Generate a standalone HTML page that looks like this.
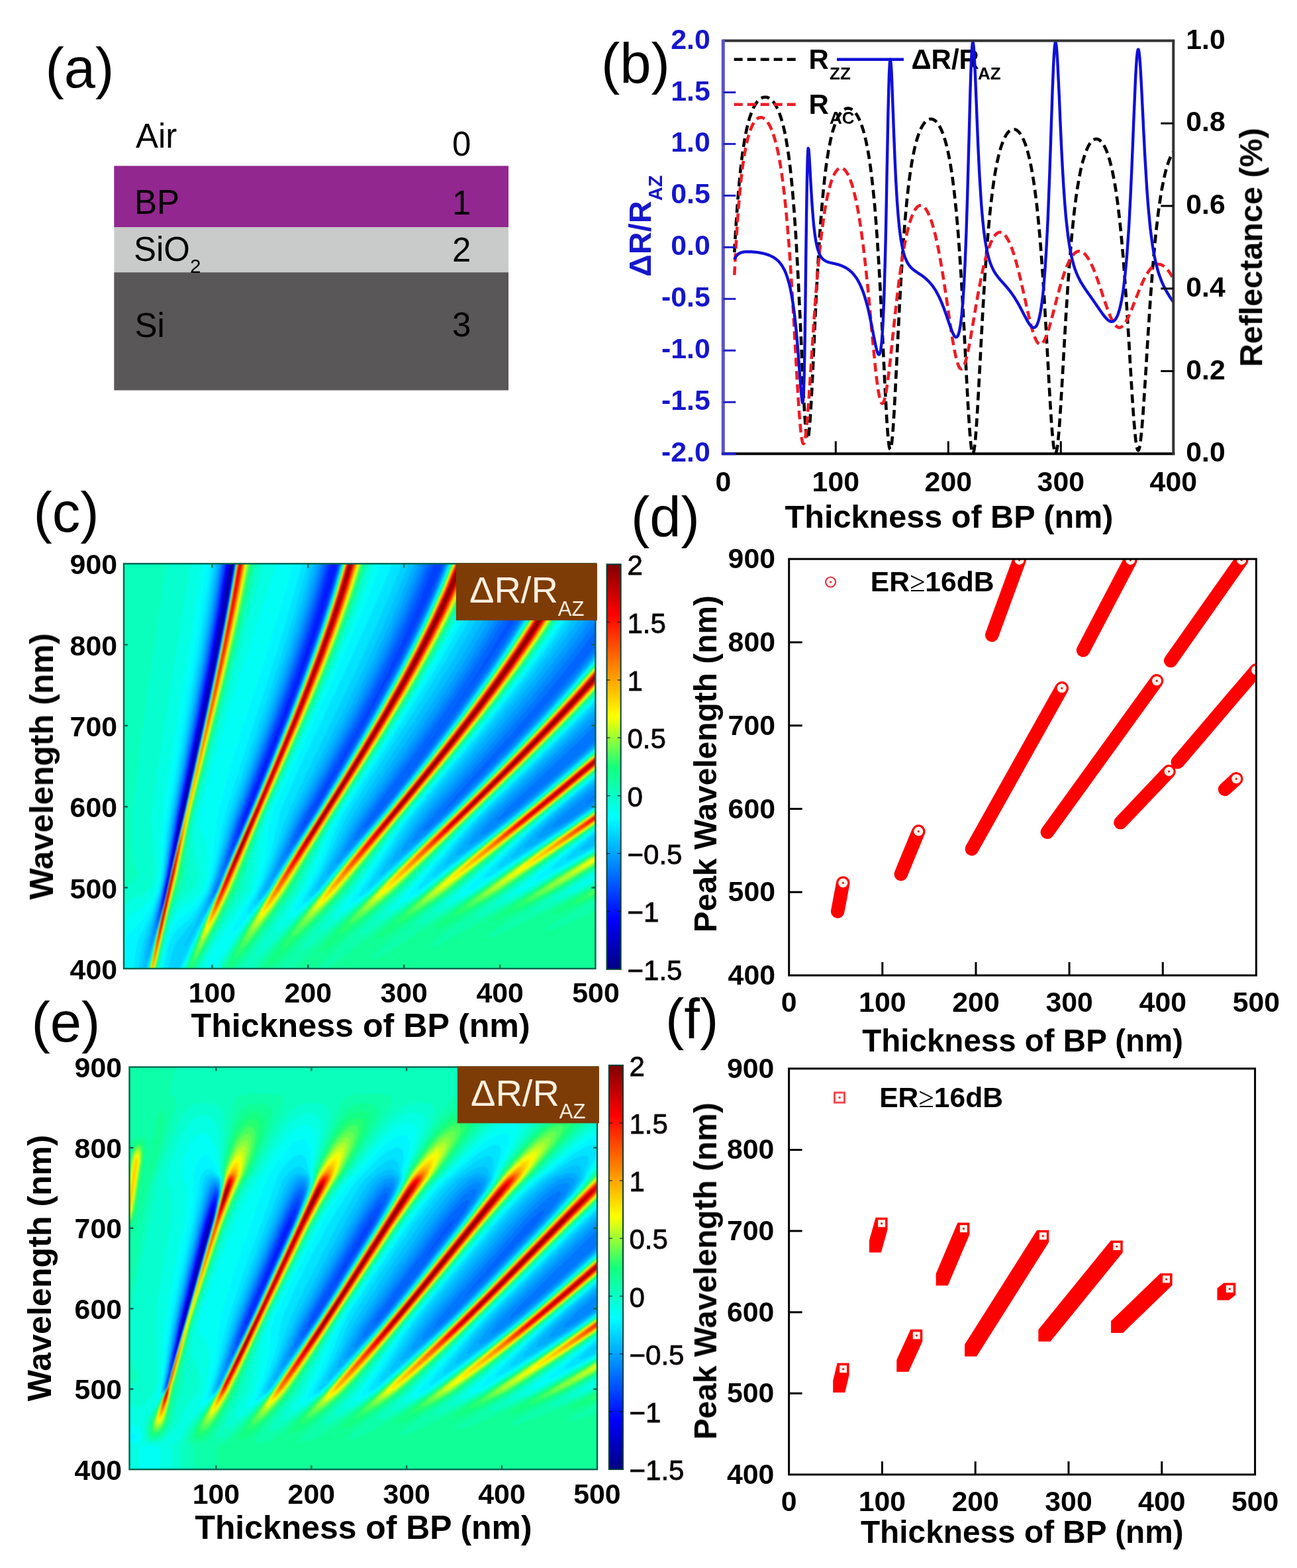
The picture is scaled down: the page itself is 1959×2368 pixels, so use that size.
<!DOCTYPE html>
<html lang="en"><head><meta charset="utf-8"><title>Figure</title>
<style>html,body{margin:0;padding:0;background:#fff;overflow:hidden}svg{display:block}text{font-family:"Liberation Sans", sans-serif}</style></head>
<body><svg width="1959" height="2368" viewBox="0 0 1959 2368">
<defs><clipPath id="hc"><rect x="0" y="0" width="1425" height="1223"/></clipPath><filter id="hcb" x="-2%" y="-2%" width="104%" height="104%" color-interpolation-filters="sRGB"><feGaussianBlur stdDeviation="2.4"/></filter>
<linearGradient id="hcg" x1="0" y1="0" x2="0" y2="1"><stop offset="0" stop-color="#800000"/><stop offset="0.125" stop-color="#ff0000"/><stop offset="0.375" stop-color="#ffff00"/><stop offset="0.5" stop-color="#14ff7a"/><stop offset="0.625" stop-color="#00ffff"/><stop offset="0.875" stop-color="#0000ff"/><stop offset="1" stop-color="#000080"/></linearGradient>
<clipPath id="he"><rect x="0" y="0" width="1413" height="1215"/></clipPath><filter id="heb" x="-2%" y="-2%" width="104%" height="104%" color-interpolation-filters="sRGB"><feGaussianBlur stdDeviation="2.4"/></filter>
<linearGradient id="heg" x1="0" y1="0" x2="0" y2="1"><stop offset="0" stop-color="#800000"/><stop offset="0.125" stop-color="#ff0000"/><stop offset="0.375" stop-color="#ffff00"/><stop offset="0.5" stop-color="#14ff7a"/><stop offset="0.625" stop-color="#00ffff"/><stop offset="0.875" stop-color="#0000ff"/><stop offset="1" stop-color="#000080"/></linearGradient>
<clipPath id="cb"><rect x="1092.3" y="61.5" width="680.0" height="623.8"/></clipPath>
<clipPath id="cd"><rect x="1191.7" y="844.2" width="705.7" height="628.8"/></clipPath>
<clipPath id="cf"><rect x="1191.6" y="1613.8" width="704.0" height="613.1"/></clipPath>
<filter id="soft" filterUnits="userSpaceOnUse" x="0" y="0" width="1959" height="2368" color-interpolation-filters="sRGB"><feGaussianBlur stdDeviation="0.6"/></filter></defs>
<rect width="1959" height="2368" fill="#fff"/>
<g filter="url(#soft)">
<rect x="172.3" y="250.5" width="595.7" height="92.5" fill="#92278f"/>
<rect x="172.3" y="343.0" width="595.7" height="68.3" fill="#c9caca"/>
<rect x="172.3" y="411.3" width="595.7" height="178.1" fill="#595757"/>
<text x="205.0" y="223.0" font-size="51" fill="#000">Air</text>
<text x="683.0" y="235.3" font-size="51" fill="#000">0</text>
<text x="203.0" y="323.0" font-size="51" fill="#000">BP</text>
<text x="683.0" y="323.5" font-size="51" fill="#000">1</text>
<text x="202.0" y="394.3" font-size="51" fill="#000">SiO<tspan dy="18" font-size="29.5">2</tspan></text>
<text x="683.0" y="394.8" font-size="51" fill="#000">2</text>
<text x="203.5" y="508.9" font-size="51" fill="#000">Si</text>
<text x="683.0" y="508.3" font-size="51" fill="#000">3</text>
<g transform="translate(187.0 851.3) scale(0.5)" clip-path="url(#hc)">
<g filter="url(#hcb)">
<rect x="-8" y="-8" width="1440" height="1239" fill="#000089"/>
<path fill="#00009b" d="M-6-6l1436 0 0 1234-1436 0z"/>
<path fill="#0000ad" d="M-6-6l330 0-14 100-1 12 1 2 21-114 1099 0 0 1234-1436 0zM204 628l-32 143-8 42 0 8 1-5 1-2 8-34 20-94 9-46 1-3 1-9zM206 619l-1 7 1 1z"/>
<path fill="#0000bf" d="M-6-6l328 0-23 146-28 156-32 158-69 320-12 63-2 13 0 7 1-5 1-2 10-41 16-71 74-352 44-221 30-171 1098 0 0 1234-1436 0z"/>
<path fill="#0000d1" d="M-6-6l326 0-23 144-26 144-34 170-71 335-16 88-1 9 1 2 32-136 80-376 42-212 29-168 1097 0 0 1234-1436 0zM130 975l-4 15 0 8 4-16z"/>
<path fill="#0000e4" d="M-6-6l323 0-22 142-26 146-34 172-70 330-23 129-1 9 1 1 1-5 1-3 6-25 32-138 78-364 44-222 30-172 1096 0 0 1234-1436 0zM134 954l-9 36-2 14 1 3 6-22 3-21 1-1z"/>
<path fill="#0000f6" d="M-6-6l321 0-22 142-26 146-34 172-68 326-28 156-15 68-1 10 0 2 1 0 8-29 11-57 45-194 74-345 44-221 18-99 13-77 1095 0 0 1234-1436 0z"/>
<path fill="#0009ff" d="M-6-6l319 0-21 136-28 156-32 163-67 325-29 158-16 78-2 14 0 6 4-11 8-31 11-56 43-186 72-333 46-229 18-98 15-92 1095 0 0 1234-1436 0z"/>
<path fill="#001bff" d="M-6-6l317 0-21 135-26 147-34 174-67 326-28 160-17 80-3 16 1 7 6-19 8-31 11-55 43-186 72-332 46-229 18-98 16-95 301 0 0 4 1 3 2-7 790 0 0 1234-1436 0z"/>
<path fill="#002eff" d="M-6-6l315 0-21 135-26 146-32 166-67 331-29 162-19 92-2 18 0 2 1 1 6-18 10-39 11-54 45-196 68-313 26-125 22-112 18-98 16-98 292 0-19 74-22 78-24 80-28 86-26 74-32 86-107 273-10 29-2 8 0 4 8-15 12-27 48-120 50-130 58-156 38-106 28-83 26-82 21-73 783 0 0 1234-1436 0z"/>
<path fill="#0040ff" d="M-6-6l313 0-21 133-26 148-32 166-65 323-31 176-20 97-2 13 0 8 2-3 4-11 14-53 11-55 43-186 66-302 28-134 24-122 20-109 15-89 285 0-19 74-22 76-24 78-26 80-30 86-32 88-109 284-16 48-4 16 0 4 4-4 12-24 28-64 72-180 64-168 40-110 34-99 30-95 26-90 780 0 0 1234-1436 0z"/>
<path fill="#0052ff" d="M-6-6l311 0-21 131-24 137-32 169-67 335-29 169-23 109-2 18 0 4 1 1 4-9 4-12 14-55 13-63 43-186 64-292 28-134 24-122 20-109 15-91 280 0-18 70-20 70-22 72-26 80-30 88-34 94-117 310-10 30-10 34-3 14 1 4 8-13 14-29 34-78 74-184 60-156 42-115 36-105 30-95 26-91 287 0-28 76-34 84-36 82-40 84-32 64-36 68-50 90-103 182-10 18-4 10 0 1 2-1 6-8 10-16 80-136 66-118 74-138 50-97 42-87 38-84 30-74 466 0 0 1234-1436 0z"/>
<path fill="#0064ff" d="M-6-6l308 0-20 128-26 149-32 169-63 318-31 182-24 116-2 14 0 8 2-2 2-4 6-18 16-62 13-62 41-178 56-254 32-151 26-130 22-118 18-105 274 0-18 68-20 71-22 72-25 79-29 84-34 95-118 317-12 36-14 47-6 24 0 6 6-9 12-24 24-52 24-56 70-172 60-154 46-125 38-110 32-100 28-97 275 0-28 74-30 74-34 78-38 80-42 84-48 92-157 283-20 42-3 11 0 2 1 1 10-11 16-22 22-34 30-50 92-158 82-148 58-111 50-102 42-93 38-92 283 0-24 52-24 48-28 52-30 54-62 104-50 78-41 60 2 1 100-141 70-106 32-52 32-54 28-51 24-45 148 0 0 1234-1436 0zM888 588l-1 2 1 0 2-2zM890 585l0 3 1-2zM892 582l-1 2 1 1zM974 470l-82 112 2 0 2-2 36-48 42-58 1-2zM982 459l-8 11 2 1 2-3 5-8zM984 457l-1 1 1 1 1-1zM992 445l-7 11 1 1 6-9 1-2zM994 442l-1 2 1 1 1-1z"/>
<path fill="#0076ff" d="M-6-6l305 0-21 136-24 138-30 159-65 331-29 176-26 126-4 22 0 8 2-1 2-4 8-23 18-70 13-62 43-186 50-226 34-160 26-129 22-117 20-118 268 0-16 63-20 71-22 73-24 75-30 89-32 91-121 328-31 101-8 30-2 12 2-2 2-3 12-24 60-134 68-166 62-158 46-124 40-114 34-106 29-102 265 0-27 72-30 74-33 76-37 78-43 86-49 94-159 292-14 28-12 27-6 17-2 6 0 4 2 0 6-6 20-26 22-32 30-48 104-176 84-150 62-117 52-106 44-97 39-96 264 0-34 72-42 78-46 80-48 78-54 82-62 90-64 90-137 188-24 38-3 10 0 2 1 0 4-2 10-9 26-28 26-31 54-68 110-144 98-136 74-108 62-98 56-96 46-88 140 0 0 202-37 50-38 50-40 50-46 56-94 108-173 192-26 30-7 10 1 1 2-1 12-10 58-57 68-70 80-85 58-64 72-82 56-66 54-66 0 986-1436 0z"/>
<path fill="#0089ff" d="M-6-6l302 0-20 130-24 139-30 161-63 324-10 56-23 145-28 131-3 18 1 7 2-2 4-9 8-24 18-69 15-71 41-176 48-216 36-169 28-138 24-128 18-109 263 0-19 72-20 70-22 73-24 75-30 89-32 92-113 309-16 50-36 122-16 44-1 6 2 0 2-2 4-7 17-43 79-178 68-166 60-152 48-128 40-114 34-106 31-106 254 0-27 72-28 69-32 73-36 78-44 90-48 93-163 303-17 35-16 37-10 27-2 7 0 4 2 0 6-6 22-30 34-50 32-50 100-168 86-152 62-116 56-112 48-106 40-98 248 0-34 71-39 73-44 76-47 78-56 86-64 94-62 88-144 201-18 29-14 24-8 18-1 4 1 2 4-1 6-4 22-22 30-33 32-38 62-78 68-88 62-82 58-80 80-116 66-102 30-50 30-52 26-48 25-50 135 0 0 173-36 51-39 52-43 54-43 54-56 66-62 72-205 230-32 40-7 12-3 8 2 2 2-1 12-7 18-14 27-24 63-62 96-99 80-85 78-86 80-92 68-83 0 229-271 254-22 24-7 8-3 6 1 1 2 1 12-6 20-14 26-20 124-104 118-104 0 162-30 26-6 6 0 2 12-6 24-16 0 524-1436 0z"/>
<path fill="#009bff" d="M-6-6l299 0-21 134-24 139-28 152-65 339-31 195-32 145-3 22 0 4 1 3 6-13 10-30 18-66 21-96 39-167 42-189 38-176 30-147 24-127 21-122 256 0-17 64-20 71-44 143-28 85-32 92-119 331-48 160-21 60-2 10 0 1 2 1 6-8 8-14 23-56 77-176 66-160 56-142 48-128 42-119 36-112 30-103 243 0-25 68-28 69-30 70-34 74-44 91-48 95-56 106-93 173-18 36-18 38-27 64-10 27-2 7 0 4 2 0 6-7 20-27 50-74 36-56 98-164 90-158 64-119 56-113 48-105 40-99 233 0-33 67-38 72-40 71-46 76-56 88-62 93-72 103-123 174-20 30-22 34-19 36-12 26-1 6 1 2 4-2 10-8 28-29 34-37 44-52 62-78 70-90 62-82 54-74 82-118 36-54 34-54 30-50 30-52 26-48 25-50 131 0 0 148-42 59-45 61-50 64-51 64-103 122-197 224-24 28-20 26-14 20-10 18-4 8 0 4 2 2 2 0 16-10 20-16 28-24 55-52 95-96 90-94 94-102 86-98 72-87 0 202-97 93-198 188-22 22-19 22-12 16-5 10 1 3 4 0 8-3 10-6 30-20 42-32 118-98 140-122 0 136-98 80-29 28-7 8-3 6 1 2 2 0 8-2 27-14 47-30 52-36 0 512-1436 0z"/>
<path fill="#00adff" d="M-6-6l295 0-21 135-26 152-91 485-27 179-9 43-29 124-6 30 0 14 2 0 2-4 8-21 16-52 12-44 82-359 46-210 38-182 30-156 23-134 249 0-36 132-44 144-60 179-115 323-12 40-37 127-28 81-2 8 2 2 4-4 6-8 16-29 23-57 85-196 58-141 48-121 52-138 44-124 36-111 31-107 232 0-25 66-26 65-30 70-32 71-42 88-48 96-151 288-18 36-18 40-37 88-18 47-2 9 4-3 8-11 28-40 62-94 36-56 96-160 86-150 66-122 60-119 48-105 22-53 20-51 216 0-32 66-34 64-38 68-42 71-56 89-62 94-68 100-133 192-20 30-24 40-35 67-11 23-1 6 2 2 6-4 8-7 28-29 54-60 52-62 128-162 58-76 56-76 84-120 36-54 38-60 30-49 30-53 28-51 25-49 127 0 0 121-9 13-41 60-46 62-49 64-52 66-100 120-203 235-24 29-22 30-20 30-21 34-6 14 1 2 4 0 16-10 30-24 32-28 64-60 88-88 104-108 86-92 92-104 76-91 0 180-97 95-220 210-29 32-20 24-17 24-5 8-2 6 2 2 4 0 12-6 14-8 38-26 50-38 40-32 86-72 144-125 0 120-96 77-34 30-22 20-15 16-11 14-4 8 1 2 3 0 9-2 17-8 21-12 61-38 70-49 0 507-1436 0z"/>
<path fill="#00bfff" d="M-6-6l291 0-21 133-26 153-89 482-8 48-19 137-8 41-37 144-7 40-1 14 1 9 2-1 2-4 10-29 22-73 12-44 12-50 17-80 43-184 54-244 40-190 32-166 23-136 241 0-36 132-46 151-56 169-109 312-16 50-37 133-16 47-18 48-4 12 0 6 4-2 10-14 12-21 14-26 27-67 79-182 52-126 44-110 56-146 48-134 40-122 32-110 218 0-26 70-32 78-34 79-38 82-72 148-147 285-20 42-14 32-51 126-24 54-1 6 1 2 4-2 8-8 29-46 117-180 98-162 84-146 72-133 58-115 50-109 22-52 20-51 197 0-35 71-40 75-46 80-48 80-44 70-50 76-195 288-22 36-22 38-53 104-10 22-1 6 1 2 6-4 10-10 34-36 76-86 44-52 66-82 64-82 60-78 56-76 86-122 36-54 36-56 34-56 30-52 28-52 25-50 125 0 0 93-41 61-39 56-43 58-45 60-51 64-91 110-198 233-25 31-29 40-40 63-18 31-4 8 0 4 0 1 2 1 2-1 14-9 20-16 46-40 83-76 88-88 111-114 88-94 86-96 84-100 0 161-104 103-204 196-24 24-30 33-27 33-30 40-6 10-1 6 0 1 2 1 6-2 12-6 15-10 57-40 58-44 50-40 72-60 82-70 72-63 0 107-109 88-48 42-24 24-21 22-14 18-4 6-1 4 1 1 4 0 14-5 50-28 70-44 82-57 0 100-6 7-3 6 3 2 6-1 0 389-1436 0z"/>
<path fill="#00d1ff" d="M-6-6l285 0-19 126-26 155-87 479-8 50-19 143-9 43-42 150-8 42-5 46-62 0zM340-6l230 0-18 68-22 79-48 157-46 140-113 330-12 42-31 118-10 33-10 29-37 84-14 30-21 38-4 10-1 6 1 1 2-1 6-9 23-41 33-52 16-29 18-35 25-62 73-168 50-120 76-190 32-84 32-88 26-75 24-73 22-72 19-66 202 0-27 70-30 74-32 74-36 79-66 138-141 281-26 54-14 34-51 134-31 70-3 10 1 2 1 1 4-2 6-5 16-18 37-60 103-160 96-158 88-152 70-128 60-118 28-60 24-53 24-57 20-50 175 0-35 69-40 75-42 74-48 81-84 133-167 252-48 76-20 36-39 81-54 105-5 10 0 2 1 1 3-1 5-5 30-33 112-128 56-66 126-158 58-76 54-72 88-124 42-62 36-56 34-56 30-52 30-55 26-51 122 0 0 64-37 58-42 62-38 54-40 54-90 116-82 100-179 212-36 44-30 43-62 99-16 28-4 8-1 4 1 2 4-1 16-11 62-54 102-94 96-94 110-113 100-106 90-101 76-90 0 146-109 108-211 204-28 28-37 42-49 62-22 30-6 10-1 4 3 1 8-3 32-20 72-52 68-52 60-48 74-62 146-126 0 97-120 97-50 44-33 32-36 38-17 20-4 6-1 4 1 1 4 0 13-5 25-14 34-20 94-60 90-62 0 86-38 34-11 12-3 6 2 1 2 0 12-3 36-17 0 381-1364 0 42-146 14-54 23-104 39-166 34-152 42-194 32-155 26-136z"/>
<path fill="#00e4ff" d="M-6-6l279 0-19 124-24 145-87 489-8 52-15 127-4 25-7 32-7 25-16 50-21 59-6 22-6 30-8 54-51 0zM340-6l217 0-37 138-46 153-44 136-111 333-14 50-31 130-8 27-10 29-24 49-18 32-16 23-31 38-10 16-5 10-6 19-13 51-64 0 43-160 14-56 19-88 41-174 44-198 38-176 28-138 24-127zM661-6l181 0-24 62-26 64-30 70-34 76-54 115-119 245-55 118-18 44-22 70-20 57-20 49-26 56-2 8 0 5 2 1 4-2 10-9 12-13 16-21 35-57 125-196 74-122 70-120 80-144 34-65 30-60 30-63 26-58 24-57 21-53 151 0-35 70-38 72-44 78-46 78-78 126-159 244-54 86-21 40-27 64-22 48-21 42-30 54-2 8 1 3 4-1 6-3 18-15 45-54 139-162 54-66 70-88 62-80 54-72 48-66 48-68 42-62 36-56 36-58 30-52 30-55 28-55 120 0 0 39-53 85-64 94-74 102-80 102-78 96-183 218-24 30-18 25-16 24-96 153-8 14-2 6 2 1 2 0 12-9 94-84 121-112 97-96 100-102 98-104 90-100 80-94 0 132-115 116-215 208-31 32-38 42-63 78-28 36-7 12-3 6 2 2 10-4 36-24 68-50 102-78 60-48 74-62 148-127 0 89-126 102-60 52-38 36-51 52-21 24-4 6-1 4 1 1 4 0 12-5 22-12 36-22 128-82 98-67 0 76-37 31-35 30-18 18-5 8 1 2 2 0 17-6 29-14 46-24 0 376-1266 0 57-118 41-77 22-44 29-71 77-178 74-180 64-164 54-148 44-132 18-60z"/>
<path fill="#00f6ff" d="M-6-6l271 0-19 124-22 134-87 500-8 58-13 124-4 27-6 29-18 50-14 34-23 48-9 22-5 22-9 62-34 0zM340-4l0-2 200 0-34 126-40 135-42 133-83 256-32 102-12 48-17 87-12 55-6 21-10 31-20 37-20 30-18 21-32 29-8 9-6 10-6 13-6 18-16 73-49 0 55-215 21-97 41-176 48-214 34-159 28-137 22-117zM662-4l0-2 151 0-45 110-55 124-62 134-113 238-30 66-24 56-9 22-6 20-6 24-13 64-10 35-12 38-10 28-15 35-16 30-11 22-4 12 0 6 2 0 6-3 16-14 18-21 24-31 37-61 121-190 76-126 60-102 42-74 40-73 36-68 32-64 30-62 26-57 26-61 22-57 129 0-36 74-38 74-44 80-46 80-40 66-46 74-163 252-38 61-20 40-28 72-26 59-32 62-16 26-2 8-1 2 2 2 3 0 4-2 10-6 16-14 17-16 46-56 123-144 40-48 110-138 92-120 50-68 48-68 44-64 40-62 36-58 34-58 30-55 28-55 118 0 0 18-27 46-58 92-66 96-68 92-80 102-90 110-157 187-26 33-28 40-77 122-39 60-5 8-1 4 2 2 2 0 6-2 10-6 14-10 210-196 76-74 124-126 102-107 100-111 76-89 0 122-119 121-217 210-39 40-36 40-71 84-46 58-10 14-4 8 0 2 2 0 6-2 32-22 80-60 140-108 62-50 72-60 148-127 0 82-134 109-65 56-68 64-42 42-27 30-6 8-1 4 1 1 4-1 14-6 28-16 42-26 150-98 104-71 0 69-60 48-48 40-24 22-6 8-2 4 2 1 6-1 27-12 42-22 63-35 0 373-1259 0 52-116 61-122 27-66 87-202 82-201 58-149 50-139 40-121z"/>
<path fill="#01fff6" d="M-6-6l260 0-36 228-87 520-8 62-11 130-4 26-8 32-14 33-12 23-10 16-12 16-20 22-16 15-6 10-5 15-4 16-7 70zM340-6l173 0-23 83-28 94-38 123-81 254-22 72-20 72-12 46-6 30-4 26-7 70-10 66-6 23-11 35-15 24-16 21-16 16-24 18-10 8-8 10-8 12-10 24-8 26-18 81-40 0 56-223 21-97 41-176 52-232 32-150 26-129 22-118zM663-6l117 0-55 140-62 146-58 130-113 244-38 86-8 22-7 24-3 18-3 44-4 26-9 41-10 35-15 40-45 76-16 30-6 16 2 1 2-1 8-7 38-39 30-36 30-40 43-70 113-178 104-172 50-86 46-82 42-78 36-70 34-70 30-65 28-65 24-60 112 0-35 76-40 78-42 78-48 84-42 70-44 72-179 278-24 40-20 41-37 93-20 44-20 40-19 28-10 18-3 10 1 3 1 1 5-1 6-3 16-11 22-20 25-25 48-58 117-138 48-58 96-120 88-114 52-70 50-70 48-70 42-64 40-64 34-58 30-55 28-55 116 0-35 62-44 72-48 72-52 74-70 94-76 96-82 100-145 173-28 35-34 48-85 132-24 36-17 22-6 12 0 2 2 2 2 0 12-5 18-11 27-20 263-250 124-125 108-113 102-112 88-103 0 114-59 61-68 68-218 212-41 42-37 40-71 82-71 86-5 6-2 6 0 2 2 0 10-2 12-6 16-10 224-174 68-54 56-46 100-84 84-73 0 77-146 118-65 56-73 68-53 50-41 42-10 12-3 6 1 1 4 0 14-7 68-42 200-132 104-71 0 64-82 63-52 42-39 34-10 10-4 6 0 2 1 0 8-2 31-14 59-32 88-50 0 370-1255 0 52-120 57-117 31-75 81-188 94-230 56-146 46-128 38-117z"/>
<path fill="#04ffe3" d="M-6-6l242 0-30 195-65 399-23 152-7 62-5 130-4 26-8 30-14 23-12 15-12 12-18 13-16 9-6 6-6 8-6 11-6 14-4 12zM341-6l122 0-101 310-58 182-42 141-30 113-4 26 0 22 4 14 10 21 5 13 3 16 1 18 0 28-2 32-2 16-5 18-9 24-7 10-18 18-28 20-10 8-10 12-10 17-10 23-10 32-8 33-14 67-35 0 57-232 19-88 42-176 55-250 30-141 26-129 22-119zM664-6l96 0-25 70-28 74-30 76-34 82-54 124-123 270-22 49-10 25-8 24-7 26-4 24-8 64-5 30-6 23-10 33-100 149-16 28-32 63-60 0 49-116 59-124 31-76 91-212 88-216 52-136 46-128 38-117zM989-6l101 0-35 76-40 80-42 80-48 84-40 68-48 78-177 276-26 44-14 26-12 26-47 110-21 46-21 30-16 24-9 18-2 6-1 6 1 3 2 0 4-1 8-4 14-10 34-30 40-40 55-68 155-184 88-110 78-100 60-80 52-72 50-72 44-66 40-64 38-64 32-58 30-58 107 0-40 70-44 72-50 76-54 76-66 88-74 94-82 100-141 168-32 40-26 36-36 52-80 122-19 22-12 16-6 10-3 8 0 2 2 2 4 0 6-2 12-7 28-19 38-30 61-60 190-180 129-129 110-115 106-116 86-100 0 106-63 66-70 70-218 212-44 44-85 94-92 106-15 16-9 12-4 8 0 2 4 1 6-1 9-4 25-14 30-20 298-236 120-100 108-93 0 72-152 123-68 58-86 78-64 60-45 44-7 8-1 4 0 2 3 1 10-3 18-8 18-10 276-184 98-68 0 60-106 80-66 52-52 44-13 12-3 4 0 2 4 1 9-3 28-14 89-50 110-64 0 72-26 20-6 6-3 4 3 1 4-1 28-11 0 277-1159 0 32-52 32-48 22-30 53-68 30-41 43-71 117-184 62-102 58-98 46-80 42-76 38-71 34-67 32-66 28-61 26-61z"/>
<path fill="#07ffd0" d="M-6-6l209 0-86 528-16 110-14 102-2 28 0 30 7 110 1 30-1 14-2 10-5 12-5 10-7 10-7 5-12 7-14 7-14 4-6 4-7 7-7 8-6 10-6 12zM341-6l82 0-66 250-113 408-22 83-6 27-6 38-1 20 0 18 3 31 10 41 3 20 1 10-2 10-5 18-11 20-24 19-12 12-12 16-10 20-12 32-10 35-8 34-15 72-31 0 19-82 37-150 19-88 44-184 55-250 30-141 24-120 22-118zM664-4l0-2 84 0-25 74-26 72-30 78-34 84-56 130-131 290-22 53-12 34-12 45-8 35-10 57-10 42-50 73-34 53-22 40-37 74-48 0 44-108 61-131 33-81 71-164 64-154 52-130 50-132 42-118 36-111zM990-6l92 0-29 66-32 66-36 70-40 74-52 90-56 92-68 108-115 179-22 36-22 40-26 53-54 120-30 42-24 36-16 30-3 10-1 6 2 2 2 0 8-4 14-10 18-16 46-42 49-52 62-76 151-180 82-102 72-92 62-82 54-74 50-72 44-65 42-67 38-64 34-61 31-61 100 0-42 74-48 78-52 78-58 82-66 88-70 88-82 100-137 164-32 40-28 38-44 62-69 102-29 34-18 24-9 14-4 10 1 3 2 1 4 0 12-6 14-8 38-28 44-36 92-90 156-148 130-130 112-116 110-120 86-100 0 100-65 68-74 74-91 90-127 122-45 46-97 104-81 92-32 32-13 16-5 10 0 2 2 2 4 0 10-4 12-6 34-20 46-32 70-57 228-181 120-100 104-89 0 67-148 120-80 68-106 94-103 94-15 16-3 4-1 4 2 2 4 0 17-6 28-14 35-20 286-194 84-58 0 55-122 91-88 68-55 44-8 8-4 6 1 2 2 0 11-2 20-8 25-12 218-127 0 62-73 51-15 12-5 6 3 2 4-1 17-5 69-33 0 271-1150 0 31-52 34-54 95-132 45-74 129-204 68-112 62-106 78-140 34-64 32-64 28-58 28-62 24-56z"/>
<path fill="#0affbd" d="M-6-6l137 0-35 226-30 208-21 164-17 148-3 52 1 46 2 28 4 28 4 22 5 16 0 6-4 10-14 16-12 12-17 15zM341-6l66 0-30 130-34 136-105 394-26 102-8 41-6 46-4 49 0 46-3 16-4 14-9 20-12 19-10 19-14 37-8 26-10 39-22 100-28 0 19-80 37-152 17-78 44-184 59-270 30-140 24-120 20-108zM665-6l76 0-36 106-44 118-38 94-42 100-46 104-99 220-16 38-14 38-18 57-10 35-11 46-12 40-33 52-38 66-24 44-38 76-38 0 19-50 26-64 57-124 31-76 81-188 62-150 52-130 48-127 40-113 36-112zM991-6l86 0-34 76-36 74-42 80-44 80-50 86-54 88-62 98-103 160-22 36-24 42-34 65-52 109-44 62-42 66-26 46-6 14-1 6 1 1 4-2 8-5 32-30 92-93 59-63 60-74 149-178 82-102 72-92 62-82 54-74 52-74 46-68 44-70 36-61 34-61 31-60 93 0-45 80-48 78-56 84-60 84-62 82-76 96-84 102-119 142-34 42-80 108-67 96-38 44-29 36-16 24-4 8-1 6 0 2 3 1 6-1 10-6 16-10 46-35 54-45 26-23 70-69 167-160 129-128 116-121 106-115 88-102 0 95-66 69-78 78-86 85-132 127-45 46-95 100-86 94-31 30-23 24-17 20-5 8-1 4 0 2 3 2 6-1 12-5 18-10 46-30 59-42 79-65 232-185 110-92 100-86 0 64-158 128-78 66-110 96-80 72-38 32-21 20-6 8-1 4 0 2 2 1 6-1 12-4 14-6 40-22 52-32 366-251 0 52-156 115-130 98-23 20-6 6-2 4 1 2 6 0 19-6 27-12 39-20 18-10 207-123 0 56-113 75-18 14-4 4-2 4 1 2 2 0 8-1 30-11 40-18 56-29 0 267-1143 0 26-46 30-50 28-42 71-101 49-81 103-162 90-148 78-134 74-134 60-118 28-59 24-54 22-52z"/>
<path fill="#0dffaa" d="M341-6l57 0-29 132-36 150-123 475-8 37-6 34-8 55-7 59-4 20-10 32-11 25-8 21-12 39-16 64-20 91-25 0 20-88 31-126 23-104 39-166 64-288 28-132 24-119 20-107zM666-6l69 0-38 114-46 124-36 90-44 104-48 110-89 198-16 37-26 71-49 148-25 44-44 82-57 112-31 0 19-50 24-60 18-42 39-86 33-80 77-178 68-164 54-136 46-122 40-114 34-106zM992-6l80 0-33 74-36 76-40 78-44 80-48 82-56 92-64 102-105 163-26 43-58 105-52 101-34 48-97 144-33 46-52 0 25-48 30-52 26-40 67-98 51-84 99-156 96-158 84-144 70-128 58-114 26-56 24-53 22-52zM1319-4l1-2 88 0-47 84-52 84-58 86-66 92-58 76-70 88-82 100-119 142-34 42-80 106-68 94-58 66-48 60-24 34-5 10-2 6 1 2 2 0 8-3 12-7 16-12 52-43 84-72 43-39 77-76 162-156 135-134 115-120 96-104 90-104 0 89-71 75-77 78-84 82-132 128-48 48-102 106-80 86-51 48-36 36-26 30-7 10-3 6 1 2 2 1 10-3 16-8 22-14 66-45 82-61 86-71 228-183 108-90 96-82 0 60-192 156-138 118-103 90-62 50-34 32-9 10-4 8 1 2 1 1 6-1 12-4 16-8 44-24 60-37 41-27 89-63 272-187 0 49-158 115-114 84-56 40-29 24-8 8-3 6 0 2 6 0 20-6 32-14 44-23 62-35 204-124 0 51-157 101-27 20-6 6-3 4 0 2 3 1 8-1 18-6 25-10 71-34 68-36 0 56-11 8-3 4-1 2 5 1 10-2 0 195-1041 0 32-40 40-46 139-154 61-76 121-144 54-66 86-108 80-104 54-72 50-70 44-64 38-58 36-58 36-61 32-58z"/>
<path fill="#10ff97" d="M342-6l51 0-30 138-34 144-30 120-93 362-12 59-19 117-6 26-8 28-15 43-12 42-16 65-19 90-23 0 17-78 31-126 25-114 40-166 64-288 27-132 24-118 20-108zM666-4l0-2 65 0-38 114-46 126-40 100-42 100-149 336-20 52-45 126-16 42-123 238-23 0 19-52 27-70 51-115 35-85 77-178 68-164 54-136 46-122 38-109 34-105zM993-6l75 0-31 72-36 74-38 76-44 80-52 90-58 96-189 298-64 112-53 98-108 156-35 47-26 33-2 2-31 0 9-21 14-27 35-62 26-42 58-86 52-86 115-182 92-152 82-142 64-118 56-111 48-105 22-52zM1321-6l83 0-45 82-52 84-60 90-68 94-64 84-70 88-74 90-119 142-34 42-86 112-66 88-92 104-106 123-10 11-54 0 32-44 42-54 39-46 83-94 59-74 127-152 54-66 102-128 90-118 48-66 44-62 42-62 36-56 34-55 32-56 28-51zM1430 298l0 85-54 57-65 66-95 94-187 182-115 118-86 90-105 96-75 72-41 42-23 28-76 0 118-116 131-122 78-78 175-168 100-100 92-94 86-91 80-89zM1429 566l1-1 0 57-204 166-236 201-102 79-71 58-31 26-21 20-13 14-4 8 2 2 8-2 24-12 36-21 52-34 202-136 98-70 260-180 0 46-278 201-104 70-62 44-29 22-20 16-12 12-2 4 0 2 3 1 6-1 24-10 38-20 50-27 186-110 80-50 120-73 0 46-120 75-88 53-58 36-47 32-14 12-4 6 1 2 4 0 18-6 30-12 36-17 106-54 136-73 0 43-65 35-45 26-31 20-10 8-3 4 0 2 2 1 6-1 32-10 52-21 62-28 0 181-822 0 28-19 36-28 243-191 85-71 230-185 110-92z"/>
<path fill="#13ff84" d="M342-4l0-2 46 0-29 138-34 148-32 128-89 350-10 47-23 129-6 26-8 30-15 47-10 37-16 68-19 86-21 0 19-84 29-120 25-114 40-166 66-296 27-132 22-110 20-108zM667-6l60 0-38 116-46 126-38 96-46 110-145 329-18 45-65 172-56 110-45 88-18 34-5 8-14 0 15-48 29-76 51-116 31-76 97-226 64-156 52-132 42-113 36-104 30-94zM994-6l71 0-30 68-32 68-36 72-42 78-52 92-60 100-60 96-113 176-26 42-60 104-57 100-70 102-57 77-20 25-16 17-12 10-4 2-2-1-1-4 1-6 10-26 18-36 21-38 26-42 53-81 49-81 99-156 48-78 92-154 74-130 58-109 50-101 44-97zM1322-4l1-2 78 0-42 76-46 76-52 80-58 82-58 78-64 82-94 116-163 196-163 210-87 96-78 82-22 21-18 16-12 8-4 2-4 1-2-2 0-2 2-6 10-20 20-30 31-42 37-46 67-78 64-80 127-152 70-86 110-140 96-128 76-108 36-54 32-50 30-50 28-48 26-48zM1430 300l0 80-51 54-64 66-70 70-222 216-201 204-86 76-78 65-26 20-20 14-14 8-4 1-2 0-1-2 1-4 12-18 21-26 32-34 40-40 62-60 80-80 178-172 139-139 76-79 78-84 68-76zM1428 568l2-2 0 54-194 158-253 212-85 63-70 48-28 17-18 10-12 4-3 0-1-1 0-3 4-6 16-18 24-24 35-30 157-131 234-189 96-80zM1428 744l2-2 0 44-252 179-46 32-76 48-56 32-24 13-18 8-10 3-4 0-2-1 0-2 4-6 14-14 24-20 34-26 152-109zM1429 870l1 0 0 41-126 78-76 42-42 21-34 16-22 9-8 1-5 0 0-2 2-4 11-10 18-14 26-18 119-76zM1428 972l2-1 0 34-54 26-40 17-28 10-10 2-5 0-1-2 5-6 25-18 36-22z"/>
<path fill="#25ff72" d="M342-4l0-2 43 0-24 116-30 132-40 166-85 335-14 64-27 141-10 40-11 35-12 45-16 68-20 92-19 0 20-92 27-112 27-122 40-166 66-296 28-134 22-110 19-108zM667-6l57 0-37 114-44 122-40 102-46 110-147 334-83 212-46 94-49 94-20 34-6 8-4 3-1-3 1-8 6-23 14-41 18-46 48-112 33-80 65-150 42-100 62-152 50-128 38-103 34-98 30-95zM994-4l1-2 67 0-31 72-32 68-36 72-40 74-44 78-50 84-74 120-133 208-129 220-58 84-47 63-34 41-12 11-4 2-2 0-1-3 0-6 7-19 16-33 20-36 25-40 41-64 51-84 95-150 64-104 88-148 68-120 56-105 48-97 44-97zM1324-6l75 0-42 76-46 76-54 82-56 80-64 86-72 92-88 108-155 186-166 210-62 68-56 57-38 35-12 9-8 3-2-2 1-4 9-18 18-28 24-32 72-88 61-76 133-160 94-116 100-128 88-118 74-106 66-102 30-50 28-49 24-44zM1429 302l1-1 0 77-51 54-122 124-222 216-217 218-64 55-48 39-38 26-12 6-4 1-1-1-1-2 3-6 9-14 17-20 22-24 135-136 198-192 136-137 74-77 62-66 68-76zM1429 568l1-1 0 52-186 151-266 220-60 43-42 28-34 19-10 4-6 0-1-2 1-4 11-14 21-20 31-28 116-98 261-212zM1429 744l1-1 0 41-293 206-55 33-42 24-30 13-8 1-3-1 2-4 5-6 19-18 28-22 57-42 102-73zM1429 872l1-1 0 38-130 78-32 17-36 19-30 13-18 6-4 1-4-1 1-4 11-10 38-28 80-52zM1427 976l3-2 0 26-48 20-18 6-7 0-1-2 2-2 12-10 24-16z"/>
<path fill="#47ff60" d="M343-6l39 0-27 132-26 116-28 118-99 394-12 56-27 136-33 126-35 156-18 0 22-100 29-122 28-122 35-146 66-298 28-132 21-110 20-108zM668-6l53 0-36 114-44 122-40 102-44 106-46 106-101 229-87 217-42 86-32 62-25 45-8 12-4 3-1-2 0-6 5-20 14-42 15-40 191-448 58-142 48-124 38-103 34-99 28-88zM996-6l63 0-30 70-32 70-38 74-38 72-50 88-56 94-72 116-125 196-129 216-52 76-41 54-16 19-14 15-10 8-2 1-2-1-1-2 1-6 8-20 12-24 18-32 56-90 51-84 101-160 64-104 76-128 70-123 58-109 50-101 44-97zM1324-4l1-2 71 0-39 72-46 76-52 80-60 86-66 88-78 100-88 108-145 174-168 210-52 56-40 40-36 32-10 7-6 2-1-3 1-4 8-16 14-22 21-28 112-140 145-174 92-114 98-126 80-108 74-106 66-102 28-46 28-49 26-48zM1429 304l1-1 0 73-49 52-66 68-76 76-199 194-225 222-47 41-38 30-30 20-10 5-6 2-2-2 1-4 7-12 15-18 20-22 100-102 202-196 157-158 70-73 64-69 54-60zM1428 570l2-2 0 49-456 372-46 33-36 22-26 14-6 1-3-1 0-4 4-6 17-18 22-20 60-52 81-68 219-178zM1427 746l3-2 0 39-180 126-116 79-38 23-32 17-20 9-6 1-4 0-1-2 1-2 3-4 15-14 67-52 102-74zM1428 874l2-1 0 33-88 53-54 31-46 22-16 6-11 2-1-2 7-8 15-12 23-16 67-44zM1428 980l2-1 0 16-21 7-7 1-2 0 1-3 4-4z"/>
<path fill="#68ff4f" d="M343-6l36 0-28 140-24 108-28 118-97 389-12 54-29 145-31 119-36 161-16 0 23-108 28-114 27-122 35-146 68-306 26-124 22-110 20-108zM668-4l0-2 51 0-18 58-20 60-46 128-32 82-36 88-54 126-99 224-93 228-36 76-28 54-25 45-8 11-4 3-1-3 0-4 5-19 12-35 13-36 39-90 35-86 67-154 52-124 54-132 48-124 38-103 32-93 28-88zM996-4l0-2 61 0-30 70-32 68-36 72-40 76-52 92-56 94-72 116-121 190-131 216-42 62-33 44-28 33-10 9-6 4-2-2 0-4 6-16 10-22 18-32 95-156 101-160 76-124 76-128 66-117 56-105 48-97 42-93zM1325-4l1-2 68 0-43 78-46 76-52 80-56 80-76 102-82 104-80 98-127 152-182 224-44 48-36 35-16 14-12 9-8 4-3 0-1-2 2-6 6-12 12-18 21-28 94-118 139-168 102-126 98-126 80-108 74-106 62-96 30-50 28-48 24-45zM1428 306l2-2 0 70-57 60-71 74-85 84-405 396-42 35-32 25-24 15-6 2-4-1 1-4 3-6 15-20 72-76 70-70 201-196 82-82 76-78 106-114 50-56zM1429 570l1-1 0 47-320 261-138 110-34 24-28 17-20 11-6 1-4 0 0-2 3-6 15-16 73-66 84-70 211-172zM1429 746l1-1 0 37-178 123-116 78-22 13-26 14-18 8-9 2-1-2 1-2 11-12 24-20 36-28 103-74zM1427 876l3-2 0 30-92 54-55 30-28 12-7 1-2 0-1-1 3-4 9-8 33-24 58-38z"/>
<path fill="#8aff3d" d="M343-6l34 0-32 158-24 108-26 110-95 383-10 45-29 144-31 121-37 165-15 0 23-106 28-116 25-112 39-164 66-298 26-122 22-112 19-106zM669-6l48 0-18 58-20 62-22 62-26 70-34 88-38 92-50 116-97 220-93 226-34 72-24 46-21 38-8 11-4 4-1-3 0-4 5-20 10-30 11-30 68-162 71-164 52-124 54-132 48-124 38-103 32-94 28-88zM997-6l58 0-30 70-32 70-36 72-42 78-52 92-62 104-66 106-117 184-133 218-38 54-29 39-24 28-8 7-6 4-2-2 1-4 5-16 12-24 16-28 85-140 107-170 76-124 72-122 64-113 56-106 48-97 42-93zM1327-6l65 0-41 74-44 74-52 80-54 78-80 108-90 114-80 98-117 140-187 228-35 38-30 29-22 19-8 4-4 2-2-2 0-2 7-14 11-18 18-24 85-108 149-180 108-134 90-116 78-106 72-104 62-96 54-92 24-45zM1429 306l1-1 0 67-56 60-80 82-90 90-284 277-96 92-26 23-42 34-24 16-6 2-5 0 1-4 2-4 13-18 66-70 70-70 208-204 83-83 72-75 106-114zM1428 572l2-2 0 45-290 236-146 116-30 23-32 21-22 11-6 3-4-1 0-2 3-6 13-14 30-28 41-36 84-70 203-166zM1430 746l0 35-154 106-116 77-46 28-20 10-6 2-4 0 0-2 2-4 12-12 25-20 37-28 99-72zM1430 876l0 26-66 38-47 26-30 14-7 3-4-1 3-4 7-6 30-22 48-32z"/>
<path fill="#abff2c" d="M343-6l32 0-32 160-24 108-26 112-93 375-41 195-29 116-38 168-13 0 22-106 30-124 23-104 37-154 68-306 28-134 22-110 18-98zM669-6l46 0-18 60-20 60-24 68-24 66-36 92-38 92-54 126-89 202-95 228-30 64-22 44-21 36-6 8-4 3-1-3 0-4 5-18 20-56 65-156 71-164 52-124 54-132 46-119 38-103 32-93 28-89zM998-6l55 0-30 70-32 70-38 76-42 78-54 96-66 110-66 106-107 168-136 220-33 48-25 33-22 25-8 7-4 2-1-3 0-4 5-13 10-20 14-25 77-128 107-170 82-134 70-118 62-110 56-105 48-97 42-93zM1327-4l1-2 62 0-39 72-48 80-52 80-56 80-80 108-90 114-350 424-32 38-41 42-28 25-8 5-6 2-1-2 1-4 10-18 14-20 41-54 56-70 131-158 108-134 90-116 80-108 74-106 62-96 54-92 24-45zM1429 308l1-1 0 63-65 70-78 80-89 88-254 247-94 90-46 43-26 21-30 21-8 4-4 0 0-2 3-6 12-16 61-66 68-68 206-202 78-79 72-74 98-105 50-56zM1429 572l1-1 0 43-270 219-136 108-66 49-30 18-6 2-4 0 0-2 3-6 18-18 26-24 39-34 81-68 207-170zM1428 748l2-1 0 33-136 93-110 73-56 34-16 8-4 1-2-1 4-6 15-14 59-46 105-76zM1429 878l1-1 0 23-87 48-21 10-6 2-4 0 8-8 24-18z"/>
<path fill="#cdff1a" d="M344-6l29 0-16 84-18 88-24 108-26 110-91 369-39 187-27 108-41 180-12 0 24-114 28-116 23-104 39-162 68-306 26-124 22-112 18-96zM670-6l43 0-18 60-22 68-22 62-26 70-36 92-40 98-50 116-89 202-93 224-28 58-20 40-19 34-6 8-4 4-2-2 0-2 4-16 8-25 12-31 61-148 71-163 54-129 52-127 46-119 38-103 32-93 28-88zM998-4l1-2 52 0-30 72-34 72-38 76-40 76-58 102-66 110-66 106-97 152-142 228-31 44-25 33-18 19-6 4-2-1 0-5 6-15 22-41 73-122 107-170 80-130 72-122 60-106 54-102 48-97 42-93zM1329-6l59 0-41 76-46 76-52 80-58 84-76 102-88 112-80 98-246 296-59 70-24 25-20 19-14 12-10 6-4 0 0-2 2-6 10-16 52-70 61-76 147-178 82-102 90-116 80-108 72-104 62-96 54-92 24-45zM1430 308l0 61-65 69-78 80-91 91-310 300-88 81-32 24-10 6-6 1-1-1 2-4 8-12 45-50 79-80 200-196 115-117 68-71 58-62 54-60zM1428 574l2-2 0 41-254 206-126 100-52 39-36 26-18 10-6 3-3-1 1-4 3-4 18-18 65-58 83-70 195-160zM1429 748l1-1 0 32-106 72-104 69-58 36-18 10-10 4-1-2 1-2 10-10 56-44 99-72zM1429 880l1-1 0 19-60 32-18 8-4 0 8-8 16-12z"/>
<path fill="#eeff09" d="M344-6l28 0-17 88-18 86-22 100-28 120-89 361-41 195-25 101-42 183-10 0 24-114 27-116 23-104 39-160 70-316 24-116 22-110 18-98zM670-4l0-2 42 0-19 62-22 66-22 64-26 70-36 92-42 102-48 112-87 198-95 226-26 56-19 37-18 31-4 5-4 3 0-8 4-16 18-48 59-144 69-158 56-134 52-127 44-113 38-103 32-93 28-88zM999-6l51 0-31 72-34 74-38 76-42 78-60 106-66 110-60 96-97 152-127 204-28 42-31 42-20 23-6 5-4 1 0-5 6-16 22-40 67-112 107-170 82-134 72-122 58-103 54-101 48-98 42-93zM1329-4l1-2 56 0-41 76-44 74-52 80-60 86-74 100-86 110-80 98-216 260-55 65-42 48-22 23-16 14-12 9-4 2-1-1-1-2 3-6 9-16 48-64 51-64 137-166 98-122 90-116 80-108 72-104 62-96 54-92 24-45zM1429 310l1-1 0 58-76 81-80 82-88 88-278 269-66 61-44 39-26 19-6 3-2 0-2-1 4-8 16-20 56-60 68-68 192-188 140-143 98-105zM1429 574l1-1 0 39-228 185-124 98-54 41-36 26-24 16-8 4-3 0 0-2 3-4 15-16 25-24 39-34 84-70 187-154zM1427 750l3-2 0 30-102 69-96 63-56 34-12 6-4 0 4-6 14-12 46-36 93-68zM1429 882l1-1 0 15-36 18-10 4-3 0 3-4 10-8z"/>
<path fill="#fff600" d="M344-4l0-2 26 0-17 90-18 88-22 100-28 120-88 356-40 192-25 102-40 176-3 10-8 0 11-58 14-64 48-212 39-158 68-308 26-124 22-110 18-98zM671-6l39 0-19 64-22 66-24 70-26 70-38 96-42 102-48 112-81 184-97 230-24 52-19 36-16 26-4 5-2 0 0-6 4-15 20-54 51-124 71-164 58-138 50-122 44-113 38-103 32-93 30-94zM999-4l1-2 48 0-31 74-33 72-37 74-44 82-58 102-66 110-268 426-36 56-27 38-22 27-8 7-5 2 0-2 1-6 8-18 44-77 43-71 97-154 82-134 70-118 62-110 54-101 48-97 42-93zM1331-6l54 0-40 74-48 80-52 80-60 86-74 100-88 112-80 98-188 226-67 79-52 60-32 30-10 7-4 1 0-3 2-4 8-14 44-60 53-66 133-162 100-124 90-116 78-106 70-100 64-100 54-92 24-45zM1429 312l1-2 0 56-75 80-76 78-84 84-255 247-70 65-54 49-27 21-9 6-4 1-1-1 1-4 4-6 12-14 56-60 69-70 185-182 136-138 106-114zM1430 574l0 37-202 164-116 92-94 71-26 18-10 6-8 4-1-2 1-2 13-14 23-22 34-30 83-70 187-154zM1428 750l2-1 0 28-86 58-84 55-52 32-15 8-6 2 0-2 1-2 9-8 43-34 84-62zM1430 884l0 9-12 5-4 1-2-1z"/>
<path fill="#ffe400" d="M344-4l0-2 25 0-16 84-20 98-22 100-26 112-87 356-41 192-25 104-38 166-5 22-8 0 9-48 16-74 48-211 39-159 70-316 26-124 22-112 18-98zM671-6l38 0-20 66-22 66-24 70-26 70-36 92-44 106-46 108-81 184-91 216-24 52-21 42-14 24-6 7-2 0 0-5 4-16 18-48 51-124 71-164 58-138 48-118 44-112 38-103 34-99 28-88zM1001-6l46 0-30 70-34 74-38 76-42 80-58 102-68 114-248 394-48 74-23 33-24 31-8 8-6 4-1-2 1-5 8-18 38-67 47-78 97-154 82-134 70-118 62-110 54-102 46-93 42-93zM1332-6l51 0-40 74-46 78-52 80-58 84-56 76-66 86-72 90-84 102-160 192-81 94-42 46-18 16-6 4-2 0 0-4 6-12 18-26 26-34 54-68 138-168 98-122 88-114 74-100 72-104 60-94 28-46 26-46zM1429 312l1-1 0 53-69 74-71 74-84 84-234 227-72 68-54 49-38 32-10 7-8 5-2-2 8-12 41-46 79-80 189-186 105-106 64-67 56-61 54-60zM1428 576l2-1 0 35-198 161-114 90-90 67-27 18-5 2-2 1-1-1 6-8 16-16 59-52 69-58 179-148zM1429 750l1 0 0 26-78 53-82 53-43 26-13 6-3 0 5-6 12-10 38-30 68-50z"/>
<path fill="#ffd100" d="M345-6l23 0-17 88-20 98-24 110-26 110-84 342-42 200-21 87-36 157-10 42-6 0 10-56 13-64 49-213 39-157 72-326 24-116 22-110 18-98zM672-6l36 0-19 62-22 68-26 74-26 70-38 98-44 106-123 283-87 205-22 48-22 46-15 26-6 8-2 1 0-7 4-15 16-43 49-120 71-164 59-138 49-122 44-112 38-104 32-92 29-90zM1002-6l43 0-30 72-34 74-38 76-42 80-58 102-66 110-62 100-168 266-46 72-33 49-28 37-10 10-4 2-1-2 1-4 8-18 40-70 43-72 91-144 86-140 72-122 58-103 54-102 48-97 40-88zM1332-4l1-2 49 0-41 76-48 80-52 80-58 84-58 78-66 86-72 90-84 102-142 170-83 97-48 52-16 14-4 2-2-1 2-6 12-19 40-53 49-62 135-164 90-112 90-116 74-100 72-104 60-93 54-92 24-44zM1429 314l1-2 0 51-77 83-72 74-80 80-217 210-68 64-56 51-36 31-14 10-6 4-1-2 1-2 10-14 21-24 31-32 67-68 187-184 132-135 92-99zM1429 576l1-1 0 34-142 116-138 110-100 75-30 20-4 2-3 0 6-8 14-14 61-54 224-186zM1428 752l2-2 0 25-74 50-70 45-40 24-9 4-3 0 3-4 9-8 46-36 57-42z"/>
<path fill="#ffbf00" d="M345-6l22 0-16 84-20 98-24 110-26 112-86 348-40 192-21 89-31 137-15 59-2 5-3 0 7-43 17-85 49-213 37-145 74-338 24-116 22-112 18-98zM672-4l0-2 34 0-19 64-22 68-24 70-28 74-38 98-42 102-125 288-79 186-20 46-24 50-15 28-6 9-4 3-1-4 3-12 16-44 49-120 71-164 59-138 48-118 43-112 37-98 33-98 28-88zM1002-4l0-2 42 0-31 74-34 74-38 76-44 82-56 100-66 110-62 100-154 244-52 80-37 56-26 34-8 8-4 2-1-2 1-4 8-17 38-67 40-66 98-156 82-134 66-112 60-106 54-101 46-93 42-93zM1334-6l47 0-40 74-48 80-52 80-58 84-54 74-60 78-70 88-82 100-150 180-71 83-56 61-14 13-4 3-4 1 0-2 2-5 8-13 38-51 64-80 136-166 80-100 84-108 76-104 68-98 62-96 52-89 24-44zM1430 314l0 48-78 84-72 74-82 82-212 205-68 64-52 47-34 28-8 6-6 3 0-1 1-4 13-16 51-54 59-60 179-176 125-128 98-105zM1428 578l2-2 0 32-136 111-130 104-92 69-26 18-10 6-4 1 0-1 3-4 13-14 66-58 212-176zM1429 752l1-1 0 23-66 45-62 39-34 20-8 4-2 1-2-1 6-6 12-10 36-28z"/>
<path fill="#ffad00" d="M345-6l20 0-20 108-26 124-30 134-37 153-50 199 0-8 1-2 1-7 53-243 40-192 26-136zM673-6l32 0-20 68-22 66-24 70-28 76-40 102-42 102-121 278-77 182-22 50-23 48-14 25-6 9-3 2-1-2 0-2 4-14 16-43 46-111 71-164 60-142 48-118 42-108 37-102 33-94 30-94zM1003-6l40 0-32 76-34 74-38 76-44 82-54 96-68 114-62 100-144 228-54 84-41 61-22 29-8 8-4 2 0-4 6-14 38-68 40-66 98-156 82-134 66-112 60-106 54-102 46-93 40-89zM1334-4l1-2 44 0-42 78-46 78-52 80-60 86-54 74-60 78-70 88-74 90-142 170-69 81-58 64-16 15-8 6 0-4 8-14 40-54 59-74 135-164 80-100 88-114 72-98 68-99 60-93 52-89zM1429 316l1-1 0 46-83 89-70 72-78 78-199 193-62 58-56 51-34 29-10 7-4 2-1-2 1-2 11-14 47-50 55-56 182-180 125-128 90-96zM1429 578l1-1 0 30-134 110-126 100-92 69-22 14-4 2-2 0 4-6 14-14 64-56 190-158zM200 714l0-1 1 1-1 6zM198 724l0-1 0 5zM194 742l0-1 0 4zM192 750l0-1 0 6zM1429 752l1 0 0 21-58 39-50 32-33 20-9 4-2 1-1-1 15-14 30-24zM190 756l1 2-1 7-6 31-29 140-55 237-8 31-6 19 0-11 4-25 18-87 48-212 16-65 16-60 1-1z"/>
<path fill="#ff9b00" d="M345-6l19 0-17 94-24 116-30 136-37 153-38 151-1-2 1-7 53-247 32-156 24-128zM673-6l31 0-21 70-22 68-26 74-28 76-38 96-42 102-117 270-79 186-24 54-19 39-14 26-6 9-2 1 0-7 6-19 32-81 30-72 63-144 58-138 50-122 46-118 36-98 34-98 28-88zM1004-6l38 0-31 74-34 74-40 80-44 82-40 72-46 78-52 86-64 102-128 202-54 84-43 63-14 17-6 6-2 1 0-5 6-13 16-30 24-41 48-78 100-160 62-102 70-118 58-103 54-102 46-93 40-88zM1335-6l43 0-41 76-46 78-52 80-58 84-54 74-60 78-68 86-72 88-142 170-63 74-60 66-16 16-6 4-2 1 0-3 2-4 8-12 34-46 56-70 142-174 72-90 88-114 72-98 68-98 60-94 52-89zM1430 316l0 43-84 91-68 70-76 76-192 187-58 54-56 51-36 30-8 6-5 2 1-4 10-12 50-54 224-222 121-124 95-102zM1430 578l0 28-130 107-120 95-82 62-24 16-5 2-2 0 4-6 15-14 54-48 190-158zM216 646l0-1 0 6zM214 656l0-1 0 3zM1428 754l2-2 0 21-50 33-44 28-31 18-10 4 1-2 6-6 30-24zM184 782l0-1 1 1-1 6-4 25-27 129-51 220-10 38-4 10 2-19 4-23 16-78 46-202 16-64z"/>
<path fill="#ff8900" d="M346-6l17 0-16 88-24 118-29 128-34 145-30 118 0-8 49-231 28-140 22-118zM674-6l29 0-20 68-22 68-26 74-28 76-38 96-42 102-119 275-65 153-48 108-15 28-6 10-4 5-1-1 0-4 5-17 30-76 32-77 63-144 58-138 52-128 44-112 36-98 32-94 28-88zM1004-4l0-2 37 0-32 76-34 74-40 80-44 82-40 72-46 78-52 86-64 102-124 196-52 80-45 65-12 15-4 4-2 0 0-2 2-6 8-16 34-60 44-72 103-164 63-104 67-112 57-102 54-102 47-94 40-88zM1335-4l1-2 41 0-40 74-46 78-54 84-60 86-50 68-58 76-66 84-72 88-138 166-57 66-56 63-20 20-10 8-1-1 1-2 8-14 34-46 56-70 136-166 72-90 86-112 72-98 68-98 58-91 50-85 24-44zM1429 318l1-1 0 41-91 98-68 70-76 76-187 182-52 48-54 49-30 25-8 5-2 1-1 0 3-6 12-14 51-54 206-204 119-122 92-98zM1428 580l2-2 0 28-126 103-112 89-80 60-18 12-7 4-3 1 0-1 3-4 10-10 51-46 190-158zM228 594l0-1 0 5zM1429 754l1-1 0 19-48 32-38 24-25 14-5 2-3 0 10-10 23-18zM180 798l0-1 1 1-3 22-23 112-46 200-11 43-6 21-1-2 0-4 3-20 14-70 44-194 16-65z"/>
<path fill="#ff7600" d="M346-4l0-2 16 0-23 124-29 136-34 149-34 137-1-2 1-8 41-196 28-140 18-98zM674-4l0-2 28 0-21 70-24 74-26 74-28 76-38 96-42 102-115 266-63 148-30 68-21 45-14 27-4 6-4 4 0-5 6-19 30-76 30-72 61-140 60-142 50-122 42-108 38-102 32-94 28-88zM1005-6l34 0-30 72-34 76-40 80-44 82-40 72-42 72-52 86-56 90-128 202-46 72-49 71-12 16-8 8-1-1 1-4 6-13 32-57 46-76 107-170 59-98 67-112 58-104 52-98 45-92 41-90zM1337-6l39 0-41 76-46 78-52 80-58 84-54 74-58 76-62 78-76 94-124 148-59 69-60 67-18 18-8 6 0-2 2-4 6-10 30-40 54-68 134-164 72-90 86-112 72-98 68-98 58-91 51-87zM1430 318l0 39-98 105-66 68-74 74-180 175-54 50-50 45-24 20-6 4-2 1-1-1 5-8 14-16 44-46 195-194 120-122 93-100zM240 540l1 0-1 7zM1429 580l1-1 0 26-122 100-112 89-70 52-21 14-4 2-2 0 3-4 14-14 40-36 180-150zM1430 754l0 17-72 47-25 14-7 3 1-3 4-4 17-14zM178 808l0-1 0 7-4 24-21 100-42 184-11 43-6 20 0-9 2-14 14-70 44-194 16-64z"/>
<path fill="#ff6400" d="M346-6l15 0-10 58-21 104-24 113-30 130-24 96 0-9 37-180 26-132 16-88zM675-6l26 0-20 68-24 74-26 74-28 76-38 96-42 102-170 396-53 118-16 32-8 12-1-2 1-4 4-14 28-72 32-76 61-140 60-142 48-118 44-112 36-98 34-98 28-88zM1006-6l32 0-31 74-34 76-40 80-44 82-40 72-42 72-52 86-56 90-124 196-45 69-46 68-14 18-6 6 0-4 6-13 30-54 40-66 97-154 72-118 66-112 58-102 52-98 46-94 40-88zM1338-6l37 0-40 74-48 80-52 82-60 86-54 74-58 76-68 86-72 88-120 144-59 69-56 61-14 13-2 2-2-1 4-8 10-14 46-60 158-194 94-118 71-92 61-84 67-96 60-94 52-88 24-44zM1429 320l1-1 0 37-95 102-64 66-71 72-172 167-50 47-42 38-38 32-6 4-4 2 2-4 11-14 46-48 191-190 119-122 92-98zM250 498l0-1 0 5zM1430 580l0 24-118 97-104 83-64 48-20 14-10 5-1-1 2-2 9-10 40-36zM1428 756l2-2 0 16-58 38-24 14-8 3-1-1 4-4 17-14zM176 816l0 7-4 22-19 91-40 176-11 42-6 20 0-8 2-13 14-70 40-176 14-57z"/>
<path fill="#ff5200" d="M347-6l14 0-9 46-20 104-22 103-28 123-20 80 0-8 1-2 1-8 31-152 22-114zM675-6l25 0-21 70-24 74-26 76-30 80-36 92-42 102-166 386-55 123-16 31-4 6-2 1 2-11 4-12 32-80 32-76 55-126 56-132 48-118 44-112 38-102 34-98 28-88zM1006-4l0-2 31 0-31 74-35 78-40 80-46 86-40 72-46 78-52 86-56 90-114 180-43 66-44 64-14 18-4 4-1 0 1-5 6-12 30-53 40-66 103-164 60-98 66-112 56-100 52-98 46-92 40-88zM1338-4l1-2 34 0-40 76-48 80-54 84-58 84-50 68-58 76-66 84-70 86-112 134-57 67-58 64-16 16-4 3-1 0 1-4 12-18 40-52 165-202 92-116 65-86 60-82 67-96 58-90 51-88 24-44zM1430 320l0 35-94 101-129 132-159 155-92 86-38 33-16 11-1-1 1-2 10-12 37-40 196-194 119-122 88-94zM1428 582l2-2 0 23-116 95-102 82-64 48-16 10-4 2-2 0 3-4 10-10 33-30zM1429 756l1-1 0 15-60 38-15 8-3 0 5-6 15-12zM174 826l0-1 0 5zM172 832l0-2 1 2-1 10-19 92-41 178-10 40-4 11 0-6 2-13 12-60 38-168 14-57z"/>
<path fill="#ff4000" d="M347-6l13 0-18 95-22 108-26 117-20 82 0-9 43-219zM676-6l23 0-20 68-24 74-27 76-29 80-36 92-42 102-158 368-57 128-16 33-8 12 0-6 4-12 30-77 34-80 57-130 54-128 50-122 42-108 38-102 32-94 28-88zM1007-6l29 0-31 74-34 76-40 80-45 84-39 70-44 76-100 164-155 243-44 65-16 22-8 9-1-1 1-2 4-10 28-50 44-72 99-158 60-98 66-112 56-100 52-98 44-90 40-88zM1340-6l32 0-39 74-46 78-54 84-58 84-50 68-55 72-59 76-68 84-86 104-85 100-54 61-16 16-10 9-1-2 1-2 4-6 28-38 38-48 139-170 70-88 80-104 72-98 66-96 56-88 52-88zM1429 322l1-1 0 33-97 104-125 128-154 150-92 87-32 27-10 8-6 3 0-1 2-4 10-12 34-36 188-186 115-118 88-94zM272 400l0-2 0 5zM1429 582l1-1 0 21-114 94-100 80-56 42-16 11-4 2-2 0 3-5 10-10 39-34zM1430 756l0 13-42 27-22 12-1-2 9-8zM170 840l0-1 1 3-1 7-17 83-38 168-13 48-1 0 1-13 10-50 36-160 14-57zM100 1150l0-1 0 4z"/>
<path fill="#ff2e00" d="M348-6l11 0-17 90-18 89-22 101-16 67 0-9 37-194zM676-4l0-2 22 0-21 72-24 74-27 76-29 80-53 132-64 152-144 334-34 75-10 20-6 9-1-2 1-4 4-12 28-72 34-80 57-130 54-128 50-122 42-108 36-98 32-92 28-88zM1008-6l27 0-31 74-35 78-40 80-45 84-38 68-42 72-48 80-55 90-149 234-46 68-14 18-4 4 0-4 6-12 26-46 34-56 103-164 62-102 66-112 54-96 52-98 44-90 38-84zM1340-4l1-2 30 0-41 76-46 78-54 84-58 84-49 68-57 74-59 76-67 82-86 104-78 93-50 55-16 17-8 6 0-1 2-4 6-10 38-50 157-192 92-116 68-90 60-82 66-96 56-88 49-84zM1430 322l0 31-99 107-122 124-145 142-56 53-40 37-28 24-10 8-5 2 1-2 7-10 34-36 183-182 115-118 88-94zM284 344l0-1 0 5zM1430 582l0 20-100 82-102 82-50 38-20 14-9 4 1-2 7-8 29-26zM1428 758l2-1 0 11-38 24-12 6-2 1-1-1 19-16zM168 848l1 2-1 6-17 84-35 152-12 47-1-1 1-12 10-50 32-142 14-57z"/>
<path fill="#ff1b00" d="M348-4l0-2 10 0-28 145-30 137-1-2 1-9 27-145zM677-6l20 0-21 71-24 74-28 81-30 80-50 127-62 147-139 324-37 81-16 30-1-1 0-2 3-10 30-76 32-76 51-116 56-132 50-122 44-112 36-98 34-98 28-88zM1008-4l1-2 25 0-31 76-35 75-40 81-46 86-38 68-40 69-98 161-144 227-46 69-12 16-8 9-1-1 1-2 4-9 24-43 38-62 99-158 56-92 64-108 56-100 50-94 46-92 40-88zM1341-6l29 0-40 75-46 78-52 81-58 84-48 66-56 74-58 74-66 82-86 104-78 93-48 53-16 16-6 4 2-4 8-12 30-40 155-190 92-116 70-92 58-80 62-90 58-90 50-86zM298 278l0-2 1 2-1 6zM1429 324l1-1 0 29-50 54-56 60-118 120-139 136-89 84-28 24-14 10 0-2 6-8 30-32 181-180 111-114 85-90zM1428 584l2-1 0 18-106 87-92 74-56 42-13 8-3 0 16-16 30-26zM1429 758l1 0 0 9-24 15-14 7-1-1 7-6zM166 858l0-1 0 6zM164 864l0-1 1 1-1 10-13 64-35 152-10 39-1-1 1-11 8-40 32-142z"/>
<path fill="#ff0900" d="M349-6l8 0-21 110-22 103-1-1 1-10 19-106zM678-6l18 0-22 75-24 74-26 74-30 81-48 122-62 148-138 321-36 79-16 31 0-5 4-12 26-66 32-76 51-116 52-122 50-122 44-112 38-102 34-98 28-88zM1009-6l24 0-31 75-36 79-40 80-44 83-36 65-42 72-96 158-138 218-44 66-16 22-6 7-1-1 1-4 4-8 24-42 127-204 60-98 66-112 56-100 52-98 44-90 40-88zM1341-4l1-2 27 0-41 77-46 77-52 81-58 85-48 66-50 66-56 72-58 72-84 102-84 100-44 50-24 23-1-1 5-8 28-38 155-190 98-124 62-82 60-82 62-90 56-88 48-82zM312 208l1 0-1 8zM1430 324l0 27-54 59-54 57-117 119-139 136-80 76-28 24-8 6-4 2 2-4 8-10 26-28 172-170 111-114 88-94zM1429 584l1-1 0 17-102 84-92 74-48 36-12 8-2 1-2-1 10-10 32-28zM1428 760l2-1 0 7-20 12-4 1 0-1 2-2zM162 874l0-2 1 2-1 7-12 57-32 142-10 40-1-2 1-10 6-30 32-143zM106 1122l0-2 0 5z"/>
<path fill="#f60000" d="M349-6l7 0-14 73-14 68 0-11zM678-4l0-2 17 0-21 72-26 80-28 80-30 81-32 81-40 98-148 346-48 109-16 33-8 14 0-3 6-17 26-66 28-66 47-106 56-132 50-122 44-112 38-102 32-92 28-88zM1009-4l1-2 22 0-32 77-36 79-40 80-44 83-36 65-42 72-90 148-140 222-42 62-18 24-1-2 3-6 20-36 34-56 99-158 56-92 66-112 54-96 50-94 44-90 38-84zM1343-6l25 0-42 78-46 78-50 78-58 84-46 64-50 66-56 72-56 70-82 100-82 98-44 50-14 14-8 7-1-1 1-2 4-6 30-40 145-178 92-116 70-92 58-80 62-90 56-88 48-82zM326 138l0-1 0 6zM1429 326l1-1 0 24-50 55-58 62-110 112-130 128-84 80-30 26-12 8 2-4 5-6 24-26 173-172 112-114 87-94zM1428 586l2-2 0 15-98 81-92 74-45 34-9 5-1-1 12-12 25-22zM1428 762l2-2 0 4-6 3-1-1zM1184 794l0-1 1 1zM158 890l0-1 1 1-1 8-8 39-32 142-8 32-1-1 1-11 6-29 17-74 13-60zM108 1112l0-1 0 5z"/>
<path fill="#e40000" d="M350-4l0-2 4 0-10 53-1-1 1-11zM679-6l15 0-22 75-24 74-26 75-32 86-48 122-62 148-126 294-32 71-18 36 0-4 4-12 20-51 32-76 49-110 50-118 52-126 44-112 38-102 32-92 28-88zM1011-6l20 0-31 75-36 79-40 81-44 83-74 130-92 152-138 219-40 59-16 20 0-3 6-11 24-42 119-190 76-126 54-92 48-86 48-92 44-88 38-84zM1343-4l1-2 23 0-41 76-46 78-50 78-60 88-42 58-48 64-56 72-56 70-80 98-82 98-40 45-22 22-1-1 3-5 26-35 145-178 92-116 68-90 58-80 62-90 56-88 48-82zM342 50l0-2 0 9zM1430 326l0 22-58 64-50 53-99 101-115 114-96 92-24 22-20 16-1-2 3-4 26-28 167-166 110-112 82-88zM1429 586l1-1 0 13-82 68-94 76-42 32-14 9-1-1 6-6 25-22zM156 898l0 8-1-2zM154 906l0-1 2 1-6 29-38 166-1-1 1-10 4-19 17-73 11-52zM110 1102l0-1 1 1-1 5z"/>
<path fill="#d10000" d="M680-6l13 0-21 72-24 74-28 81-30 81-48 122-56 134-126 295-30 67-18 37-1-1 0-2 3-9 20-51 30-70 43-96 52-122 52-126 46-118 38-102 32-92 28-88zM1012-6l18 0-30 72-36 80-40 81-44 83-70 124-88 146-140 222-32 48-20 27-1-1 3-7 26-45 115-184 74-122 56-96 46-82 48-92 44-90 40-88zM1345-6l20 0-39 74-48 82-54 84-58 84-42 58-48 64-56 72-56 70-72 88-82 98-40 46-12 12-6 5 0-2 4-7 20-26 145-178 90-114 70-92 58-80 60-88 54-84 48-82zM1429 328l1-1 0 20-50 55-62 66-92 94-104 104-98 94-31 28-15 12 0-2 4-6 21-22 161-160 111-114 86-92zM1430 586l0 11-1 1-87 72-82 66-42 32-4 2-1 0 33-30zM152 916l0-1 1 1-1 6-4 20-34 150-1-2 1-6 2-12 12-53 1-3 1-6 1-2 1-6 1-2 1-7 1-3 1-7 8-36zM310 958l0-1 0 3zM112 1094l0-2 0 6z"/>
<path fill="#bf0000" d="M680-4l0-2 12 0-22 75-24 74-28 81-32 86-46 116-50 120-81 188-45 108-30 68-16 32 0-4 4-12 16-40 30-70 37-82 54-126 52-126 46-118 38-102 32-92 28-88zM1013-6l16 0-31 74-36 79-40 81-44 84-68 120-84 140-142 226-28 42-18 24 0-3 6-11 22-38 109-174 74-122 50-86 46-82 52-98 44-90 40-88zM1345-4l1-2 18 0-38 72-48 82-54 84-58 84-46 64-42 56-102 130-70 86-90 108-36 41-18 18 0-2 6-9 20-26 129-158 92-116 70-92 58-80 62-90 56-88 48-82zM1429 330l1-2 0 18-64 70-64 68-92 94-106 104-86 82-20 18-8 6 0-2 3-4 23-24 149-148 104-106 86-92zM1429 588l1-1 0 9-2 2-152 124-36 28-4 3-1-1 27-24zM1233 754l1-1 0 1zM150 926l0-1 0 5zM148 932l1 2-1 6-1-2zM146 940l1 0-1 8-6 27 0-9 1-2 1-7 1-1zM138 976l1 0 0 2-1 5zM136 986l0-1 0 6zM134 996l0-2 0 6zM132 1004l0-1 0 6zM128 1022l0-1 0 7zM126 1030l0-1 1 1-1 7-1-1zM124 1038l1 0-1 9-8 35 0-9 1-1 1-8 1-2 3-16 1-2z"/>
<path fill="#ad0000" d="M681-6l10 0-31 103-38 112-32 87-36 93-40 97-48 113-1-1 1-4 25-60 48-120 32-84 30-82 44-130 20-66zM1014-6l13 0-29 72-28 62-28 58-30 60-36 67-68 121-78 130-138 220-30 46-12 16-2 2 0-3 4-8 16-27 109-174 68-112 54-92 48-86 52-98 44-90 40-88zM1348-6l15 0-43 80-34 58-36 58-38 58-44 64-42 58-46 62-100 128-70 86-78 94-38 44-16 18-6 5 0-1 2-4 18-24 129-158 92-116 70-92 58-80 62-90 56-88 48-82zM1430 330l0 14-58 64-68 72-86 88-97 96-89 86-20 18-4 3-1-1 20-22 133-132 96-98 93-98zM1428 590l2-2 0 7-6 5-110 90-23 18-3 0zM464 600l0-1 1 1-1 3-1-1zM462 604l1 0-1 4-1 0zM460 610l0-2 1 2-1 3-1-1zM458 614l0-1 1 1-1 3zM456 618l1 0-1 4-1 0zM454 624l0-1 1 1-1 3zM452 628l0-1 1 1-1 3zM448 638l0-1 0 4zM446 642l1 0-1 3zM442 652l0-1 0 4zM440 656l1 0-1 3zM436 666l0-1 0 4zM434 670l1 0-1 3zM432 674l0 4-1 0zM430 680l0-1 1 1-1 3-1-1zM428 684l0-1 1 1-1 4zM426 688l1 0-1 4-1 0zM424 694l0-2 1 2-1 3-1-1zM422 698l0-1 1 1-1 4-1-2zM420 702l2 0-2 4-48 116-28 64-18 37-1-1 1-4 26-64zM1286 710l2-1 0 1-4 3 0-1zM1005 772l1-1 1 1zM146 944l0-1 0 2zM144 952l0-1 0 3zM120 1058l0-1 0 6z"/>
<path fill="#9b0000" d="M682-4l1-2 7 0-18 60-20 63-44 127-50 130-1-2 1-4 41-110 34-100 26-82zM1015-6l11 0-40 96-24 52-30 62-32 62-30 56-68 120-78 130-130 208-24 36-12 16 0-2 2-4 16-28 103-164 74-122 56-96 46-82 48-92 44-90 38-84zM1349-6l12 0-27 52-28 50-32 54-32 51-38 57-36 52-46 64-42 56-98 126-68 84-78 94-36 42-14 15-1-1 21-28 121-148 84-106 70-92 64-88 62-90 52-82 48-82zM1430 332l0 10-54 60-58 62-66 68-79 80-109 106-32 30 0-2 7-8 150-150 92-94 84-90zM556 374l1 0-1 5-1-1zM554 380l0-1 1 1-1 3zM552 386l0-2 0 4zM548 396l0-1 0 3zM546 402l0-1 0 2zM1428 592l2-1 0 2zM1426 594l2-2 0 2-4 3 0-1zM1421 598l3 0-2 1zM1419 600l2 0-1 1zM1417 602l1-1 1 1zM1414 604l2-1 0 1zM1412 606l2-1 0 1-2 1zM1030 748l2 0-2 1zM394 764l0-1 0 3zM392 768l0-1 0 4-20 50-20 45-18 38-1 0 1-4 16-40 20-46z"/>
<path fill="#890000" d="M684-4l1-2 2 0-17 58-1 0 1-6 1-2zM1016-4l1-2 7 0-20 50-26 60-48 101-56 107-64 114-68 114-110 178-38 60-22 33-1-1 1-3 10-17 97-154 72-118 56-96 48-86 50-94 42-86 38-84zM1351-6l8 0-27 52-36 64-34 56-28 44-36 54-36 52-76 104-88 114-74 92-66 80-44 52-6 7-2-1 135-166 76-96 70-92 64-88 60-88 52-82 48-82zM668 54l0-1 1 1-1 5zM664 68l0-1 0 4zM660 82l0-1 0 2zM1428 336l2-2 0 6-2 2-56 62-58 62-90 93-92 91 0-2 95-96 92-96 54-58zM1130 650l1 0-1 1zM1128 652l1 0-1 1zM1126 654l1 0-1 1zM805 766l1-2 0 2 0 1zM382 792l0-1 0 2zM380 796l0-2 0 4-1 0zM378 800l0-2 1 2-1 4-6 14-26 59-1-1 1-4 4-10 18-42zM570 812l0-1 0 2zM344 878l0-1 1 1-1 3z"/>
</g>
</g>
<rect x="187.0" y="851.3" width="712.4" height="611.5" fill="none" stroke="#00664e" stroke-width="2.4"/>
<path d="M320.4 1462.8v-6.0M320.4 851.3v6.0M187.0 973.6h6.0M899.4 973.6h-6.0M465.3 1462.8v-6.0M465.3 851.3v6.0M187.0 1095.9h6.0M899.4 1095.9h-6.0M610.2 1462.8v-6.0M610.2 851.3v6.0M187.0 1218.2h6.0M899.4 1218.2h-6.0M755.1 1462.8v-6.0M755.1 851.3v6.0M187.0 1340.5h6.0M899.4 1340.5h-6.0" stroke="#00664e" stroke-width="2.4" fill="none"/>
<text x="177.0" y="867.3" font-size="42.8" font-weight="bold" text-anchor="end">900</text>
<text x="177.0" y="989.6" font-size="42.8" font-weight="bold" text-anchor="end">800</text>
<text x="177.0" y="1111.9" font-size="42.8" font-weight="bold" text-anchor="end">700</text>
<text x="177.0" y="1234.2" font-size="42.8" font-weight="bold" text-anchor="end">600</text>
<text x="177.0" y="1356.5" font-size="42.8" font-weight="bold" text-anchor="end">500</text>
<text x="177.0" y="1478.8" font-size="42.8" font-weight="bold" text-anchor="end">400</text>
<text x="320.4" y="1513.6" font-size="42.8" font-weight="bold" text-anchor="middle">100</text>
<text x="465.3" y="1513.6" font-size="42.8" font-weight="bold" text-anchor="middle">200</text>
<text x="610.2" y="1513.6" font-size="42.8" font-weight="bold" text-anchor="middle">300</text>
<text x="755.1" y="1513.6" font-size="42.8" font-weight="bold" text-anchor="middle">400</text>
<text x="900.0" y="1513.6" font-size="42.8" font-weight="bold" text-anchor="middle">500</text>
<text x="544.6" y="1566.3" font-size="50.2" font-weight="bold" text-anchor="middle">Thickness of BP (nm)</text>
<text x="0" y="0" font-size="50.2" font-weight="bold" text-anchor="middle" transform="translate(80.0 1157.4) rotate(-90)">Wavelength (nm)</text>
<rect x="916.5" y="852.2" width="21.2" height="611.6" fill="url(#hcg)" stroke="#06403a" stroke-width="2"/>
<text x="947.5" y="868.2" font-size="42" stroke="#1a1311" stroke-width="0.9">2</text>
<text x="947.5" y="955.6" font-size="42" stroke="#1a1311" stroke-width="0.9">1.5</text>
<text x="947.5" y="1042.9" font-size="42" stroke="#1a1311" stroke-width="0.9">1</text>
<text x="947.5" y="1130.3" font-size="42" stroke="#1a1311" stroke-width="0.9">0.5</text>
<text x="947.5" y="1217.7" font-size="42" stroke="#1a1311" stroke-width="0.9">0</text>
<text x="947.5" y="1305.1" font-size="42" stroke="#1a1311" stroke-width="0.9">−0.5</text>
<text x="947.5" y="1392.4" font-size="42" stroke="#1a1311" stroke-width="0.9">−1</text>
<text x="947.5" y="1479.8" font-size="42" stroke="#1a1311" stroke-width="0.9">−1.5</text>
<path d="M916.5 939.6h5M937.7 939.6h-5M916.5 1026.9h5M937.7 1026.9h-5M916.5 1114.3h5M937.7 1114.3h-5M916.5 1201.7h5M937.7 1201.7h-5M916.5 1289.1h5M937.7 1289.1h-5M916.5 1376.4h5M937.7 1376.4h-5" stroke="#012" stroke-width="1.5" fill="none" opacity=".7"/>
<rect x="688.8" y="850.5" width="213.2" height="86.4" fill="#7d3c05"/>
<text x="709.0" y="910.0" font-size="56" fill="#fff0e0">ΔR/R<tspan dy="19.5" font-size="31">AZ</tspan></text>
<g transform="translate(195.5 1611.5) scale(0.5)" clip-path="url(#he)">
<g filter="url(#heb)">
<rect x="-8" y="-8" width="1429" height="1231" fill="#000089"/>
<path fill="#00009b" d="M-6-6l1424 0 0 1226-1424 0z"/>
<path fill="#0000ad" d="M-6-6l1424 0 0 1226-1424 0z"/>
<path fill="#0000bf" d="M-6-6l1424 0 0 1226-1424 0zM246 459l-4 8-6 19-34 127-38 148-8 35 0 6 1-4 1-2 8-28 43-160 35-126 3-18 0-4z"/>
<path fill="#0000d1" d="M-6-6l1424 0 0 1226-1424 0zM250 446l-4 5-8 21-26 96-52 203-10 45-1 8 1 2 14-48 47-174 35-125 4-19 1-10z"/>
<path fill="#0000e4" d="M-6-6l1424 0 0 1226-1424 0zM252 435l-2 2-4 7-8 21-28 104-52 205-14 65-1 7 1 2 20-68 45-166 37-132 7-32 1-10z"/>
<path fill="#0000f6" d="M-6-6l1424 0 0 1226-1424 0zM254 425l-2 1-4 7-10 26-24 89-57 224-17 80-2 12 0 6 22-74 49-180 39-139 4-17 4-22 0-8z"/>
<path fill="#0009ff" d="M-6-6l1424 0 0 1226-1424 0zM256 416l-4 3-4 8-9 23-10 32-16 62-58 232-21 100-1 8 1 2 28-96 49-180 37-131 6-25 3-22 1-12z"/>
<path fill="#001bff" d="M-6-6l1424 0 0 1226-1424 0zM256 407l-4 5-4 8-12 34-9 30-24 92-50 204-23 110-2 12 0 6 0-4 2-3 4-13 30-104 47-172 39-139 6-26 4-27 0-10-2-4z"/>
<path fill="#002eff" d="M-6-6l1424 0 0 1226-1424 0zM258 397l-4 4-4 8-13 33-10 36-22 84-34 136-20 84-27 132-1 8 1 2 38-132 90-325 6-27 4-26 0-12-2-5zM492 452l-4 4-4 6-12 24-66 160-14 36-2 6 0 3 28-59 68-152 6-18 1-8z"/>
<path fill="#0040ff" d="M-6-6l1424 0 0 1226-1424 0zM260 387l-4 4-4 6-12 30-13 43-16 62-56 228-36 174-7 28 0 4 2-2 7-28 43-150 88-317 8-37 3-22 1-16-2-6zM502 426l-6 4-8 12-10 19-12 26-104 253-14 39-1 7 1 2 10-17 16-33 116-260 8-21 4-13 2-14 0-2z"/>
<path fill="#0052ff" d="M-6-6l1424 0 0 1226-1424 0zM260 380l-5 4-5 10-13 34-14 48-22 88-32 130-20 86-30 150-8 32 0 4 1 2 4-10 7-28 43-150 88-318 8-38 3-26 0-14-1-3-2-2zM506 406l-8 9-12 20-12 23-12 27-106 259-18 50-5 16-1 10 2-1 2-2 8-14 26-52 122-273 12-31 7-27 1-8 0-5-2-3zM736 454l-10 11-14 21-68 120-20 37-4 8 0 3 6-8 18-28 84-136 10-22 2-6-2-2z"/>
<path fill="#0064ff" d="M-6-6l1424 0 0 1226-1424 0zM258 374l-4 4-5 10-14 38-14 50-26 104-46 194-31 154-8 34 0 8 2-1 4-10 9-35 41-144 88-316 10-48 3-28 0-6-1-6-2-3-2 0zM512 386l-10 12-14 23-15 29-16 36-109 269-20 57-6 21-2 12 2 0 2-2 8-13 16-30 16-33 132-294 14-38 8-29 2-12-1-6-1-3-2-1zM758 412l-10 8-12 14-16 23-16 26-144 254-16 32-4 9-2 8 2 0 8-8 16-22 16-24 50-80 104-170 16-30 10-23 2-9 1-6-1-2-2-1zM978 462l-10 9-12 14-42 59-20 30 2 0 12-14 62-78 10-16 0-4z"/>
<path fill="#0076ff" d="M-6-6l1424 0 0 1226-1424 0zM258 367l-6 6-5 9-12 36-16 58-30 120-30 124-14 64-27 139-9 41 0 6 1 2 4-6 2-6 7-28 45-158 88-317 8-37 5-36-1-10-2-5-4-3zM516 372l-6 4-6 6-12 20-19 38-22 50-64 158-48 122-13 37-12 38-5 21-1 4 2 1 8-11 14-26 34-69 134-299 16-44 9-34 1-8-2-7-4-2zM772 381l-6 4-6 6-18 21-22 32-24 38-150 268-24 49-6 16-1 5 1 2 6-4 12-14 18-25 24-35 56-90 110-180 20-38 14-33 3-13 1-6-2-3-2 0zM1018 402l-14 10-18 17-22 25-22 28-182 253-20 32-4 9 0 4 4-2 12-10 32-36 80-100 118-152 22-32 16-28 4-10 1-6-1-2-2-1zM1248 433l-10 7-14 11-16 15-17 18-129 148-38 46-10 14 2 0 12-10 46-45 64-67 84-89 16-19 12-18 4-10-2-2z"/>
<path fill="#0089ff" d="M-6-6l1424 0 0 493-127 123-114 112-22 24-7 10-2 4 2 1 4-1 11-6 19-14 20-16 98-84 118-106 0 686-1424 0zM260 360l-5 2-5 6-5 10-5 12-15 52-24 94-34 142-22 96-29 153-8 35-1 8 1 4 2-1 2-2 4-10 9-35 41-144 90-324 10-46 4-30 0-8-2-9-4-5zM520 360l-6 2-6 5-6 7-8 12-21 42-24 56-64 158-50 128-14 40-17 56-7 24 0 6 1 1 8-11 14-26 42-84 140-312 16-43 8-25 3-14 1-10-2-8-4-4zM776 364l-6 3-8 7-16 18-28 41-31 51-86 154-68 124-16 32-13 31-7 19 0 6 1 1 4-3 6-6 18-22 20-28 28-42 64-102 110-180 26-50 10-22 5-14 1-10 0-4-2-3-4-3zM1040 368l-8 2-8 5-18 16-34 38-37 47-194 272-19 29-12 21-6 14-1 4 1 2 2 0 6-3 16-14 20-21 30-34 80-100 132-170 32-46 12-20 12-22 3-10 0-6-3-4zM1296 376l-8 3-10 6-26 20-36 34-36 37-98 112-130 150-16 20-12 18-6 10-1 4 1 1 2 0 4-1 17-12 21-18 30-28 92-94 152-162 36-42 16-22 10-16 6-10 1-6-1-3-2-1z"/>
<path fill="#009bff" d="M-6-6l1424 0 0 476-108 104-167 164-20 22-17 20-10 14-3 6-1 4 2 2 4 0 9-4 11-6 26-18 42-32 100-86 132-118 0 141-58 49-20 18-21 22-6 8-1 4 1 2 5 0 10-4 15-8 35-22 40-28 0 496-1424 0zM256 354l-6 5-5 9-6 14-6 18-18 70-36 146-28 120-12 56-23 129-9 43-1 8 0 2 2 2 4-5 4-10 9-35 45-158 88-317 10-47 3-18 0-12-1-11-4-8-4-2zM518 349l-6 3-8 8-8 10-7 12-24 50-28 68-70 176-38 100-14 42-23 74-6 24-1 6 1 2 8-12 14-26 54-109 40-87 104-233 18-49 6-20 3-14 0-12-1-5-2-4-2-2-4-2zM782 348l-8 3-10 7-10 10-10 12-29 44-32 54-88 158-70 130-18 36-19 45-10 27-1 4 1 3 2-1 6-5 20-25 32-44 30-44 62-98 124-203 28-53 10-22 4-12 2-12-2-9-2-3-4-2zM1048 348l-10 3-12 7-12 9-12 11-34 40-41 52-88 124-112 160-22 34-15 28-10 22-2 6 0 5 2 0 6-3 24-21 30-32 36-41 82-102 140-180 20-28 20-30 16-26 6-12 3-12-1-9-2-3-4-2zM1314 350l-10 3-14 6-14 9-16 12-46 44-48 50-102 118-134 156-24 32-15 22-8 18-1 4 2 2 6-2 8-4 26-20 32-28 32-30 104-107 156-166 44-51 22-28 8-13 6-13 0-8-2-4-2-1-4-1z"/>
<path fill="#00adff" d="M-6-6l1424 0 0 462-102 98-192 190-28 30-19 24-17 24-4 8 0 4 0 2 2 1 5-1 9-4 14-8 44-30 42-32 34-28 72-62 140-125 0 124-77 65-33 30-18 18-12 14-8 10-3 8 1 3 8-1 14-6 19-10 49-30 60-42 0 490-1424 0zM258 346l-6 2-6 7-6 11-5 14-14 52-30 122-34 144-18 84-25 142-9 42 0 8 1 4 2-1 4-5 4-10 9-36 43-150 90-323 12-57 2-14 0-10-1-12-3-9-4-4zM514 340l-8 5-8 9-8 12-9 16-28 64-40 100-72 184-18 50-37 120-18 59 0 3 2-1 4-7 26-50 66-134 130-288 16-38 20-56 4-14 1-12-2-12-1-4-4-5-4-2-4-1zM778 336l-9 4-9 7-11 11-11 14-29 44-38 66-84 154-69 128-18 40-28 65-12 31-2 10 2 1 6-6 22-27 38-52 40-58 78-124 102-166 16-28 18-33 16-32 5-15 3-12 0-12-2-6-2-2-4-2-6-2zM1046 334l-12 4-12 7-14 12-16 15-14 16-23 28-45 60-99 140-96 140-22 36-21 40-17 36-3 8 0 4 4 0 8-6 24-22 40-42 44-50 36-44 62-78 122-156 24-32 42-62 8-15 6-15 2-14-1-4-3-4-4-2-6-1zM1316 334l-14 4-14 8-19 12-20 16-15 14-33 32-52 56-113 131-120 143-26 34-20 32-16 28-3 8 1 4 4 0 8-4 30-22 40-34 49-46 53-53 72-75 132-139 28-31 55-66 11-16 8-14 2-8 1-6-1-3-2-3-4-2-6-1-8-1z"/>
<path fill="#00bfff" d="M-6-6l1424 0 0 450-37 34-60 58-213 212-31 34-24 30-25 36-6 10-2 6 1 2 1 1 6-2 11-5 17-10 44-30 56-42 40-32 54-46 168-149 0 110-91 77-43 40-22 22-18 20-12 16-4 8 1 2 3 1 10-3 18-8 25-14 61-38 72-50 0 486-1424 0zM256 338l-6 2-8 8-5 10-6 16-12 48-42 176-30 132-12 58-23 138-8 42-1 10 1 1 2 1 2-2 4-6 4-10 11-42 45-158 80-285 8-31 12-58 1-22-1-12-4-10-4-4-4-2zM518 330l-10 2-8 5-7 7-8 12-15 32-33 80-62 158-52 140-14 42-37 122-11 34-1 8 2 2 4-3 6-8 90-183 134-296 16-38 22-59 4-16 2-13-1-14-3-7-4-4-4-2zM776 326l-12 4-12 8-10 10-11 14-12 18-16 26-44 78-82 152-66 126-18 40-43 104-12 30-1 8 1 1 2-2 6-6 30-39 46-64 44-64 42-66 62-100 80-130 24-42 28-55 6-19 2-16 0-4-2-4-4-4-4-2-6-3-6 0zM1050 322l-16 4-16 8-12 8-17 16-17 18-17 20-30 38-28 38-100 144-92 138-25 42-42 83-10 23-2 6 0 3 2 1 2-1 8-6 32-31 60-64 44-50 44-54 62-78 114-146 30-40 42-62 10-18 6-18 1-6-1-4-2-4-4-4-6-3-6-2-6 0zM1330 320l-18 4-22 8-14 8-22 16-19 16-20 18-39 40-35 38-117 136-122 146-26 36-23 38-29 48-4 10 0 5 2 1 2-1 10-5 32-24 56-48 54-50 50-50 74-76 170-180 62-72 12-18 10-18 2-6 1-4-1-4-4-6-4-3-6-2z"/>
<path fill="#00d1ff" d="M-6-6l1424 0 0 440-39 36-46 44-239 238-32 35-28 35-39 52-8 12-3 8 1 2 1 1 8-2 12-7 20-12 60-42 66-50 50-40 56-48 160-141 0 99-104 88-48 44-30 30-28 30-14 18-4 6-1 4 1 1 2 1 13-4 23-12 32-18 76-48 82-57 0 96-11 13-5 8 2 2 2 0 12-3 0 367-1424 0zM250 332l-6 2-6 6-5 10-6 16-66 284-20 92-10 52-21 133-9 45 0 8 3 2 2-1 4-5 6-14 11-42 125-442 12-48 10-50 0-12 0-12-2-10-4-8-4-4-4-2-4 0zM506 322l-10 4-9 8-7 9-9 17-22 54-68 176-52 140-18 52-41 142-14 44-2 10 2 4 4-2 4-3 10-15 84-172 26-56 114-253 26-63 12-33 4-15 2-16 0-14-1-4-3-5-4-4-6-3-10-3-6 0zM786 308l-12 3-12 6-18 11-13 12-12 16-14 20-40 70-80 150-80 156-18 42-43 109-27 61-1 8 2 2 4-2 4-3 12-15 70-98 60-88 36-56 66-106 80-130 26-45 28-53 8-22 3-16 0-4-2-6-11-15-4-4-4-2zM1064 300l-14 4-16 8-34 20-16 13-19 19-20 22-35 44-31 42-98 142-86 132-22 40-29 62-38 74-8 18-1 6 3 0 10-8 42-41 66-71 56-64 38-46 70-88 116-148 34-46 40-58 10-18 7-18 1-4-1-6-5-18-3-6-3-3-4-2zM1344 298l-14 4-20 9-42 23-19 14-24 20-22 20-43 44-34 37-124 145-96 115-18 23-29 42-57 94-13 22-2 6 1 2 2 1 4-1 10-6 36-28 74-64 61-56 47-47 76-78 148-156 36-39 56-65 14-19 12-20 2-10-2-20-1-6-3-4-4-2-6-1z"/>
<path fill="#00e4ff" d="M-6-6l1424 0 0 432-39 36-37 36-237 234-25 26-40 44-64 80-24 32-4 8-1 4 1 1 4 0 10-5 36-22 62-44 88-66 52-42 54-46 164-145 0 92-108 91-54 48-33 32-49 50-18 20-5 8-2 4 0 2 3 1 14-5 23-12 35-20 104-66 90-62 0 84-47 42-9 10-3 6 1 1 4 0 11-3 43-20 0 360-1424 0zM246 324l-8 2-7 6-4 6-4 12-25 117-45 197-18 86-10 54-17 121-9 49 0 8 1 2 2 1 2-1 4-4 4-7 4-10 13-49 123-435 14-57 9-46 0-16-1-15-3-9-7-7-8-4zM504 302l-12 7-14 13-8 10-6 10-9 22-82 220-52 144-16 48-39 145-16 53-2 10 2 4 2 0 4-2 6-5 12-17 82-169 34-73 110-244 16-37 16-42 6-17 5-18 2-18 0-10-3-7-12-19-6-6-4-3-6-1zM790 280l-14 5-16 11-38 33-11 11-15 20-14 22-47 82-74 142-38 76-30 62-16 40-19 60-16 44-16 41-19 43-2 8 1 4 4 1 6-3 10-9 8-10 74-105 52-76 60-94 126-203 42-73 14-26 8-17 6-17 4-16-4-18-2-18-4-11-4-6-4-2-6-2zM1080 270l-16 5-20 12-61 45-11 9-24 23-19 22-41 50-30 40-100 146-50 75-30 48-20 39-24 59-16 35-24 48-22 40-2 7 0 1 2 2 6-2 12-9 36-37 74-80 74-84 46-56 70-88 110-140 40-54 36-52 11-20 8-16 1-6 0-14 3-24-1-14-2-6-4-3-6-2zM1368 268l-16 5-22 12-84 55-27 22-24 22-41 42-36 39-132 155-92 110-20 26-18 24-14 22-29 48-51 82-8 14-2 7 2 1 2-1 12-7 46-36 76-66 78-72 43-42 81-82 156-164 44-48 52-60 15-20 12-18 2-6 2-14 10-26 2-14-1-6-4-4-6-1z"/>
<path fill="#00f6ff" d="M-6-6l1424 0 0 426-71 66-248 246-30 30-41 46-76 90-37 46-7 10-3 6 1 2 2 0 12-6 50-32 78-56 92-70 50-40 50-42 74-64 104-92 0 84-116 98-59 52-106 102-22 24-8 12 0 2 1 1 4-1 15-6 30-16 41-24 54-34 68-44 50-34 48-34 0 76-82 68-17 16-5 8 2 2 4-1 20-7 33-16 45-24 0 356-1424 0zM238 308l-8 3-8 8-6 9-3 10-7 48-14 74-39 176-26 128-8 50-15 118-8 44 0 10 2 2 4-1 6-6 4-8 4-10 13-49 41-144 84-298 10-39 8-37 3-18 1-14 0-17-2-10-6-9-16-16-6-4zM514 264l-8 2-8 4-10 8-10 10-13 16-14 20-4 8-5 12-36 107-59 163-45 134-13 46-15 69-14 59-19 64 0 6 0 2 2 2 3 0 4-2 10-8 8-11 8-14 80-165 30-64 116-257 16-38 18-46 9-29 3-16 0-10-6-18-6-30-4-12-4-6-4-3-4-2zM800 244l-16 7-20 15-20 19-54 55-20 26-18 26-38 60-26 46-38 72-32 63-26 54-22 49-6 16-5 18-13 66-8 32-20 60-21 50-4 12 1 4 4 1 4-1 10-6 8-6 12-14 118-170 66-102 134-216 26-44 26-47 12-25 8-24 1-8-1-14 5-32 1-18-2-14-2-4-4-4-4-2-4-1-6 0zM1100 236l-10 3-10 5-24 15-26 21-44 38-27 22-24 24-20 22-39 48-30 40-110 160-62 94-16 27-20 39-22 58-18 44-18 36-22 42-4 10 1 4 1 1 4 0 12-5 10-8 12-10 88-96 66-74 54-64 64-80 140-178 42-56 32-46 18-32 2-8 3-14 16-48 3-18 0-6-2-4-3-4-5-2-6-1zM1402 234l-10 2-12 4-14 7-14 9-26 17-59 45-29 20-26 22-24 22-70 74-32 36-88 104-114 136-24 31-28 39-65 104-39 58-5 10-1 4 2 2 6-1 10-5 12-8 12-10 102-88 96-88 47-46 71-72 170-178 38-41 58-65 15-20 14-20 8-20 27-50 6-16 1-8-2-6-5-3z"/>
<path fill="#01fff6" d="M-6-6l1424 0 0 210-14 6-16 8-40 26-30 23-62 51-27 20-25 22-22 21-62 65-30 34-56 66-156 186-24 30-20 27-20 29-73 110-29 42-9 16-1 4 0 2 4 2 14-4 16-8 23-18 87-76 62-56 56-52 45-44 95-97 148-155 88-96 20-24 18-24 11-22 29-43 0 140-74 69-282 280-46 50-130 148-9 12-2 4-1 4 2 2 2 0 10-3 15-7 19-12 100-72 100-76 58-46 46-38 88-76 104-92 0 78-128 108-52 46-138 128-32 32-7 8-2 4 3 2 4-1 16-7 36-20 56-34 64-40 76-50 56-38 48-34 0 69-122 97-22 20-6 6-2 4 2 2 7-2 28-12 48-24 67-36 0 352-1424 0zM8 1107l-4 2-4 4-2 5 1 4 5 4 6 1 6-1 4-2 3-4 0-4-2-4-5-4zM230 266l-4 1-6 3-5 4-5 6-9 18-6 20-1 8 1 24-1 28-10 67-6 32-41 193-14 70-6 40-6 42-11 112-9 52 0 6 1 1 2 1 6-3 6-7 6-10 4-11 13-49 42-144 83-297 10-39 10-46 3-28 0-14-1-10-10-18-8-22-8-16-4-5-6-6-4-2zM520 220l-12 3-12 7-14 12-14 16-20 28-28 44-7 14-7 20-83 236-20 64-20 68-5 22-5 26-9 70-8 51-10 46-11 35-5 16-1 6 1 3 1 1 5-1 6-3 14-12 10-12 10-17 82-170 32-69 114-252 34-84 8-26 4-22 0-8-3-14 1-46 0-16-4-16-6-12-4-4-4-2-4-2zM820 206l-12 4-12 6-14 10-16 14-24 24-47 54-22 22-21 26-16 21-36 55-24 40-44 83-42 82-40 81-12 27-7 23-4 16-1 14-2 42-3 22-5 23-8 29-6 19-15 39-8 16-1 6 1 4 3 1 4-1 10-5 16-12 12-11 14-18 72-104 62-92 60-94 124-200 48-84 12-24 9-24 1-6 2-16 14-54 4-20 0-12-1-8-1-6-3-6-4-4-5-2-6-1zM1122 202l-12 4-16 8-16 11-18 13-28 24-58 56-26 22-22 22-20 23-38 47-26 34-48 70-76 112-58 88-18 30-12 22-10 21-34 85-15 34-33 64-2 6 0 2 1 2 7 0 14-6 19-12 13-12 74-80 80-90 56-66 66-82 140-178 48-64 26-36 20-34 4-8 5-18 25-52 8-20 3-12 2-10 0-8-2-6-3-4-6-3-6-1z"/>
<path fill="#04ffe3" d="M-6-6l1424 0 0 190-32 20-38 28-32 26-68 60-28 22-46 43-64 68-86 101-154 184-26 32-34 46-116 168-10 12-4 6-2 6 1 2 3 2 6-1 10-3 30-16 20-14 24-20 94-84 74-68 46-44 60-60 76-78 136-142 48-52 41-46 24-28 12-16 12-20 23-32 0 124-76 72-284 282-40 42-146 160-18 22-3 4-1 4 1 2 3 1 12-3 20-8 18-10 40-28 110-82 88-68 74-60 86-74 116-102 0 73-132 111-53 46-189 170-13 14-3 4-1 4 3 2 4-1 17-5 28-14 33-20 80-50 80-52 80-54 66-46 0 63-170 131-27 22-6 6-1 4 4 1 10-3 31-14 77-40 82-45 0 349-1328 0 0-68-3-4-5-3-8-1-20-1-10 1-6 1-4 3-3 4 0 68-37 0 0-87 7 3 9 2 12 1 6-1 4-3 2-4 2-7 1-8-1-12-2-8-2-5-4-5-6-3-6-1-22-2zM216 200l-9 4-9 7-8 9-8 12-7 14-7 16-6 20-3 16-2 12 1 10 8 20 3 18 2 14 0 16-3 42-6 43-31 155-22 124-7 52-8 133-4 26-9 35 1 6 2 1 8-5 12-12 6-10 6-14 11-42 46-158 81-290 12-47 10-47 2-22 0-20-7-20-9-60-5-20-7-17-4-7-6-7-6-5-6-2-6-1zM528 176l-14 4-14 8-14 12-16 18-24 33-40 65-16 22-16 26-12 21-20 39-24 50-34 84-32 84-34 94-6 22-4 22 0 12 3 10 4 6 13 12 4 6 4 8 4 17 1 25-2 42-5 34-8 30-13 22-5 14-2 8 1 2 2 2 5 0 8-4 10-8 8-7 24-27 12-20 110-230 118-260 16-38 20-51 8-25 4-20-1-22 10-68 1-18-1-16-1-12-2-8-6-11-4-4-6-4-6-1zM834 170l-10 3-10 5-20 13-24 22-28 30-58 73-23 24-27 33-34 51-30 50-46 88-56 110-32 65-16 37-10 29-6 26-4 27-6 56-6 30-13 40-13 20-7 14-2 8 1 4 4 1 8-2 10-5 12-8 18-15 16-15 16-20 104-151 48-73 162-260 50-86 14-27 12-27 4-24 26-70 6-22 3-16 1-12-1-8-1-6-4-6-6-5-6-2-8 0zM1148 168l-10 2-12 5-24 14-28 21-32 29-76 77-25 22-23 24-24 28-48 62-26 36-74 110-90 135-22 35-16 28-14 28-22 48-28 64-22 46-12 16-6 10-2 8 1 4 3 1 6-1 14-6 22-14 22-16 22-22 60-66 90-102 54-64 96-120 104-132 32-42 40-55 22-34 6-11 8-20 38-68 16-34 5-14 2-10 0-8-1-6-4-5-6-3-8-1z"/>
<path fill="#07ffd0" d="M-6-6l1424 0 0 173-30 21-38 31-38 33-71 66-29 24-44 42-62 67-76 89-188 226-40 52-119 164-26 30-5 8-1 6 1 3 6 0 8-2 12-5 30-16 36-24 24-20 78-70 117-108 49-48 70-71 200-209 81-90 21-26 15-22 19-24 0 112-80 76-282 280-208 220-14 14-10 12-2 6 2 2 4 0 16-4 26-12 30-16 32-22 72-54 120-92 82-66 98-84 114-101 0 69-156 132-108 95-122 105-28 26-5 6-1 4 2 2 6 0 24-8 31-14 28-16 91-58 80-52 86-58 72-51 0 59-215 160-19 16-4 4-2 4 2 2 2 0 12-2 18-6 22-10 86-46 98-55 0 65-41 28-10 8-2 4 1 1 2 1 8-2 18-6 24-10 0 258-1290 0 0-66-2-8 0-2 5-4 15-9 7-7 5-8 10-26 7-12 8-8 31-28 18-19 28-33 12-18 106-220 132-291 32-79 10-33 2-11 1-18 2-12 13-60 7-36 2-22 0-16-3-14-6-10-8-6-12-4-14 0-14 3-16 8-14 10-18 19-20 28-24 39-38 67-20 26-24 39-30 61-20 47-36 97-36 102-18 53-12 43-4 18-4 24-1 16 0 16 1 10 3 10 15 34 6 20 1 14-1 16-1 8-4 14-24 26-15 20-7 16-6 22-6 10-43 51-8 5-12 3-18 1-14-2-6-4-2-6-1-36 2-22 2-6 6-8 27-34 24-33 6-11 4-10 11-42 46-158 85-304 18-78 3-20 1-22-6-26-1-22 0-44-2-36-3-20-4-16-4-8-5-8-7-6-6-4-8-3-10-1-10 1-8 2-12 7-12 10-11 14-10 18-13 26-12 30-14 40-7 26-1 10 2 14 8 30 2 12 2 36-1 28-3 30-17 92-14 82-10 68-3 28-2 42 6 130 0 14-2 17-2 13-6 16-24 31-8 7-8 6-8 2-8-1-6-4-6-5-12-18zM852 138l-10 2-10 3-10 5-12 8-22 17-24 25-36 45-55 73-21 24-24 30-24 36-32 53-32 60-62 122-48 97-18 40-16 44-14 47-7 29-9 52-8 32-19 26-13 24-4 10-2 8 1 6 3 2 4 0 4-1 10-4 14-9 18-14 18-15 26-25 8-9 12-15 104-152 50-76 162-260 38-64 22-40 14-30 9-30 39-92 9-24 5-18 2-10-1-10-2-8-3-6-6-5-8-3-10-1zM1168 138l-10 2-12 4-24 12-26 19-28 24-46 47-64 70-23 22-19 20-24 28-38 48-32 44-46 68-124 186-24 38-24 42-30 57-55 113-20 26-12 18-3 10 0 4 1 2 5 1 10-3 14-7 18-11 20-14 30-23 22-23 118-132 72-84 98-122 144-184 42-56 20-30 10-16 11-24 55-88 14-24 10-20 5-12 2-10-1-8-2-6-4-4-8-4-10-1zM-6 1146l0-1 1 1-1 4z"/>
<path fill="#0affbd" d="M-6-6l1424 0 0 157-28 22-36 32-46 42-71 69-41 36-34 34-60 66-60 70-200 240-36 46-133 174-28 30-15 18-7 10-3 8 0 2 2 2 6 0 12-4 14-6 38-22 53-36 23-20 60-54 102-94 63-60 61-61 218-227 90-98 25-30 16-22 15-18 0 103-81 77-274 272-224 230-37 34-8 10-4 8 0 2 2 1 4 1 6-2 14-4 20-9 24-13 38-22 35-24 139-106 116-92 90-76 140-123 0 65-152 128-150 129-136 113-12 12-3 4-2 4 3 2 6 0 24-8 40-18 38-20 88-56 92-60 94-64 70-49 0 55-94 69-163 117-14 12-4 4-2 4 3 1 4 0 20-5 27-10 32-14 77-42 114-65 0 58-75 47-16 12-3 4-1 2 3 1 6 0 26-7 27-10 33-15 0 253-1260 0 0-66-2-10 2-6 10-18 11-24 8-14 49-59 22-29 8-11 10-17 108-226 120-264 22-52 18-45 10-33 2-10 2-18 3-14 27-92 9-34 4-24-1-18-3-12-3-4-4-4-12-6-18-2-20 0-20 4-16 8-14 11-18 20-18 26-20 36-51 97-6 10-15 20-22 37-28 59-20 48-50 141-42 126-14 51-12 61-5 39-3 46-5 34-11 16-6 16-4 16-5 32-3 10-5 10-8 14-11 16-10 11-8 5-8 2-10 1-9-1-5-2-3-2-2-4-2-6 0-22 4-20 4-10 6-12 43-69 8-19 15-56 40-136 83-296 14-56 8-36 4-32 1-14-3-18 0-14 7-104 0-36-2-16-3-12-4-10-7-8-7-5-10-4-14-2-14-1-14 2-12 3-10 4-8 5-10 10-8 11-8 13-8 16-18 45-29 83-13 33-4 13-4 20-17 110-43 186-6 30-10 58-8 59zM866 108l-12 2-12 3-10 3-10 6-22 16-24 25-16 20-20 27-75 106-20 24-23 30-16 24-30 50-22 39-56 110-68 137-22 48-16 40-24 66-29 98-13 20-12 20-10 20-8 18-4 18 0 6 3 4 7 0 12-5 14-9 18-14 26-23 24-23 28-29 12-15 104-152 50-76 160-256 36-60 24-42 14-27 8-19 6-18 5-12 59-120 10-22 5-18 2-12 0-10-2-6-5-5-8-4-10-2-14-2zM1194 108l-14 2-12 2-12 4-10 4-12 7-14 10-28 23-20 20-22 23-97 111-37 38-24 28-22 28-30 40-26 36-182 274-28 46-38 68-59 110-28 36-17 26-8 16 0 4 2 4 4 1 4-1 12-4 16-9 20-13 28-21 32-26 15-13 15-16 114-128 74-86 92-114 142-180 68-92 17-26 10-20 10-16 79-114 14-22 9-16 5-12 2-10 0-8-2-5-7-5-9-3-12-1zM-6 872l0-2 8 12 22 42 3 8-1 10-4 8-6 5-8 3-8 1-6-2z"/>
<path fill="#0dffaa" d="M-6-6l146 0-18 84 0 3 2 3 8 3 6 5 2 4 0 6-1 12-5 22-21 78-26 82-8 22-9 23-7 25-44 232-14 84-11 72zM359 82l51-1 22 1 18 2 10 2 5 4 2 4 0 8-4 14-10 24-44 98-36 74-21 33-22 40-28 63-18 46-60 174-22 67-12 40-10 38-10 44-17 83-19 72-9 50-5 16-5 12-6 10-7 10-8 8-6 4-8 3-8 1-6-1-6-3-2-4-2-6 0-18 4-18 3-10 6-12 24-46 15-25 8-19 15-56 44-150 79-282 10-38 15-66 3-32-2-22 3-34 14-84 11-63 7-29 4-12 7-7 12-4zM691 82l47-1 38 2 10 2 6 3 3 4 0 4-4 12-13 22-99 156-22 32-19 24-30 42-34 57-24 43-86 172-40 81-16 34-16 38-26 65-41 108-27 50-26 56-8 22-1 6 1 3 4 3 4 0 12-2 12-7 16-13 36-34 42-43 36-39 16-21 100-147 46-70 170-272 58-99 17-35 8-20 6-14 40-72 59-99 18-27 10-12 10-7 12-4 18-2 26-2 36 0 28 2 14 4 2 1 3 4-1 4-3 6-14 20-149 182-14 16-22 23-30 35-40 52-32 44-190 286-32 52-99 170-37 48-27 38-7 12-4 10-1 6 1 2 2 2 4 1 4-1 10-4 16-9 20-13 48-37 56-49 24-24 118-134 50-58 48-58 192-242 74-98 23-34 18-30 37-51 72-92 30-36 22-25 10-9 8-5 10-5 10-2 16-2 24-2 50 1 0 48-78 77-104 105-31 28-29 28-32 34-42 46-46 54-212 254-179 226-45 46-24 26-10 14-3 6 0 4 0 2 3 1 6 0 12-4 16-7 38-23 48-32 48-37 126-114 66-62 54-52 132-134 136-142 80-86 40-46 17-22 13-15 0 95-90 86-266 264-122 125-108 107-43 36-24 22-13 14-4 8 1 2 3 1 10-1 16-6 22-10 28-15 32-19 46-29 16-11 134-102 126-100 102-86 134-118 0 62-316 267-105 85-41 30-20 16-13 12-3 4-2 4 1 2 3 1 8-1 14-4 20-8 46-22 62-34 90-58 94-62 94-64 68-48 0 51-68 50-84 60-102 70-52 35-15 12-4 4-1 4 4 2 8-1 28-9 34-14 50-23 54-29 148-85 0 52-125 75-17 12-5 4-2 4 5 1 9-1 33-10 56-22 46-21 0 249-1225 0 0-72-3-4-12-8-2-6 2-10 6-18 6-12 9-14 63-86 12-20 86-178 30-64 116-255 34-82 14-40 3-13 4-22 12-38 37-99 18-45 12-27 8-12 8-6 14-5z"/>
<path fill="#10ff97" d="M376 110l16-1 14 2 10 3 8 6 4 10 1 12-2 16-5 18-18 52-29 66-11 24-14 22-20 37-26 57-18 46-32 92-52 156-18 60-35 144-11 40-10 44-8 46-4 14-10 20-13 16-5 5-6 3-6 1-6 0-4-2-2-3-4-10 0-14 3-16 4-12 8-16 20-42 15-26 6-16 144-509 16-67 4-21 3-27 0-24 4-32 12-54 10-40 7-20 6-15 7-13 7-10 8-8 8-6 10-5zM698 110l16-1 16 1 11 4 7 6 2 10-1 12-6 16-8 18-25 46-35 60-23 36-20 26-26 38-30 50-26 47-60 119-72 147-28 62-73 175-55 104-18 29-6 8-6 5-8 4-8 2-12 0-10-3-6-5-1-6 3-12 6-16 15-26 57-84 10-18 104-218 124-272 22-52 20-50 10-32 5-24 12-32 20-50 17-36 20-37 10-15 10-11 10-10 11-7 11-5zM1023 110l15-1 14 1 10 3 7 5 1 4 0 4-1 10-6 14-9 16-28 40-49 64-38 48-21 22-32 38-36 48-30 41-192 289-138 226-105 132-7 12-1 4 0 2 3 2 6 2 18-1 16-4 14-8 14-12 32-28 110-101 70-78 86-98 44-52 54-66 162-204 40-52 44-59 23-33 14-22 27-37 34-43 34-39 24-26 20-19 18-15 18-12 16-9 16-5 18-3 18 0 10 2 6 2 4 4 1 6-2 8-5 10-8 12-13 16-34 38-64 68-40 42-25 23-34 34-60 66-46 53-210 252-111 138-81 98-123 120-15 16-3 4-1 4 0 2 2 2 4 1 8 0 8-1 18-5 18-10 46-32 64-48 66-51 22-20 90-82 86-80 53-52 51-51 96-98 142-149 74-80 54-63 0 89-86 82-276 274-102 103-90 88-41 39-109 86-32 26-17 16-5 8 0 2 2 1 4 1 8 0 8-2 18-7 24-12 38-22 42-26 111-73 143-110 128-102 104-88 128-112 0 58-252 213-98 80-80 63-110 74-34 24-22 18-5 6-1 4 2 2 4 0 16-4 24-9 34-16 76-40 100-58 184-121 90-62 72-51 0 48-102 74-102 70-60 40-142 85-23 16-6 6-2 4 1 2 2 0 8-1 14-3 20-7 48-20 56-26 110-57 178-103 0 46-100 58-136 73-25 16-5 4-3 4 2 2 5 0 16-3 26-8 32-12 84-36 104-49 0 40-76 38-16 10-4 4-1 2 3 2 4 0 18-4 32-9 40-14 0 177-1152 0 0-74 22-9 8-5 8-8 120-136 12-16 98-144 52-78 168-268 62-105 19-37 10-24 14-26 28-46 25-39 16-22 16-21 14-16 12-11 14-11 12-6 12-5zM94 128l4-1 4 3 4 8 1 8 0 22-4 30-10 42-12 48-10 30-10 24-8 26-21 88 0-11 5-43 10-70 8-46 26-124 7-24 3-6zM24 212l10-1 10 2 6 3 3 4 3 6 1 12-2 30-24 152-10 46-6 18-6 12-7 7-8 3 0-253 5-17 6-12 8-8 5-3z"/>
<path fill="#13ff84" d="M690 134l12-1 6 0 6 2 4 2 4 4 3 9 0 12-3 14-7 18-10 22-20 38-24 42-14 22-23 32-22 33-32 55-24 44-58 116-72 147-24 53-80 184-37 70-22 36-11 15-8 9-8 6-8 4-8 2-8-2-4-4-1-8 2-10 5-14 15-28 49-75 8-15 106-221 136-300 30-73 12-34 5-22 6-16 12-30 16-34 23-42 12-19 10-12 10-11 12-9 12-7zM1008 134l14-2 6 1 6 2 6 6 2 5 0 4-2 12-6 14-12 20-17 26-30 42-34 46-41 48-24 30-36 48-28 40-182 274-95 152-53 82-33 42-25 29-22 24-22 22-16 13-12 7-12 3-6-1-3-1-1-4 2-8 14-24 24-32 58-70 10-13 108-159 52-80 174-278 48-82 34-67 19-31 23-35 32-44 14-16 14-14 14-12 12-8 14-7zM1331 134l11-1 8 2 6 5 2 6-1 8-6 12-9 14-12 16-33 38-45 50-31 34-63 63-78 87-234 280-117 144-77 90-58 55-26 22-24 19-22 15-18 10-14 6-4 0-4-1-1-4 3-8 9-12 9-12 25-26 63-62 14-15 134-153 76-90 74-92 136-172 64-84 48-69 24-30 30-36 42-45 18-17 18-16 16-11 16-9 16-7zM369 136l11-2 12 2 4 2 5 4 5 8 3 10-1 14-2 16-6 22-15 42-20 50-8 16-11 20-20 38-32 74-14 37-42 124-40 122-16 54-37 145-11 38-17 86-4 14-8 18-12 16-5 5-6 3-6 1-4 0-5-5-3-8 0-14 3-14 4-12 10-24 16-34 13-24 6-16 20-70 41-142 78-276 9-36 16-70 4-30 0-22 3-18 8-32 9-34 14-40 7-16 7-12 8-11 8-8 10-6zM25 224l5-1 6 1 4 4 3 6 2 8 1 10-2 28-23 140-4 22-6 22-4 12-6 10-3 4-4 2 0-180 5-34 8-30 4-10 4-6 5-5zM1417 314l1-1 0 82-88 85-380 378-72 69-58 54-60 46-54 36-20 12-20 10-14 5-6 1-3-1-1-2 0-2 3-6 8-10 12-12 29-26 60-49 22-20 158-147 91-88 101-103 154-161 82-88zM1417 572l1-1 0 55-260 219-110 88-52 40-22 16-58 36-50 28-20 10-18 7-14 4-6-1-1-1 0-2 4-6 8-8 14-12 29-22 56-40 88-68 102-80 84-68 104-88zM1416 754l2-2 0 46-112 79-124 84-34 21-30 17-52 28-44 20-32 11-10 2-4-2 2-4 6-6 23-18 75-48 152-102 102-70zM1416 882l2-1 0 41-104 59-54 26-40 18-32 13-24 7-8 1-5 0-1-2 5-6 10-8 19-12zM1414 980l4-2 0 28-32 13-28 9-20 5-10 1-1-2 1-2 13-10 28-16z"/>
<path fill="#25ff72" d="M1002 154l8 0 7 4 3 6 0 8-2 10-5 12-21 36-21 32-30 42-65 80-38 52-28 40-178 268-91 144-62 94-41 51-18 19-16 16-16 14-14 10-12 6-4 0-2-1-1-5 1-6 4-10 9-14 17-24 44-55 12-17 116-172 60-92 156-250 46-78 31-60 33-51 34-45 16-19 16-16 14-12 14-9 12-5zM679 156l11-2 6 1 4 2 3 3 3 4 1 10-1 12-5 16-7 20-12 26-33 60-51 78-30 52-24 44-128 260-108 240-27 50-22 38-19 24-10 10-8 5-6 2-6-1-3-4 0-8 2-10 4-12 16-30 39-62 8-15 106-221 136-299 30-73 12-34 9-30 20-44 23-43 12-19 12-16 12-14 10-9 10-6zM1310 156l10-1 8 2 4 5 0 8-4 10-6 12-25 34-27 32-39 44-77 80-76 86-232 278-93 114-56 66-51 58-54 48-28 22-22 15-16 7-6 2-4-1-1-5 3-6 7-10 9-12 22-24 37-38 19-21 132-151 82-98 196-246 66-86 46-64 36-44 42-46 20-20 18-15 16-13 16-10 14-7zM368 158l10 0 7 4 5 6 3 10 0 12-2 16-4 18-6 22-12 34-12 32-35 68-32 76-20 56-42 126-32 98-16 54-37 142-11 37-17 81-6 22-7 16-10 13-6 5-4 3-4 0-4 0-4-5-3-8 1-12 2-12 5-14 10-26 12-26 13-26 7-16 21-76 37-128 87-312 18-76 5-30 1-22 2-12 13-48 15-42 8-17 8-14 8-10 10-10 10-6zM27 230l5 0 4 3 3 5 2 6 1 18-2 24-21 130-4 22-4 16-6 16-5 9-6 6 0-153 7-48 7-26 3-10 6-10 5-6zM1418 316l0 77-88 85-370 368-62 59-56 52-32 28-36 27-28 19-24 14-18 10-14 5-6 0-2 0-1-4 4-6 18-20 54-48 135-125 85-81 69-68 80-82 152-159 82-87zM1416 574l2-2 0 53-224 188-116 94-60 46-40 29-46 28-36 20-28 12-10 3-5-1-1-2 3-6 19-18 190-148 120-96 104-88zM1417 754l1-1 0 43-46 33-128 88-62 40-40 25-40 21-38 18-26 9-6 1-5-1 0-2 1-2 6-6 25-20 213-144zM1416 884l2-1 0 36-78 44-46 24-34 15-28 10-20 6-4 0-2-1 1-3 6-6 26-18zM1415 984l3-1 0 16-22 6-4 1-3-2 3-4 5-4z"/>
<path fill="#47ff60" d="M986 174l8 0 4 2 2 2 2 8-2 12-7 16-10 20-14 22-18 28-26 36-55 69-62 87-176 266-105 164-52 76-35 43-30 31-12 10-12 8-8 4-4 0-2-1-1-5 2-6 11-20 14-20 32-42 14-20 120-178 62-96 146-234 46-77 33-61 19-29 32-44 16-19 16-18 14-13 14-10 12-7zM670 176l10-1 6 2 3 3 2 4 1 10-2 14-6 18-8 20-11 24-24 46-45 69-30 53-24 45-126 256-87 191-24 52-16 30-22 38-19 27-10 11-8 6-6 3-4 1-2-1-2-3-1-8 3-10 4-10 15-30 31-51 10-19 106-222 132-290 32-76 21-60 14-30 23-44 22-32 12-14 10-10 10-7zM1292 176l10-1 6 2 2 5-1 8-4 10-8 14-26 36-54 64-67 70-74 84-349 420-75 85-11 11-21 20-30 25-24 17-18 10-6 2-5 0-1-2 0-2 2-6 15-20 42-46 131-150 68-80 54-66 178-224 60-78 46-63 22-27 42-46 38-36 16-13 16-11 14-8zM362 180l6 0 6 3 4 7 2 10 0 12-2 16-4 18-5 20-10 28-9 24-32 66-32 78-24 69-42 127-26 80-16 55-35 133-13 43-15 71-7 28-6 14-8 11-8 8-4 2-4 0-5-3-2-8 0-10 2-14 16-42 10-24 11-21 7-17 21-76 39-134 84-298 17-72 8-44 2-22 9-34 15-42 8-17 8-14 8-12 8-9 8-6zM25 236l3-1 4 2 3 3 2 6 2 16-2 24-24 150-4 16-5 13-5 9-5 4 0-130 9-60 4-20 4-12 5-10 4-6zM1417 320l1-1 0 72-86 83-188 188-172 170-100 94-62 55-36 26-24 16-22 12-14 6-6 0-2-1 0-4 4-6 17-18 207-194 64-62 60-60 222-230 78-82zM1417 574l1-1 0 50-92 78-188 156-74 58-64 48-32 22-46 26-18 9-12 4-8 2-3 0-1-1 0-3 5-6 19-18 192-152 106-86 94-80zM1416 756l2-2 0 41-68 48-62 42-64 42-60 38-30 18-32 15-29 12-9 2-4 0-1-2 1-2 5-6 12-10 22-16 189-130zM1415 886l3-2 0 33-78 43-45 22-37 14-12 3-5-1 2-4 5-4 25-18z"/>
<path fill="#68ff4f" d="M968 194l10-1 5 3 2 4 0 4-2 12-6 16-10 18-32 52-16 22-51 66-60 84-180 272-89 138-36 54-31 44-32 38-24 25-10 8-10 7-8 3-4-1-1-4 2-6 11-20 46-64 92-136 52-78 52-82 134-214 46-77 32-57 12-19 32-44 26-30 14-14 12-10 12-8zM1280 194l6 0 3 2 1 2 0 6-2 8-6 12-10 16-25 34-41 48-60 65-70 79-341 410-61 69-40 42-30 26-24 18-18 11-6 2-4-1-1-3 2-6 15-20 188-216 42-50 54-66 170-214 68-88 40-53 16-20 42-46 18-17 18-16 16-13 16-11 14-7zM659 196l9-2 6 3 2 3 2 4 0 10-3 14-5 18-19 44-18 34-31 48-20 34-42 77-124 253-87 190-36 74-22 38-17 25-8 10-8 7-6 4-6 1-3-3 0-6 2-10 5-12 13-26 27-46 8-15 110-231 126-276 32-75 23-63 9-19 22-41 20-30 10-12 10-11 10-8zM352 202l6-1 6 3 4 6 1 10 0 12-2 16-10 40-12 34-29 62-34 84-68 204-30 96-43 158-11 37-15 69-8 32-6 14-7 10-8 8-6 1-4-2-2-7-1-10 3-12 13-38 28-64 21-76 37-126 86-306 17-72 8-41 3-21 6-22 13-37 14-29 8-12 8-10 8-7zM23 242l3-1 4 0 3 3 2 6 2 16-2 20-23 148-5 16-4 12-5 8-4 3 0-109 11-74 2-14 7-22 4-6zM1417 322l1-1 0 69-88 84-188 188-154 152-98 93-60 54-32 26-26 18-24 14-16 7-4 1-4-1 0-4 4-6 19-20 209-198 55-54 55-55 206-213zM1416 576l2-2 0 48-58 49-192 160-68 54-66 50-44 32-30 20-38 19-14 5-6 0-1-1 1-2 6-8 26-24 166-132 108-88 96-82zM1417 756l1-1 0 38-62 44-68 46-64 42-56 35-34 19-22 10-22 8-6 1-1-2 2-4 6-6 26-20 173-120zM1415 888l3-2 0 28-62 34-44 22-28 12-10 3-6-1 1-2 4-4 19-14z"/>
<path fill="#8aff3d" d="M956 212l8-1 3 1 2 2 1 8-2 12-6 14-8 16-31 50-10 14-47 62-60 84-178 270-81 126-66 96-12 16-13 16-30 33-10 9-10 7-8 4-4-1 0-4 1-6 9-16 30-43 76-113 92-138 164-262 50-82 40-69 28-38 28-33 24-22 10-7zM1264 212l6 1 2 3 0 8-4 10-15 24-30 40-25 30-56 61-74 85-313 376-68 78-51 54-26 23-22 16-16 9-6 2-2-1 0-3 2-6 16-22 178-206 96-116 164-206 118-153 38-41 34-32 16-13 16-12 12-6zM650 214l8-1 4 1 2 2 2 6 0 10-2 12-5 16-20 46-10 20-31 50-20 34-40 75-124 253-73 158-42 88-22 40-19 28-8 10-8 8-6 4-4 0-2-2-1-2 1-6 2-8 6-14 11-22 21-37 10-20 110-231 124-271 32-75 28-71 20-37 20-30 10-13 10-10 8-6zM343 222l7-2 4 2 2 1 3 7 2 8-1 12-2 14-9 38-8 24-27 58-34 86-30 88-42 129-26 84-41 151-13 44-13 60-9 34-6 14-6 9-6 6-6 2-4-2-2-7 0-10 3-12 14-40 24-56 21-76 39-132 84-298 19-80 10-52 3-14 11-30 14-30 6-10 8-10 6-6zM24 246l4 0 2 1 2 3 2 6 1 14-2 18-22 142-4 16-5 12-4 7-4 2 0-91 1-8 14-90 3-12 4-10 4-6zM1418 324l0 64-88 85-189 189-135 133-94 90-64 57-48 40-20 14-20 12-14 6-4 1-3-1 1-4 5-8 26-28 195-185 106-105 198-205zM1417 576l1-1 0 46-52 44-190 158-58 46-60 46-64 46-32 21-30 15-10 2-2 0-1-1 1-4 5-6 22-20 159-128 110-90 96-82zM1415 758l3-2 0 36-118 81-58 38-50 31-37 22-27 14-18 7-6 1-2-2 3-4 6-6 21-16 168-118zM1418 888l0 24-53 28-41 20-20 8-4 1-3-1 6-6 23-16z"/>
<path fill="#abff2c" d="M944 228l8-1 3 1 2 2 1 8-3 10-5 14-10 18-26 44-50 66-58 82-178 270-75 116-64 94-24 32-29 33-20 18-8 5-5 0-1-2 0-2 2-6 10-18 136-202 56-86 162-258 86-143 26-35 26-30 20-19 10-7zM642 230l4-1 4 0 4 3 2 6 0 10-3 12-6 18-18 42-51 88-42 78-122 250-73 158-44 90-20 36-15 22-14 17-6 4-4 1-2-1-1-3 1-6 7-20 37-70 110-231 124-271 34-79 25-61 17-32 20-30 16-18 8-7zM1243 230l9-2 4 2 1 6-4 12-8 14-12 18-37 48-56 61-62 71-299 360-78 90-49 53-24 23-20 17-16 11-12 6-4 1-1-1-1-2 3-6 12-18 27-32 148-172 60-72 192-240 118-152 32-34 32-31 24-19 12-8zM339 238l5-1 3 1 2 2 3 5 1 9-1 12-2 14-9 36-4 14-27 60-32 81-34 102-42 130-22 72-41 151-11 36-13 60-10 34-5 13-6 10-6 5-4 2-2-1-2-3-2-6 1-8 3-12 13-40 22-52 25-90 35-118 41-148 41-142 21-86 12-60 12-31 12-24 12-18 6-6zM22 252l4-2 2 1 2 2 2 5 1 12-1 18-22 140-4 15-4 11-4 6-2 2-2 0 0-76 15-102 6-20 3-7zM1418 326l0 60-90 87-244 244-102 100-60 57-66 59-52 43-16 12-18 10-14 6-2 0-2-1 1-5 4-6 23-24 186-178 106-105 100-103zM1416 578l2-2 0 43-44 38-180 150-60 48-58 44-56 41-44 30-16 10-13 6-9 3-5-1 2-4 5-6 17-16 163-132 102-84 84-72zM1417 758l1-1 0 34-102 70-96 61-40 24-32 18-18 8-6 1-2-1 3-4 7-6 26-20zM1418 890l0 19-57 29-18 8-7 2 0-2 1-2 13-10z"/>
<path fill="#cdff1a" d="M935 242l7-1 4 3 1 6-2 8-5 14-8 16-23 40-55 74-52 74-245 374-60 88-32 44-21 23-12 12-10 9-8 5-4 0 0-5 2-6 10-18 136-204 46-70 162-258 86-142 22-29 26-30 20-18 8-6zM635 244l7-1 4 3 1 6 0 8-2 12-5 16-15 36-53 92-36 68-122 250-71 152-48 98-18 32-15 22-12 14-4 2-4 1-1-5 1-6 6-18 32-61 110-231 122-267 60-141 16-28 18-27 16-18 6-5zM1231 244l7-2 4 2 1 2 0 4-3 10-8 14-12 18-30 40-54 60-64 74-281 338-76 88-53 58-32 32-16 13-16 11-10 5-2 0-2-1 1-4 3-6 19-26 151-176 70-84 184-230 120-153 28-30 30-28 24-20zM336 252l4 0 4 4 2 6 0 6-2 24-8 32-32 78-28 72-36 108-46 144-16 52-39 144-13 44-9 42-11 40-5 14-5 10-6 6-4 2-2 0-2-4-1-6 1-10 3-12 14-40 18-44 27-96 33-110 43-156 39-136 21-84 13-58 9-24 12-24 12-17 6-5zM22 256l4-1 2 1 2 5 1 11-1 16-21 136-3 14-4 10-2 5-4 3-2 0 0-60 16-110 6-20 3-6zM1418 328l0 57-90 87-240 240-90 88-58 55-68 62-58 49-18 13-14 9-12 6-4 1-3-1 1-4 2-4 18-20 178-171 82-81 96-98 250-260zM1417 578l1-1 0 41-36 31-172 144-58 46-54 42-62 46-52 35-26 15-8 2-3-1 2-4 5-6 18-16 258-212 84-72zM1418 758l0 32-92 63-86 55-66 38-20 10-4 1-2-1 10-10 34-26zM1415 894l3-2 0 14-28 14-16 6 0-2 7-6z"/>
<path fill="#eeff09" d="M929 254l5 1 2 3 0 6-2 8-12 28-18 32-54 74-48 69-241 367-60 88-31 42-18 22-14 14-10 9-8 5-4 0 0-4 2-6 10-18 140-210 44-68 152-241 87-143 21-27 24-27 20-17 8-5zM632 256l4 1 2 3 1 6 0 8-7 24-11 30-53 93-34 65-122 250-81 174-36 72-16 28-13 20-12 13-4 3-3 0-1-2 0-6 7-20 27-53 112-235 120-262 60-139 16-27 18-25 14-14 6-5zM1223 256l5 0 2 2 0 6-3 8-15 26-23 32-77 88-48 56-167 202-114 136-70 80-67 72-18 17-16 13-14 8-4 1-1-1 0-4 3-6 16-22 150-176 70-84 184-230 114-145 28-29 28-26 22-17 8-4zM24 260l2 0 1 2 2 6 1 10-1 12-21 134-6 20-4 6-2 1-2-2 0-44 10-71 9-54 5-14 2-3zM331 266l3 0 4 3 2 5 0 6-1 22-6 26-39 96-20 52-83 254-14 48-40 148-11 37-9 43-10 36-6 16-5 9-6 7-4 1-2-3-1-8 5-22 11-34 18-42 27-98 35-116 39-142 41-142 21-85 13-55 9-23 10-19 10-13 4-4zM1417 330l1-1 0 54-92 90-232 232-138 134-70 64-66 55-16 13-14 9-10 5-4 1-3 0 0-2 3-6 14-16 184-178 75-74 115-118 224-233zM1418 578l0 39-2 2-176 148-56 46-54 42-62 46-52 37-38 24-8 4-7 2 0-2 4-6 27-24 244-202 84-72zM1416 760l2-1 0 30-82 56-80 51-59 34-13 6-4 1-2-1 13-12 29-22zM1418 896l0 7-10 3 0-2z"/>
<path fill="#fff600" d="M21 266l3-1 2 2 1 3 1 8-1 12-20 130-5 19-4 6-2 0-2-5 0-24 8-58 10-70 4-13 2-5zM916 268l6-2 3 2 2 4-1 8-4 12-5 12-17 30-60 84-40 58-235 358-54 80-36 50-17 21-12 13-12 11-8 5-2 1-2-1 0-4 4-9 16-27 168-254 154-244 86-140 18-23 18-21 16-15zM621 270l5-2 4 2 2 4 0 6-1 10-3 12-11 30-53 94-30 57-122 252-75 159-38 78-15 26-14 23-10 12-4 4-4 2-2-1 0-6 8-22 24-48 110-231 120-262 59-135 11-19 14-20 14-17zM1208 270l6-2 4 2 1 4-2 8-14 24-13 20-9 12-115 132-195 236-86 102-48 56-53 58-44 46-12 11-12 9-10 6-4 1-2 0 0-3 2-6 16-22 148-174 60-72 92-114 210-265 14-15 32-30 20-16zM327 278l3 0 3 2 1 4 1 6 0 18-5 22-50 127-30 89-69 214-34 128-23 80-7 34-8 30-5 15-6 13-6 8-4 1-2-2-1-7 5-22 11-34 16-38 29-104 33-108 37-136 43-150 33-136 8-18 10-19 10-12zM1417 332l1-1 0 51-92 89-230 231-128 124-66 61-60 51-38 30-14 8-7 2-1-2 2-4 16-18 186-181 65-65 99-101 232-240zM1416 580l2-1 0 37-162 137-56 46-54 42-60 45-50 36-38 24-12 6-2 1-1-1 8-10 27-24 228-190zM1417 760l1-1 0 29-66 45-74 47-51 30-16 8-5 1 0-1 1-2 7-6 28-22z"/>
<path fill="#ffe400" d="M21 272l1-1 2 0 1 3 1 6 0 10-20 129-4 14-2 4-2 1-2-2-1-6 1-18 18-122 2-9zM912 278l4 0 2 3 0 5-1 6-7 20-8 16-6 10-96 136-229 350-52 76-38 54-21 26-20 21-8 5-4 1-1-3 3-8 14-24 164-248 156-248 84-136 12-16 24-26 16-14 6-4zM617 280l5 0 2 1 2 5 0 6-4 18-8 24-52 94-30 58-120 247-73 155-40 82-15 26-14 22-10 12-4 2-2 0 0-8 8-20 130-273 120-261 58-132 8-15 18-24 12-13zM1204 280l2 0 2 2 0 2-2 10-10 18-15 24-121 140-157 190-102 122-73 84-64 69-22 22-14 13-14 10-4 2-3 0-1-2 2-6 12-16 210-250 82-102 214-269 16-17 30-27 18-13 8-4zM320 290l4-2 2 0 2 2 3 6 0 16-2 14-2 8-51 131-36 109-59 182-28 108-29 101-7 35-8 28-5 15-6 13-4 6-4 2-2-2-1-6 5-22 9-30 16-38 31-110 33-106 31-116 47-166 33-132 4-11 10-18 8-12zM1417 334l1-1 0 47-94 92-226 227-126 122-68 62-56 48-40 31-11 6-3 1-2-1 2-4 5-6 29-30 172-168 78-78 296-306zM1417 580l1-1 0 36-156 132-102 82-54 41-50 36-34 22-10 6-7 2 0-2 8-8 26-24 215-180zM1415 762l3-2 0 27-62 42-65 41-44 26-13 6-3 0 1-2 6-6 28-22z"/>
<path fill="#ffd100" d="M22 278l2 6-1 8-18 124-3 10-2 4-2-1 0-1-1-10 7-50 12-80 2-6 2-3zM905 288l3 0 2 2 1 4-1 8-9 24-8 14-95 136-223 340-50 74-38 54-25 32-10 11-10 9-6 4-2 1-2-1 0-2 2-6 12-22 166-252 154-244 80-129 12-16 20-22 16-13zM611 290l5-1 2 1 2 4 0 4-2 16-3 12-4 10-55 101-26 51-120 248-67 142-40 82-14 26-13 21-12 15-4 3-2 1-1-4 1-6 8-20 126-264 119-258 58-132 7-13 14-19 12-13zM1195 290l3 1 1 3-1 8-11 22-10 14-113 132-165 200-102 122-69 79-64 68-22 22-14 12-12 8-2 0-2-1 4-8 10-14 206-246 292-365 16-17 26-23 18-13 6-3zM318 298l4-1 2 1 2 2 1 4 1 6 0 12-3 14-53 138-80 244-1-2 1-6 6-23 26-95 35-122 33-131 4-11 8-14 8-11zM1416 336l2-2 0 45-94 92-218 219-122 119-64 59-54 46-44 34-12 8-3 0 6-10 25-26 225-222 299-309zM1416 582l2-2 0 34-140 119-106 86-54 41-48 34-34 22-8 4-3 0 3-4 6-6 26-24 204-172zM190 720l0-2 0 5zM1416 762l2-1 0 25-54 36-56 36-38 22-12 6-3 0 7-8 28-22zM172 784l0-1 0 2zM170 788l1 2-1 4-8 32-25 94-13 43-7 33-6 24-5 15-6 14-4 7-4 3-2-3 0-8 5-24 8-24 14-34 27-96z"/>
<path fill="#ffbf00" d="M607 298l5 0 2 1 2 7-3 20-4 12-55 101-24 47-120 248-65 138-38 78-16 30-11 19-10 14-4 4-4 3-2-2 0-4 8-20 124-262 119-258 57-128 8-15 12-16 10-11zM895 298l5-2 4 2 1 4 0 4-7 22-9 16-93 133-215 329-50 74-38 54-29 38-18 18-6 4-2 1-1-1-1-2 2-6 14-24 162-246 150-238 78-125 12-18 8-9 20-19zM1182 300l4-1 4 0 2 3-1 4-8 20-8 12-117 138-195 236-95 112-66 74-34 35-30 29-12 10-4 2-2 1-2-1 1-4 3-4 20-26 202-242 274-342 16-19 10-9 24-20zM314 306l4-2 2 0 2 2 2 4 2 16-3 12-53 139-70 213 0-8 6-23 53-187 32-128 4-12 5-9 8-11zM1418 336l0 42-96 94-214 215-112 109-54 50-54 48-42 34-14 10-8 4-1-2 3-4 26-28 212-210 296-306 36-36zM1417 582l1-1 0 33-134 113-98 80-44 33-46 34-36 24-10 6-4 1-1-1 5-6 26-24 210-178zM198 692l0-1 0 4zM1418 762l0 23-46 31-44 28-34 20-16 7-1-1 4-4 19-16 50-38zM166 804l0-2 0 4zM164 808l1 0 0 4-5 20-25 92-11 38-7 32-6 22-9 26-4 7-4 4-2-1-1-6 5-22 7-24 14-34 23-82z"/>
<path fill="#ffad00" d="M893 304l4 0 2 2 1 4-1 6-5 16-10 16-88 128-213 326-42 62-38 54-34 46-15 17-8 6-4 2-2-1 2-6 12-22 160-244 228-362 12-17 10-11 18-16 6-4zM602 306l6-1 2 1 2 6-1 16-6 14-53 99-24 47-118 245-63 135-38 76-15 30-12 20-12 16-4 3-2 1-1-2 1-6 8-20 123-258 116-252 55-125 8-15 6-9 12-13zM1175 308l5-2 4 1 1 3-1 6-3 10-3 6-17 22-99 116-183 222-110 130-49 55-44 46-36 35-10 8-4 1 0-3 4-6 20-26 198-238 266-332 18-21 10-10 20-15zM312 312l4-1 2 0 2 1 2 4 2 12-3 12-51 135-62 187-1-2 1-5 4-16 47-167 32-124 7-19 6-9zM1417 338l1-1 0 40-96 94-210 211-110 108-48 44-54 48-42 34-12 8-6 4-1-2 4-6 26-28 199-198 288-296 36-37zM1418 582l0 31-130 110-96 78-46 35-44 32-28 18-7 4-3 1 0-1 1-2 7-8 36-32 174-148zM206 664l0-1 0 4zM1416 764l2-2 0 22-42 28-38 24-31 18-9 4-2 0 10-10 22-18zM162 818l0-2 0 3zM160 822l0-1 1 1-1 4-4 19-21 77-13 44-5 26-6 22-9 25-4 7-2 2-2 0-1-4 0-6 5-20 7-22 12-30 25-88z"/>
<path fill="#ff9b00" d="M599 312l3-1 4 0 2 3 1 4-1 12-5 14-75 143-118 245-61 130-36 72-18 36-11 19-10 14-4 4-3 1-1-2 2-8 10-24 117-246 116-252 53-119 10-19 6-9 10-10zM885 312l5-2 4 2 1 4 0 6-4 12-9 16-88 128-203 310-44 66-42 60-35 46-14 17-6 5-4 2-2-2 1-4 9-17 162-247 222-352 14-21 8-9 12-11zM1170 314l6-1 3 1 0 6-1 6-6 12-18 22-88 104-183 222-107 127-48 54-42 44-36 35-10 8-4 2 2-5 6-9 20-26 186-224 262-327 18-20 12-12 12-10zM314 316l2 0 2 2 2 3 1 5 0 8-2 10-50 130-53 161-1-1 1-7 4-15 39-138 32-124 4-14 5-8 8-9zM1416 340l2-1 0 36-98 97-205 206-107 105-50 47-50 44-40 32-10 7-4 1 0-2 6-8 28-30 183-182 283-291 38-39zM1416 584l2-1 0 29-124 105-90 74-42 32-40 29-30 20-10 5-1-1 2-2 7-8 38-34 164-140zM1417 764l1-1 0 20-40 27-32 20-22 12-10 4 7-8 19-16zM156 836l0-2 1 4-3 12-21 78-11 37-9 41-9 26-4 8-4 4-1-4 0-6 4-20 6-18 14-34 19-70z"/>
<path fill="#ff8900" d="M595 318l3-2 4 0 2 2 2 6 0 10-6 14-74 141-116 241-57 122-34 70-31 58-10 15-4 5-4 3-1-1 0-2 1-6 10-24 117-246 114-248 53-117 14-26 8-9zM880 318l4-2 4 0 3 4 1 6-3 10-11 18-86 126-195 298-48 72-39 55-38 51-16 18-6 5-2 0 0-3 2-6 12-20 158-242 218-345 14-20 8-10 10-9zM1164 320l6-2 4 2 2 4-1 4-6 12-18 22-91 108-179 218-99 117-46 52-42 44-32 32-10 8-4 2 4-9 20-26 182-220 254-317 18-21 14-14 12-10zM308 322l2-1 4-1 2 1 2 3 2 8-2 12-7 20-44 114-43 129 0-7 2-8 33-118 31-120 8-21 4-6zM1418 340l0 34-100 99-197 199-105 103-48 44-48 43-40 32-9 6-3 0 2-4 7-8 31-32 187-188 267-275 32-31zM1417 584l1-1 0 28-120 102-90 74-38 29-36 26-27 18-7 4-3 0 3-4 10-10 38-34 152-130zM222 610l0-1 0 3zM1418 764l0 18-58 38-21 12-9 3 0-1 3-4 19-16zM154 844l0-1 0 3zM152 848l1 2-1 5-19 71-11 38-9 40-9 26-4 7-2 2-2-3 0-3 4-19 7-22 12-30 11-42z"/>
<path fill="#ff7600" d="M592 322l4-2 4 1 2 1 2 4 0 4-1 6-5 14-74 142-116 241-55 117-32 66-32 62-11 16-6 5-1-3 1-5 10-25 113-236 116-252 51-114 8-16 8-13 6-7zM877 322l5-1 4 0 2 3 1 4-3 10-12 20-82 120-151 232-86 130-39 56-34 45-20 25-6 6-4 2 0-4 2-5 14-23 157-240 209-332 14-20 10-13 10-9zM308 324l4-1 2 1 4 4 0 8-3 12-48 128-35 104 0-6 2-9 25-89 31-121 8-21 4-5zM1160 324l6-2 4 1 2 3-1 6-7 12-17 22-91 108-171 208-97 115-42 48-40 42-30 30-10 9-6 4 0-2 6-10 20-26 170-206 246-306 20-24 16-17 12-10zM1417 342l1-1 0 32-102 101-190 192-104 102-46 43-44 39-34 28-12 8-4 2 2-4 8-10 42-44 166-166 258-266 34-33zM1418 584l0 26-118 101-88 72-66 49-24 16-8 4-1 0 2-4 8-8 35-32 142-121zM1416 766l2-1 0 17-54 34-15 8-6 2 1-2 1-2 14-12zM150 858l0-2 0 3zM148 862l1 2-1 4zM146 868l2 0-15 58-11 36-9 42-9 24-4 6-2 1 0-11 4-16 6-18 11-28 7-28z"/>
<path fill="#ff6400" d="M593 324l3-1 4 2 2 5-1 8-7 16-72 140-114 238-53 114-32 64-33 64-10 15-6 6-1-3 1-5 8-20 113-237 118-256 49-108 8-16 8-13 8-9zM879 324l4 0 2 2 1 4 0 4-6 12-11 18-79 116-147 226-86 130-37 53-32 43-24 29-6 6-2 0 1-5 5-8 22-36 139-212 211-334 14-21 12-15 10-8zM309 326l3 0 2 1 3 5-1 8-3 12-46 122-25 73-1-1 1-7 17-61 17-69 14-52 8-21 6-7zM1161 326l5 0 2 1 1 5-4 8-11 16-104 124-179 218-77 91-52 59-52 54-16 14-2 1-1-1 7-12 22-28 165-200 239-298 20-23 16-16 12-9zM1417 344l1-1-1 29-286 288-101 99-46 44-40 35-36 30-8 5-4 2 0-1 2-4 7-8 40-42 158-158 251-259 38-37zM240 548l0-1 1 1-1 4zM1417 586l1-1 0 25-114 96-88 72-36 28-30 22-19 12-3 1-1-1 13-14 26-24 142-121zM1417 766l1 0 0 15-43 27-15 8-4 1 1-3 11-10zM142 882l1 0-1 7-12 43-9 30-8 38-7 22-4 7-2 2-1-3 0-4 4-20 6-18 10-24 9-34 12-40 1-2z"/>
<path fill="#ff5200" d="M589 328l3-1 4-1 3 2 1 4-1 8-7 16-72 141-193 405-35 67-10 16-6 6-1-3 1-5 8-19 113-238 116-250 47-105 16-30 6-8zM873 328l5-1 4 1 2 2 0 4-4 10-12 20-80 118-143 220-82 124-61 86-24 30-14 16-1-2 1-2 4-8 22-36 137-210 203-321 16-24 12-15 8-8zM305 330l5-2 2 1 3 3 0 6-2 12-16 44-32 82-15 43 0-6 9-33 15-62 14-53 9-25 3-5zM1156 330l4-1 4 0 2 3-1 4-8 14-19 24-88 105-173 211-77 91-38 44-38 41-28 28-14 11 0-2 4-7 28-36 155-188 225-281 22-26 18-19 12-11zM1416 346l2-2 0 26-8 8-276 278-102 101-44 41-38 34-32 26-6 4-2 1-1-1 9-12 32-34 157-158 229-235 50-50zM1417 586l1-1 0 24-110 93-80 66-57 44-21 14-10 5-1-1 5-6 30-28 144-123zM1416 768l2-2 0 14-36 22-11 6-3 0 12-12zM138 896l1 2-1 4zM136 902l2 0-2 8-10 36-5 14-4 24-4 16-7 20-4 7-2 0 0-7 4-16 8-24 6-15 1-1 1-6 1-2 3-13 10-35 1-2z"/>
<path fill="#ff4000" d="M589 330l3-1 4 0 2 5-2 10-7 16-71 140-187 392-39 76-8 13-6 6-1-3 1-5 8-19 109-228 118-256 45-99 10-21 8-13 6-8zM874 330l4 0 2 1 1 3 0 4-6 12-11 18-76 113-145 223-77 116-58 82-24 31-8 9-4 3 0-2 4-8 20-33 133-204 199-315 16-24 12-15 10-10zM304 332l6-1 2 1 1 2 1 6-4 14-19 54-31 78 0-7 8-35 20-78 8-22 4-8zM1156 332l4 0 2 1 0 5-6 10-11 16-97 116-165 202-75 89-46 53-50 52-14 13-4 3-2 0 8-12 28-36 143-174 225-280 22-26 16-16 12-11zM1418 346l0 23-13 13-264 266-97 96-42 40-34 31-32 27-14 9-1-1 5-6 31-34 155-156 214-220 58-58zM258 490l0-2 0 3zM1416 588l2-2 0 22-106 90-80 66-58 44-18 12-4 2-2 0 8-10 24-22zM1417 768l1-1 0 12-21 13-15 8-1-2 6-6zM132 918l0-2 1 2-1 4-6 22-1-2 1-6 1-2 1-5 1-1 1-5 1-1zM124 944l2 0-2 6zM122 952l1 0-1 5zM118 966l1 2-1 6-5 24-7 20-4 6-1-6 3-14 6-18z"/>
<path fill="#ff2e00" d="M589 332l3-1 2 1 2 2 0 4-3 10-6 16-72 140-183 384-38 75-8 13-6 7-1-1 1-6 6-15 111-233 116-250 45-100 10-20 8-14 6-7zM304 334l4-1 2 0 2 4 0 7-3 12-23 62-14 36-8 18 0-7 6-28 18-69 8-22 4-8zM869 334l7-2 2 2 1 4-7 14-12 20-72 108-146 224-74 113-36 51-28 38-18 22-4 4-2 0 6-12 22-36 125-192 191-302 16-24 12-16 10-11zM1151 336l5-1 2 0 1 3-1 4-10 16-21 26-80 96-167 204-74 88-36 42-32 34-26 26-8 6-1 0 3-6 6-8 28-36 133-162 213-265 40-46 16-15zM1417 348l1 0 0 19-20 21-254 256-100 99-42 40-34 31-30 24-4 2-2 0 9-12 27-28 143-144 221-228 54-53 16-15zM1417 588l1-1 0 20-102 87-70 58-54 42-20 14-10 6-1-2 3-4 26-24zM1416 770l2-1 0 8-22 13-2 1-1-1 8-8zM128 932l0-1 0 4zM124 946l0-1 0 3zM118 968l0-1 0 3-1 10-5 20-6 16-2 3-2 0 0-5 4-16 6-18z"/>
<path fill="#ff1b00" d="M589 334l3 0 2 2 0 4-3 10-6 16-72 140-176 372-43 83-6 11-6 7-1-1 0-2 5-14 115-242 157-341 10-20 8-13 6-7 4-4zM304 336l4-1 2 2 1 3-1 8-3 12-27 73-10 23-4 6 2-14 4-18 16-61 8-22 4-7zM869 336l3-1 3 1 1 2-1 4-5 12-13 22-71 106-212 325-56 79-22 28-6 6-1 0 3-8 22-36 121-186 189-299 16-23 12-16 10-11zM1148 340l6-2 1 2-1 6-10 16-18 22-240 292-72 86-60 68-28 29-8 7-4 2 0-2 4-6 26-34 133-162 201-250 44-51 14-14zM1417 350l1-1 0 16-39 41-233 236-100 99-38 36-32 29-24 20-6 4-2 1-1-1 9-12 26-28 137-138 215-221 56-55 18-16zM1418 588l0 18-96 82-72 60-54 42-18 12-6 3 0-1 5-6 21-20zM1418 770l0 6-10 5-1-1zM118 970l0-1 0 2zM116 972l0-1 2 1-3 18-7 20-4 7 0-7 2-11z"/>
<path fill="#ff0900" d="M304 338l2-1 2 1 1 4-1 8-2 10-20 56-16 37-1-1 0-2 3-18 16-61 8-22 4-7zM585 338l5-1 1 1 1 4-3 10-6 16-52 100-22 46-169 356-44 86-8 14-4 5-2-1 2-6 8-18 115-242 147-319 18-35 8-11zM866 340l4-1 2 0 1 3-1 4-6 12-12 20-69 104-209 321-52 73-20 26-6 6-1 0 1-3 6-11 22-36 113-174 179-282 30-44 10-11zM1145 344l5-1 1 1-1 4-7 12-11 16-232 282-68 82-48 56-40 43-16 15-4 2 6-10 26-34 125-152 201-250 40-46 14-13zM1417 352l1 0 0 11-17 19-33 34-215 218-95 94-68 64-25 22-11 7-1-1 1-2 27-30 141-142 202-208 62-61 18-15zM1416 590l2-2 0 17-92 79-70 58-46 36-16 12-10 6-1-2 4-4 19-18zM116 972l1 2 0 4-4 18-5 12-2 4-2 1 2-13 2-8z"/>
<path fill="#f60000" d="M588 340l1 2 0 8-9 22-49 96-24 48-165 349-38 75-12 22-6 9-1-1 0-2 3-8 22-48 91-190 155-336 10-20 8-13 8-10 4-3zM302 342l2-2 2 1 1 3 0 8-2 10-19 52-14 32-1 0 0-2 1-10 14-55 8-24 4-8zM864 344l4-1 1 1-1 6-4 10-12 20-69 104-203 312-48 68-20 26-6 6 0-2 4-8 22-36 109-168 175-276 30-44 10-11zM1144 348l2 1 0 1-2 6-8 12-12 16-246 300-62 74-36 41-32 34-12 11-2 0 8-12 20-26 113-138 203-252 42-49 14-13zM1415 356l3-1 0 5-7 10-13 14-244 248-74 74-58 56-40 36-12 10-6 4-2 0 4-6 24-26 127-128 211-217 58-56 18-16zM1417 590l1-1 0 16-86 73-72 60-46 36-14 10-4 2-2 0 11-12 25-22zM116 974l0-1 0 5-2 12-4 12-4 8 0-6 2-10 4-13z"/>
<path fill="#e40000" d="M303 344l1 0 2 2 0 4-4 18-16 44-12 28-1-2 1-11 14-53 8-21 4-7zM581 346l3-2 2 0 1 6-3 10-6 14-49 96-22 44-163 346-34 67-18 33-4 5 0-3 2-5 26-57 91-190 106-228 39-86 16-32 8-12zM863 348l2 0 1 2-2 6-12 22-73 110-151 234-46 70-28 40-28 38-10 12-2 0 10-18 20-32 95-146 179-282 28-40 10-11zM1138 354l3 0 0 2-1 4-16 22-222 272-106 126-36 40-10 9-6 5 0-2 8-12 22-28 105-128 195-242 42-49 12-12zM1410 362l3 0-3 6-21 24-245 249-75 75-49 47-40 35-6 4-2 0 8-10 23-24 120-122 203-208 58-56 16-14zM1416 592l2-2 0 14-152 128-38 30-14 10-6 4 0-2 4-4 24-22zM116 974l0 5-4 16-4 10-2 2 2-13 4-12z"/>
<path fill="#d10000" d="M301 348l1-1 1 1 1 4-2 14-14 39-12 28-2-1 2-11 10-39 8-23 4-8zM580 350l2-1 2 0 0 5-2 8-6 14-51 100-28 58-151 321-30 59-20 36 0-4 26-58 83-172 110-238 37-81 16-32 6-9zM858 354l2-1 2 1-2 7-6 12-12 19-61 92-193 298-36 52-18 24-10 12 0-3 4-7 18-30 101-156 163-256 30-45 10-12zM1133 360l2 0 1 2-2 4-16 22-212 260-102 122-34 38-16 15-1-1 1-2 4-6 20-26 105-128 187-232 42-49 12-12zM1401 370l3-1 1 1-4 6-25 28-218 222-128 126-30 28-10 8-7 4 1-2 5-6 19-20 108-110 198-203 60-58 16-15zM1417 592l1-1 0 12-146 123-38 30-9 6-2 0 19-18zM114 978l1 0-1 8-2 8-4 9-1-3 1-5z"/>
<path fill="#bf0000" d="M299 352l3 0 1 4-5 18-16 44-4 8-2 1 4-21 8-29 6-17zM579 354l1-1 1 1 0 6-9 22-49 96-32 66-88 186-53 115-28 56-18 32 0-3 14-32 97-202 100-216 37-82 16-31 6-9zM854 360l2-1 1 1-1 6-18 30-59 90-189 292-32 46-24 31 0-3 2-4 22-36 91-140 159-250 30-44 8-11zM1126 368l2-1 1 1-5 10-36 46-244 298-48 56-20 22-12 11-1-1 1-2 18-24 105-128 169-210 48-57 12-13zM1391 380l3-1 1 1-8 10-24 26-205 209-118 117-38 34-4 3-1-1 26-28 289-295 54-53zM1416 594l2-2-1 10-137 116-30 24-2 1-1-1zM1245 744l1-1 1 1zM995 780l1-1 1 1zM114 978l1 2-1 6-4 12-2 3 0-5z"/>
<path fill="#ad0000" d="M298 356l2-1 1 3-3 14-10 29-8 18-1-1 1-10 6-23 6-18zM575 360l3-1 0 5-8 20-51 100-69 144-1-2 1-3 67-145 31-70 16-32 6-10zM851 366l1 0 0 2-2 6-22 36-49 74-185 286-34 50-14 18-2 2-1 0 5-10 16-26 87-134 159-250 26-38 8-10zM1120 376l2 0-4 8-20 26-184 226-98 118-30 34-12 11-1-1 3-4 20-26 95-116 163-202 42-50 14-15zM1378 394l2 0-8 10-24 26-146 149-123 123-45 44-20 18-1-2 13-14 266-272 52-52 24-22zM1418 594l0 6-68 58-48 39 0-1 4-4zM448 628l1 0-1 4zM446 632l2 0-4 8-1 0zM442 642l0-2 1 2-1 2-1 0zM440 646l0-1 1 1-1 3-1-1zM438 650l0-1 1 1-1 3zM436 654l1 0-1 3zM434 658l1 0-1 3zM432 662l1 0-1 4zM430 668l0-2 0 4zM428 672l0-1 0 3zM426 676l0-1 1 1-1 2zM424 680l0-1 1 1-1 3zM422 684l0-1 1 1-1 3zM420 688l1 0-1 3zM418 692l1 0-1 4zM416 696l1 0 0 2-1 2-1 0zM1300 698l1 0-1 1zM414 702l0-2 1 2-1 2-1 0zM412 706l0-2 1 2-1 3-1-1zM410 710l0-1 1 1-1 3-1-1zM408 714l0-1 1 1-1 3-1-1zM406 718l0-1 1 1-1 3-1-1zM404 722l0-1 1 1-1 4-1-2zM402 726l2 0-42 93-30 61-20 37 0-3 2-6 24-52zM1012 764l2 0-2 1zM114 980l0-1 0 6-4 12-1-1 1-6z"/>
<path fill="#9b0000" d="M298 360l1 2-1 4-2 10-8 22-6 14-1-2 1-7 6-22 6-16zM573 366l1-1 1 1-1 5-8 19-32 62-10 18-1 0 9-24 20-44 12-24 6-9zM846 374l0 2-2 6-20 32-55 84-169 262-30 44-16 21 0-2 16-27 87-134 149-234 26-38 8-11zM1106 392l2-2 1 2-13 18-30 38-204 250-42 50-32 35-1-1 1-2 14-18 240-296 40-48zM1356 416l2 0-27 30-149 152-100 100-44 42-2 1 0-1 10-10 244-251 44-43zM522 472l0-1 0 3zM384 766l0-1 0 3zM382 768l1 2-1 2-18 41-22 46-20 38-1-1 1-4 10-22 24-50zM786 784l1 0-1 1zM320 898l0-1 1 1-1 2zM112 984l1 0 0 2-3 9 0-5z"/>
<path fill="#890000" d="M296 366l0 4-2 9-6 16-4 8 0-4 6-22 4-9zM568 376l0-1 2 1-6 15-14 28-14 25 0-3 12-28 12-25zM835 390l1-1 0 2-4 7-12 20-59 90-127 198-54 82-12 17-1-1 13-22 77-118 149-234 22-32zM1087 416l1-1 0 2-8 11-40 50-148 182-60 72-22 25-1-1 1-2 8-10 214-264 38-46zM1321 452l1-1 0 1zM1318 454l2-1 0 1zM1316 456l2-2 0 2-24 26-130 132-1-2 33-34zM1161 614l1-1 2 1-2 2zM1159 616l3 0-2 2zM1157 618l3 0-2 2zM1156 620l2 0-2 2zM1154 622l2 0-2 2zM1152 624l2 0-2 2zM1150 626l2 0-2 2zM1148 628l2 0-2 2zM1146 630l2 0-2 2zM1144 632l2 0-2 1zM1142 634l1 0-1 1zM1140 636l1 0-1 1zM1138 638l1 0-1 1zM807 758l1-1 1 1-1 1zM806 760l1 0-1 1zM370 794l1 0-1 3-1-1zM368 798l0-1 1 1-1 4-10 22-22 44-2 4-1 0 1-4 10-22zM566 806l0-1 0 2zM332 874l0-2 0 4zM330 878l0-1 0 2zM112 986l0-1 0 4z"/>
</g>
</g>
<rect x="195.5" y="1611.5" width="706.5" height="607.6" fill="none" stroke="#00664e" stroke-width="2.4"/>
<path d="M326.4 2219.1v-6.0M326.4 1611.5v6.0M195.5 1733.3h6.0M902.0 1733.3h-6.0M470.3 2219.1v-6.0M470.3 1611.5v6.0M195.5 1854.8h6.0M902.0 1854.8h-6.0M614.1 2219.1v-6.0M614.1 1611.5v6.0M195.5 1976.2h6.0M902.0 1976.2h-6.0M758.0 2219.1v-6.0M758.0 1611.5v6.0M195.5 2097.7h6.0M902.0 2097.7h-6.0" stroke="#00664e" stroke-width="2.4" fill="none"/>
<text x="184.0" y="1627.4" font-size="42.8" font-weight="bold" text-anchor="end">900</text>
<text x="184.0" y="1748.8" font-size="42.8" font-weight="bold" text-anchor="end">800</text>
<text x="184.0" y="1870.3" font-size="42.8" font-weight="bold" text-anchor="end">700</text>
<text x="184.0" y="1991.7" font-size="42.8" font-weight="bold" text-anchor="end">600</text>
<text x="184.0" y="2113.2" font-size="42.8" font-weight="bold" text-anchor="end">500</text>
<text x="184.0" y="2234.6" font-size="42.8" font-weight="bold" text-anchor="end">400</text>
<text x="326.4" y="2271.0" font-size="42.8" font-weight="bold" text-anchor="middle">100</text>
<text x="470.3" y="2271.0" font-size="42.8" font-weight="bold" text-anchor="middle">200</text>
<text x="614.1" y="2271.0" font-size="42.8" font-weight="bold" text-anchor="middle">300</text>
<text x="758.0" y="2271.0" font-size="42.8" font-weight="bold" text-anchor="middle">400</text>
<text x="901.9" y="2271.0" font-size="42.8" font-weight="bold" text-anchor="middle">500</text>
<text x="549.0" y="2323.9" font-size="49.9" font-weight="bold" text-anchor="middle">Thickness of BP (nm)</text>
<text x="0" y="0" font-size="50.2" font-weight="bold" text-anchor="middle" transform="translate(77.0 1915.0) rotate(-90)">Wavelength (nm)</text>
<rect x="919.8" y="1608.8" width="21.2" height="610.2" fill="url(#heg)" stroke="#06403a" stroke-width="2"/>
<text x="950.5" y="1624.8" font-size="42" stroke="#1a1311" stroke-width="0.9">2</text>
<text x="950.5" y="1712.0" font-size="42" stroke="#1a1311" stroke-width="0.9">1.5</text>
<text x="950.5" y="1799.1" font-size="42" stroke="#1a1311" stroke-width="0.9">1</text>
<text x="950.5" y="1886.3" font-size="42" stroke="#1a1311" stroke-width="0.9">0.5</text>
<text x="950.5" y="1973.5" font-size="42" stroke="#1a1311" stroke-width="0.9">0</text>
<text x="950.5" y="2060.7" font-size="42" stroke="#1a1311" stroke-width="0.9">−0.5</text>
<text x="950.5" y="2147.8" font-size="42" stroke="#1a1311" stroke-width="0.9">−1</text>
<text x="950.5" y="2235.0" font-size="42" stroke="#1a1311" stroke-width="0.9">−1.5</text>
<path d="M919.8 1696.0h5M941.0 1696.0h-5M919.8 1783.1h5M941.0 1783.1h-5M919.8 1870.3h5M941.0 1870.3h-5M919.8 1957.5h5M941.0 1957.5h-5M919.8 2044.7h5M941.0 2044.7h-5M919.8 2131.8h5M941.0 2131.8h-5" stroke="#012" stroke-width="1.5" fill="none" opacity=".7"/>
<rect x="690.9" y="1610.3" width="214.0" height="86.0" fill="#7d3c05"/>
<text x="711.0" y="1669.5" font-size="56" fill="#fff0e0">ΔR/R<tspan dy="19.5" font-size="31">AZ</tspan></text>
<g clip-path="url(#cb)" fill="none" stroke-linejoin="round">
</g>
<text x="1221.5" y="104.2" font-size="42" font-weight="bold" fill="#000">R</text>
<text x="1253.0" y="119.5" font-size="26" font-weight="bold" fill="#000">ZZ</text>
<text x="1221.5" y="172.1" font-size="42" font-weight="bold" fill="#000">R</text>
<text x="1253.0" y="187.4" font-size="26" font-weight="bold" fill="#000">AC</text>
<text x="1376.4" y="104.2" font-size="42" font-weight="bold" fill="#000">ΔR/R</text>
<text x="1477.0" y="119.5" font-size="26" font-weight="bold" fill="#000">AZ</text>
<g clip-path="url(#cb)" fill="none" stroke-linejoin="round">
<path d="M1109.3 381.2L1110.1 365.9L1111.0 351.5L1111.8 337.9L1112.7 325.2L1113.5 313.1L1114.4 301.9L1115.2 291.3L1116.1 281.4L1117.0 272.2L1117.8 263.5L1118.6 255.4L1119.5 247.8L1120.3 240.7L1121.2 234.1L1122.0 227.9L1122.9 222.1L1123.8 216.7L1124.6 211.6L1125.5 206.8L1126.3 202.3L1127.1 198.2L1128.0 194.2L1128.8 190.6L1129.7 187.1L1130.5 183.9L1131.4 180.9L1132.2 178.0L1133.1 175.4L1134.0 172.9L1134.8 170.6L1135.6 168.4L1136.5 166.3L1137.3 164.4L1138.2 162.6L1139.0 161.0L1139.9 159.4L1140.8 158.0L1141.6 156.7L1142.5 155.4L1143.3 154.3L1144.1 153.2L1145.0 152.3L1145.8 151.4L1146.7 150.6L1147.5 149.9L1148.4 149.2L1149.2 148.7L1150.1 148.2L1151.0 147.7L1151.8 147.4L1152.6 147.1L1153.5 146.9L1154.3 146.8L1155.2 146.7L1156.0 146.7L1156.9 146.7L1157.8 146.8L1158.6 147.0L1159.5 147.3L1160.3 147.6L1161.1 148.0L1162.0 148.5L1162.8 149.0L1163.7 149.6L1164.5 150.3L1165.4 151.0L1166.2 151.9L1167.1 152.8L1168.0 153.8L1168.8 154.8L1169.6 156.0L1170.5 157.3L1171.3 158.6L1172.2 160.1L1173.0 161.7L1173.9 163.4L1174.8 165.1L1175.6 167.1L1176.5 169.1L1177.3 171.3L1178.1 173.6L1179.0 176.1L1179.8 178.7L1180.7 181.5L1181.5 184.5L1182.4 187.7L1183.2 191.0L1184.1 194.6L1185.0 198.4L1185.8 202.5L1186.6 206.8L1187.5 211.4L1188.3 216.3L1189.2 221.5L1190.0 227.0L1190.9 232.9L1191.8 239.2L1192.6 245.9L1193.5 253.0L1194.3 260.6L1195.1 268.7L1196.0 277.3L1196.8 286.5L1197.7 296.3L1198.5 306.7L1199.4 317.8L1200.2 329.5L1201.1 342.0L1202.0 355.2L1202.8 369.2L1203.6 383.9L1204.5 399.4L1205.3 415.7L1206.2 432.7L1207.0 450.3L1207.9 468.5L1208.8 487.2L1209.6 506.3L1210.5 525.4L1211.3 544.5L1212.1 563.2L1213.0 581.3L1213.8 598.4L1214.7 614.2L1215.5 628.3L1216.4 640.3L1217.2 650.1L1218.1 657.1L1219.0 661.4L1219.8 662.8L1220.6 661.1L1221.5 656.6L1222.3 649.3L1223.2 639.5L1224.0 627.5L1224.9 613.5L1225.8 597.9L1226.6 581.2L1227.5 563.6L1228.3 545.4L1229.1 526.9L1230.0 508.4L1230.8 490.0L1231.7 472.0L1232.5 454.5L1233.4 437.5L1234.2 421.2L1235.1 405.5L1236.0 390.6L1236.8 376.4L1237.6 363.0L1238.5 350.2L1239.3 338.2L1240.2 326.9L1241.0 316.2L1241.9 306.1L1242.8 296.6L1243.6 287.7L1244.5 279.4L1245.3 271.5L1246.1 264.1L1247.0 257.2L1247.8 250.7L1248.7 244.5L1249.5 238.8L1250.4 233.4L1251.2 228.3L1252.1 223.6L1253.0 219.1L1253.8 214.9L1254.6 210.9L1255.5 207.2L1256.3 203.7L1257.2 200.4L1258.0 197.3L1258.9 194.5L1259.8 191.7L1260.6 189.2L1261.5 186.8L1262.3 184.6L1263.1 182.5L1264.0 180.6L1264.8 178.7L1265.7 177.1L1266.5 175.5L1267.4 174.0L1268.2 172.7L1269.1 171.4L1270.0 170.3L1270.8 169.2L1271.6 168.3L1272.5 167.4L1273.3 166.7L1274.2 166.0L1275.0 165.4L1275.9 164.9L1276.8 164.5L1277.6 164.1L1278.5 163.9L1279.3 163.7L1280.1 163.6L1281.0 163.5L1281.8 163.6L1282.7 163.7L1283.5 163.9L1284.4 164.2L1285.2 164.5L1286.1 165.0L1287.0 165.5L1287.8 166.1L1288.6 166.8L1289.5 167.6L1290.3 168.4L1291.2 169.4L1292.0 170.4L1292.9 171.6L1293.8 172.8L1294.6 174.1L1295.5 175.6L1296.3 177.2L1297.1 178.8L1298.0 180.6L1298.8 182.5L1299.7 184.6L1300.5 186.8L1301.4 189.1L1302.2 191.6L1303.1 194.2L1304.0 197.0L1304.8 200.0L1305.6 203.2L1306.5 206.6L1307.3 210.1L1308.2 213.9L1309.0 218.0L1309.9 222.3L1310.8 226.8L1311.6 231.6L1312.5 236.8L1313.3 242.2L1314.1 248.0L1315.0 254.1L1315.8 260.6L1316.7 267.5L1317.5 274.8L1318.4 282.6L1319.2 290.9L1320.1 299.6L1321.0 308.9L1321.8 318.7L1322.6 329.1L1323.5 340.1L1324.3 351.8L1325.2 364.1L1326.0 377.0L1326.9 390.6L1327.8 404.9L1328.6 419.9L1329.5 435.5L1330.3 451.7L1331.1 468.4L1332.0 485.6L1332.8 503.3L1333.7 521.2L1334.5 539.2L1335.4 557.1L1336.2 574.7L1337.1 591.9L1338.0 608.2L1338.8 623.5L1339.6 637.4L1340.5 649.8L1341.3 660.2L1342.2 668.4L1343.0 674.3L1343.9 677.7L1344.8 678.6L1345.6 676.9L1346.5 672.6L1347.3 665.9L1348.1 657.0L1349.0 646.1L1349.8 633.4L1350.7 619.3L1351.5 604.0L1352.4 587.7L1353.2 570.9L1354.1 553.6L1354.9 536.2L1355.8 518.7L1356.6 501.5L1357.5 484.5L1358.3 468.0L1359.2 452.0L1360.0 436.5L1360.9 421.6L1361.8 407.3L1362.6 393.7L1363.4 380.7L1364.3 368.4L1365.1 356.6L1366.0 345.5L1366.8 335.0L1367.7 325.1L1368.5 315.7L1369.4 306.9L1370.2 298.5L1371.1 290.6L1371.9 283.2L1372.8 276.1L1373.6 269.5L1374.5 263.3L1375.3 257.4L1376.2 251.9L1377.0 246.7L1377.9 241.8L1378.8 237.1L1379.6 232.8L1380.4 228.7L1381.3 224.8L1382.1 221.2L1383.0 217.8L1383.8 214.6L1384.7 211.5L1385.5 208.7L1386.4 206.0L1387.2 203.5L1388.1 201.2L1388.9 199.0L1389.8 197.0L1390.6 195.1L1391.5 193.3L1392.3 191.7L1393.2 190.1L1394.0 188.7L1394.9 187.4L1395.8 186.3L1396.6 185.2L1397.4 184.2L1398.3 183.3L1399.1 182.6L1400.0 181.9L1400.8 181.3L1401.7 180.8L1402.5 180.4L1403.4 180.1L1404.2 179.9L1405.1 179.7L1405.9 179.7L1406.8 179.7L1407.6 179.9L1408.5 180.1L1409.3 180.4L1410.2 180.8L1411.0 181.3L1411.9 181.8L1412.8 182.5L1413.6 183.3L1414.4 184.1L1415.3 185.1L1416.1 186.1L1417.0 187.3L1417.8 188.6L1418.7 190.0L1419.5 191.4L1420.4 193.1L1421.2 194.8L1422.1 196.6L1422.9 198.6L1423.8 200.8L1424.6 203.0L1425.5 205.4L1426.3 208.0L1427.2 210.8L1428.0 213.7L1428.9 216.8L1429.8 220.1L1430.6 223.5L1431.4 227.2L1432.3 231.2L1433.1 235.3L1434.0 239.7L1434.8 244.4L1435.7 249.3L1436.5 254.5L1437.4 260.1L1438.2 265.9L1439.1 272.1L1439.9 278.7L1440.8 285.6L1441.6 293.0L1442.5 300.8L1443.3 309.0L1444.2 317.6L1445.0 326.8L1445.9 336.5L1446.8 346.7L1447.6 357.4L1448.4 368.7L1449.3 380.6L1450.1 393.0L1451.0 406.0L1451.8 419.7L1452.7 433.8L1453.5 448.6L1454.4 463.8L1455.2 479.5L1456.1 495.6L1456.9 512.0L1457.8 528.7L1458.6 545.4L1459.5 562.1L1460.3 578.5L1461.2 594.5L1462.0 609.9L1462.9 624.5L1463.8 638.0L1464.6 650.1L1465.4 660.8L1466.3 669.7L1467.1 676.6L1468.0 681.5L1468.8 684.2L1469.7 684.7L1470.5 682.9L1471.4 678.9L1472.2 672.9L1473.1 664.9L1473.9 655.1L1474.8 643.7L1475.6 631.0L1476.5 617.1L1477.3 602.4L1478.2 587.0L1479.0 571.1L1479.9 555.0L1480.8 538.7L1481.6 522.5L1482.4 506.5L1483.3 490.7L1484.1 475.3L1485.0 460.3L1485.8 445.8L1486.7 431.9L1487.5 418.4L1488.4 405.5L1489.2 393.2L1490.1 381.4L1490.9 370.2L1491.8 359.6L1492.6 349.4L1493.5 339.8L1494.3 330.7L1495.2 322.0L1496.0 313.9L1496.9 306.1L1497.8 298.8L1498.6 291.8L1499.4 285.3L1500.3 279.1L1501.1 273.2L1502.0 267.7L1502.8 262.4L1503.7 257.5L1504.5 252.8L1505.4 248.4L1506.2 244.3L1507.1 240.4L1507.9 236.7L1508.8 233.2L1509.6 230.0L1510.5 226.9L1511.3 224.0L1512.2 221.3L1513.0 218.8L1513.9 216.4L1514.8 214.1L1515.6 212.1L1516.4 210.1L1517.3 208.3L1518.1 206.7L1519.0 205.1L1519.8 203.7L1520.7 202.4L1521.5 201.2L1522.4 200.1L1523.2 199.2L1524.1 198.3L1524.9 197.6L1525.8 196.9L1526.6 196.4L1527.5 196.0L1528.3 195.6L1529.2 195.4L1530.0 195.2L1530.9 195.2L1531.8 195.2L1532.6 195.3L1533.4 195.6L1534.3 195.9L1535.1 196.3L1536.0 196.8L1536.8 197.5L1537.7 198.2L1538.5 199.0L1539.4 200.0L1540.2 201.0L1541.1 202.1L1541.9 203.4L1542.8 204.8L1543.6 206.3L1544.5 207.9L1545.3 209.7L1546.2 211.5L1547.0 213.6L1547.9 215.7L1548.8 218.0L1549.6 220.5L1550.4 223.1L1551.3 225.9L1552.1 228.8L1553.0 232.0L1553.8 235.3L1554.7 238.8L1555.5 242.6L1556.4 246.5L1557.2 250.7L1558.1 255.1L1558.9 259.8L1559.8 264.8L1560.6 270.0L1561.5 275.5L1562.3 281.4L1563.2 287.5L1564.0 294.1L1564.9 300.9L1565.8 308.2L1566.6 315.8L1567.4 323.8L1568.3 332.3L1569.1 341.2L1570.0 350.6L1570.8 360.4L1571.7 370.7L1572.5 381.5L1573.4 392.9L1574.2 404.7L1575.1 417.0L1575.9 429.9L1576.8 443.2L1577.6 457.0L1578.5 471.2L1579.3 485.8L1580.2 500.7L1581.0 515.9L1581.9 531.3L1582.8 546.8L1583.6 562.2L1584.4 577.4L1585.3 592.3L1586.1 606.7L1587.0 620.4L1587.8 633.2L1588.7 645.0L1589.5 655.6L1590.4 664.7L1591.2 672.3L1592.1 678.1L1592.9 682.1L1593.8 684.2L1594.6 684.4L1595.5 682.6L1596.3 679.0L1597.2 673.5L1598.0 666.3L1598.9 657.6L1599.8 647.4L1600.6 636.1L1601.4 623.6L1602.3 610.4L1603.1 596.4L1604.0 581.9L1604.8 567.2L1605.7 552.2L1606.5 537.1L1607.4 522.2L1608.2 507.4L1609.1 492.8L1609.9 478.5L1610.8 464.7L1611.7 451.2L1612.5 438.2L1613.3 425.6L1614.2 413.5L1615.0 401.9L1615.9 390.9L1616.8 380.2L1617.6 370.1L1618.4 360.5L1619.3 351.3L1620.2 342.5L1621.0 334.2L1621.8 326.3L1622.7 318.8L1623.5 311.6L1624.4 304.9L1625.2 298.5L1626.1 292.4L1626.9 286.7L1627.8 281.2L1628.7 276.1L1629.5 271.2L1630.3 266.6L1631.2 262.2L1632.0 258.1L1632.9 254.2L1633.8 250.6L1634.6 247.1L1635.4 243.8L1636.3 240.8L1637.2 237.9L1638.0 235.2L1638.8 232.7L1639.7 230.3L1640.5 228.1L1641.4 226.0L1642.2 224.1L1643.1 222.3L1643.9 220.6L1644.8 219.1L1645.7 217.7L1646.5 216.4L1647.3 215.3L1648.2 214.3L1649.0 213.3L1649.9 212.5L1650.8 211.8L1651.6 211.3L1652.4 210.8L1653.3 210.4L1654.2 210.1L1655.0 210.0L1655.8 209.9L1656.7 209.9L1657.5 210.1L1658.4 210.3L1659.2 210.7L1660.1 211.1L1660.9 211.7L1661.8 212.4L1662.7 213.2L1663.5 214.0L1664.3 215.0L1665.2 216.2L1666.0 217.4L1666.9 218.7L1667.8 220.2L1668.6 221.8L1669.4 223.6L1670.3 225.4L1671.2 227.4L1672.0 229.6L1672.8 231.9L1673.7 234.3L1674.5 236.9L1675.4 239.7L1676.2 242.7L1677.1 245.8L1677.9 249.1L1678.8 252.6L1679.7 256.4L1680.5 260.3L1681.3 264.5L1682.2 268.9L1683.0 273.5L1683.9 278.4L1684.8 283.6L1685.6 289.0L1686.4 294.7L1687.3 300.8L1688.2 307.1L1689.0 313.8L1689.8 320.9L1690.7 328.3L1691.5 336.1L1692.4 344.2L1693.2 352.8L1694.1 361.8L1694.9 371.2L1695.8 381.0L1696.7 391.3L1697.5 402.0L1698.3 413.2L1699.2 424.8L1700.0 436.8L1700.9 449.2L1701.8 462.1L1702.6 475.3L1703.4 488.8L1704.3 502.6L1705.2 516.6L1706.0 530.8L1706.8 545.0L1707.7 559.2L1708.5 573.2L1709.4 587.0L1710.2 600.4L1711.1 613.2L1711.9 625.3L1712.8 636.6L1713.7 646.9L1714.5 656.0L1715.3 663.8L1716.2 670.3L1717.0 675.2L1717.9 678.5L1718.8 680.1L1719.6 680.1L1720.4 678.3L1721.3 675.0L1722.2 670.0L1723.0 663.6L1723.8 655.8L1724.7 646.8L1725.5 636.6L1726.4 625.5L1727.2 613.6L1728.1 601.0L1728.9 587.9L1729.8 574.4L1730.7 560.7L1731.5 546.9L1732.3 533.0L1733.2 519.2L1734.0 505.6L1734.9 492.2L1735.8 479.1L1736.6 466.2L1737.4 453.8L1738.3 441.7L1739.2 430.0L1740.0 418.8L1740.8 408.0L1741.7 397.6L1742.5 387.6L1743.4 378.1L1744.2 368.9L1745.1 360.2L1745.9 351.9L1746.8 343.9L1747.7 336.4L1748.5 329.2L1749.3 322.4L1750.2 315.8L1751.0 309.7L1751.9 303.8L1752.8 298.2L1753.6 292.9L1754.4 287.9L1755.3 283.2L1756.2 278.7L1757.0 274.4L1757.8 270.4L1758.7 266.6L1759.5 263.0L1760.4 259.6L1761.2 256.4L1762.1 253.4L1762.9 250.6L1763.8 247.9L1764.7 245.4L1765.5 243.1L1766.3 240.9L1767.2 238.9L1768.0 237.0L1768.9 235.3L1769.8 233.7L1770.6 232.2L1771.4 230.9L1772.3 229.7" stroke="#000" stroke-width="4.6" stroke-dasharray="13 7"/>
<path d="M1109.3 415.3L1110.1 398.3L1111.0 382.2L1111.8 367.1L1112.7 353.0L1113.5 339.8L1114.4 327.6L1115.2 316.1L1116.1 305.5L1117.0 295.5L1117.8 286.3L1118.6 277.8L1119.5 269.8L1120.3 262.4L1121.2 255.5L1122.0 249.1L1122.9 243.2L1123.8 237.6L1124.6 232.5L1125.5 227.7L1126.3 223.2L1127.1 219.1L1128.0 215.2L1128.8 211.7L1129.7 208.3L1130.5 205.2L1131.4 202.4L1132.2 199.7L1133.1 197.2L1134.0 194.9L1134.8 192.8L1135.6 190.9L1136.5 189.1L1137.3 187.5L1138.2 186.0L1139.0 184.6L1139.9 183.4L1140.8 182.3L1141.6 181.3L1142.5 180.4L1143.3 179.7L1144.1 179.0L1145.0 178.5L1145.8 178.1L1146.7 177.7L1147.5 177.5L1148.4 177.4L1149.2 177.3L1150.1 177.4L1151.0 177.6L1151.8 177.8L1152.6 178.2L1153.5 178.6L1154.3 179.2L1155.2 179.8L1156.0 180.5L1156.9 181.4L1157.8 182.3L1158.6 183.4L1159.5 184.5L1160.3 185.8L1161.1 187.2L1162.0 188.6L1162.8 190.3L1163.7 192.0L1164.5 193.8L1165.4 195.8L1166.2 198.0L1167.1 200.2L1168.0 202.6L1168.8 205.2L1169.6 207.9L1170.5 210.8L1171.3 213.9L1172.2 217.2L1173.0 220.6L1173.9 224.3L1174.8 228.2L1175.6 232.3L1176.5 236.6L1177.3 241.2L1178.1 246.0L1179.0 251.1L1179.8 256.6L1180.7 262.3L1181.5 268.3L1182.4 274.6L1183.2 281.4L1184.1 288.4L1185.0 295.9L1185.8 303.8L1186.6 312.0L1187.5 320.7L1188.3 329.9L1189.2 339.5L1190.0 349.6L1190.9 360.2L1191.8 371.3L1192.6 382.9L1193.5 395.0L1194.3 407.6L1195.1 420.6L1196.0 434.2L1196.8 448.1L1197.7 462.5L1198.5 477.2L1199.4 492.2L1200.2 507.3L1201.1 522.6L1202.0 537.9L1202.8 553.1L1203.6 568.0L1204.5 582.5L1205.3 596.5L1206.2 609.7L1207.0 622.0L1207.9 633.2L1208.8 643.2L1209.6 651.8L1210.5 658.8L1211.3 664.3L1212.1 668.0L1213.0 670.0L1213.8 670.2L1214.7 668.7L1215.5 665.4L1216.4 660.6L1217.2 654.3L1218.1 646.5L1219.0 637.6L1219.8 627.6L1220.6 616.7L1221.5 605.1L1222.3 592.8L1223.2 580.2L1224.0 567.2L1224.9 554.0L1225.8 540.8L1226.6 527.6L1227.5 514.5L1228.3 501.6L1229.1 489.0L1230.0 476.7L1230.8 464.7L1231.7 453.0L1232.5 441.8L1233.4 431.0L1234.2 420.5L1235.1 410.5L1236.0 400.9L1236.8 391.8L1237.6 383.0L1238.5 374.6L1239.3 366.7L1240.2 359.1L1241.0 351.9L1241.9 345.0L1242.8 338.5L1243.6 332.3L1244.5 326.5L1245.3 320.9L1246.1 315.7L1247.0 310.7L1247.8 306.0L1248.7 301.6L1249.5 297.4L1250.4 293.5L1251.2 289.8L1252.1 286.3L1253.0 283.1L1253.8 280.0L1254.6 277.2L1255.5 274.5L1256.3 272.0L1257.2 269.7L1258.0 267.6L1258.9 265.6L1259.8 263.8L1260.6 262.2L1261.5 260.7L1262.3 259.4L1263.1 258.2L1264.0 257.2L1264.8 256.3L1265.7 255.5L1266.5 254.9L1267.4 254.4L1268.2 254.0L1269.1 253.8L1270.0 253.7L1270.8 253.7L1271.6 253.8L1272.5 254.1L1273.3 254.5L1274.2 255.1L1275.0 255.7L1275.9 256.5L1276.8 257.4L1277.6 258.5L1278.5 259.7L1279.3 261.0L1280.1 262.4L1281.0 264.0L1281.8 265.8L1282.7 267.7L1283.5 269.7L1284.4 271.8L1285.2 274.2L1286.1 276.6L1287.0 279.3L1287.8 282.1L1288.6 285.1L1289.5 288.2L1290.3 291.5L1291.2 295.0L1292.0 298.7L1292.9 302.6L1293.8 306.6L1294.6 310.9L1295.5 315.4L1296.3 320.0L1297.1 324.9L1298.0 330.1L1298.8 335.4L1299.7 341.0L1300.5 346.8L1301.4 352.8L1302.2 359.1L1303.1 365.6L1304.0 372.3L1304.8 379.3L1305.6 386.5L1306.5 394.0L1307.3 401.7L1308.2 409.6L1309.0 417.7L1309.9 426.1L1310.8 434.6L1311.6 443.3L1312.5 452.2L1313.3 461.2L1314.1 470.3L1315.0 479.5L1315.8 488.8L1316.7 498.0L1317.5 507.2L1318.4 516.4L1319.2 525.4L1320.1 534.2L1321.0 542.8L1321.8 551.2L1322.6 559.1L1323.5 566.7L1324.3 573.9L1325.2 580.5L1326.0 586.5L1326.9 591.9L1327.8 596.7L1328.6 600.7L1329.5 604.0L1330.3 606.6L1331.1 608.3L1332.0 609.3L1332.8 609.4L1333.7 608.8L1334.5 607.3L1335.4 605.1L1336.2 602.2L1337.1 598.6L1338.0 594.3L1338.8 589.5L1339.6 584.0L1340.5 578.1L1341.3 571.7L1342.2 565.0L1343.0 557.9L1343.9 550.5L1344.8 542.9L1345.6 535.1L1346.5 527.2L1347.3 519.2L1348.1 511.1L1349.0 503.1L1349.8 495.0L1350.7 487.1L1351.5 479.2L1352.4 471.4L1353.2 463.7L1354.1 456.2L1354.9 448.8L1355.8 441.7L1356.6 434.7L1357.5 427.9L1358.3 421.3L1359.2 414.9L1360.0 408.7L1360.9 402.7L1361.8 396.9L1362.6 391.4L1363.4 386.0L1364.3 380.9L1365.1 376.0L1366.0 371.3L1366.8 366.8L1367.7 362.5L1368.5 358.4L1369.4 354.5L1370.2 350.8L1371.1 347.2L1371.9 343.9L1372.8 340.7L1373.6 337.7L1374.5 334.9L1375.3 332.2L1376.2 329.8L1377.0 327.4L1377.9 325.3L1378.8 323.3L1379.6 321.4L1380.4 319.7L1381.3 318.2L1382.1 316.7L1383.0 315.5L1383.8 314.4L1384.7 313.4L1385.5 312.5L1386.4 311.8L1387.2 311.2L1388.1 310.8L1388.9 310.5L1389.8 310.3L1390.6 310.3L1391.5 310.3L1392.3 310.5L1393.2 310.9L1394.0 311.3L1394.9 311.9L1395.8 312.7L1396.6 313.5L1397.4 314.5L1398.3 315.6L1399.1 316.9L1400.0 318.2L1400.8 319.7L1401.7 321.4L1402.5 323.1L1403.4 325.0L1404.2 327.1L1405.1 329.3L1405.9 331.6L1406.8 334.0L1407.6 336.6L1408.5 339.3L1409.3 342.2L1410.2 345.2L1411.0 348.4L1411.9 351.7L1412.8 355.1L1413.6 358.7L1414.4 362.5L1415.3 366.3L1416.1 370.4L1417.0 374.5L1417.8 378.9L1418.7 383.3L1419.5 387.9L1420.4 392.6L1421.2 397.5L1422.1 402.5L1422.9 407.6L1423.8 412.8L1424.6 418.2L1425.5 423.6L1426.3 429.2L1427.2 434.8L1428.0 440.5L1428.9 446.3L1429.8 452.1L1430.6 458.0L1431.4 463.8L1432.3 469.7L1433.1 475.6L1434.0 481.4L1434.8 487.2L1435.7 492.9L1436.5 498.5L1437.4 504.0L1438.2 509.4L1439.1 514.6L1439.9 519.5L1440.8 524.3L1441.6 528.8L1442.5 533.1L1443.3 537.1L1444.2 540.8L1445.0 544.1L1445.9 547.1L1446.8 549.7L1447.6 552.0L1448.4 553.8L1449.3 555.3L1450.1 556.3L1451.0 557.0L1451.8 557.2L1452.7 557.0L1453.5 556.4L1454.4 555.4L1455.2 554.0L1456.1 552.2L1456.9 550.1L1457.8 547.6L1458.6 544.8L1459.5 541.7L1460.3 538.3L1461.2 534.6L1462.0 530.7L1462.9 526.6L1463.8 522.3L1464.6 517.8L1465.4 513.1L1466.3 508.4L1467.1 503.5L1468.0 498.5L1468.8 493.5L1469.7 488.5L1470.5 483.4L1471.4 478.3L1472.2 473.2L1473.1 468.1L1473.9 463.1L1474.8 458.1L1475.6 453.2L1476.5 448.3L1477.3 443.5L1478.2 438.8L1479.0 434.2L1479.9 429.7L1480.8 425.4L1481.6 421.1L1482.4 416.9L1483.3 412.9L1484.1 409.0L1485.0 405.2L1485.8 401.5L1486.7 398.0L1487.5 394.6L1488.4 391.3L1489.2 388.2L1490.1 385.1L1490.9 382.3L1491.8 379.5L1492.6 376.9L1493.5 374.4L1494.3 372.1L1495.2 369.8L1496.0 367.7L1496.9 365.8L1497.8 363.9L1498.6 362.2L1499.4 360.6L1500.3 359.1L1501.1 357.8L1502.0 356.6L1502.8 355.5L1503.7 354.5L1504.5 353.6L1505.4 352.9L1506.2 352.2L1507.1 351.7L1507.9 351.3L1508.8 351.0L1509.6 350.9L1510.5 350.8L1511.3 350.9L1512.2 351.1L1513.0 351.3L1513.9 351.7L1514.8 352.2L1515.6 352.9L1516.4 353.6L1517.3 354.4L1518.1 355.4L1519.0 356.5L1519.8 357.6L1520.7 358.9L1521.5 360.3L1522.4 361.8L1523.2 363.4L1524.1 365.1L1524.9 366.9L1525.8 368.9L1526.6 370.9L1527.5 373.0L1528.3 375.3L1529.2 377.6L1530.0 380.1L1530.9 382.6L1531.8 385.3L1532.6 388.0L1533.4 390.9L1534.3 393.8L1535.1 396.8L1536.0 400.0L1536.8 403.2L1537.7 406.5L1538.5 409.8L1539.4 413.3L1540.2 416.8L1541.1 420.4L1541.9 424.0L1542.8 427.7L1543.6 431.4L1544.5 435.2L1545.3 439.0L1546.2 442.9L1547.0 446.7L1547.9 450.6L1548.8 454.5L1549.6 458.3L1550.4 462.2L1551.3 466.0L1552.1 469.7L1553.0 473.5L1553.8 477.1L1554.7 480.7L1555.5 484.2L1556.4 487.6L1557.2 490.9L1558.1 494.1L1558.9 497.1L1559.8 500.0L1560.6 502.7L1561.5 505.3L1562.3 507.6L1563.2 509.8L1564.0 511.8L1564.9 513.6L1565.8 515.2L1566.6 516.6L1567.4 517.7L1568.3 518.6L1569.1 519.3L1570.0 519.8L1570.8 520.0L1571.7 520.0L1572.5 519.8L1573.4 519.3L1574.2 518.6L1575.1 517.7L1575.9 516.6L1576.8 515.2L1577.6 513.7L1578.5 512.0L1579.3 510.1L1580.2 508.0L1581.0 505.8L1581.9 503.4L1582.8 500.9L1583.6 498.2L1584.4 495.5L1585.3 492.6L1586.1 489.7L1587.0 486.6L1587.8 483.5L1588.7 480.3L1589.5 477.1L1590.4 473.8L1591.2 470.6L1592.1 467.2L1592.9 463.9L1593.8 460.6L1594.6 457.3L1595.5 454.0L1596.3 450.7L1597.2 447.5L1598.0 444.3L1598.9 441.1L1599.8 438.0L1600.6 434.9L1601.4 431.9L1602.3 428.9L1603.1 426.0L1604.0 423.2L1604.8 420.5L1605.7 417.8L1606.5 415.2L1607.4 412.7L1608.2 410.3L1609.1 408.0L1609.9 405.7L1610.8 403.5L1611.7 401.5L1612.5 399.5L1613.3 397.6L1614.2 395.8L1615.0 394.1L1615.9 392.5L1616.8 390.9L1617.6 389.5L1618.4 388.2L1619.3 386.9L1620.2 385.8L1621.0 384.7L1621.8 383.8L1622.7 382.9L1623.5 382.1L1624.4 381.5L1625.2 380.9L1626.1 380.4L1626.9 380.0L1627.8 379.7L1628.7 379.5L1629.5 379.3L1630.3 379.3L1631.2 379.4L1632.0 379.5L1632.9 379.8L1633.8 380.1L1634.6 380.5L1635.4 381.0L1636.3 381.6L1637.2 382.3L1638.0 383.1L1638.8 383.9L1639.7 384.8L1640.5 385.9L1641.4 387.0L1642.2 388.1L1643.1 389.4L1643.9 390.8L1644.8 392.2L1645.7 393.7L1646.5 395.3L1647.3 396.9L1648.2 398.6L1649.0 400.4L1649.9 402.3L1650.8 404.2L1651.6 406.2L1652.4 408.3L1653.3 410.4L1654.2 412.6L1655.0 414.8L1655.8 417.1L1656.7 419.5L1657.5 421.8L1658.4 424.3L1659.2 426.7L1660.1 429.2L1660.9 431.7L1661.8 434.3L1662.7 436.8L1663.5 439.4L1664.3 442.0L1665.2 444.6L1666.0 447.2L1666.9 449.8L1667.8 452.3L1668.6 454.9L1669.4 457.4L1670.3 459.9L1671.2 462.4L1672.0 464.8L1672.8 467.1L1673.7 469.5L1674.5 471.7L1675.4 473.9L1676.2 475.9L1677.1 478.0L1677.9 479.9L1678.8 481.7L1679.7 483.4L1680.5 485.0L1681.3 486.5L1682.2 487.9L1683.0 489.2L1683.9 490.3L1684.8 491.3L1685.6 492.2L1686.4 493.0L1687.3 493.6L1688.2 494.1L1689.0 494.4L1689.8 494.6L1690.7 494.7L1691.5 494.6L1692.4 494.4L1693.2 494.0L1694.1 493.5L1694.9 492.9L1695.8 492.2L1696.7 491.3L1697.5 490.3L1698.3 489.2L1699.2 488.0L1700.0 486.7L1700.9 485.3L1701.8 483.8L1702.6 482.2L1703.4 480.5L1704.3 478.7L1705.2 476.9L1706.0 475.0L1706.8 473.1L1707.7 471.1L1708.5 469.0L1709.4 466.9L1710.2 464.8L1711.1 462.7L1711.9 460.5L1712.8 458.3L1713.7 456.1L1714.5 453.9L1715.3 451.7L1716.2 449.5L1717.0 447.3L1717.9 445.2L1718.8 443.0L1719.6 440.9L1720.4 438.8L1721.3 436.7L1722.2 434.6L1723.0 432.6L1723.8 430.7L1724.7 428.7L1725.5 426.9L1726.4 425.0L1727.2 423.3L1728.1 421.5L1728.9 419.9L1729.8 418.2L1730.7 416.7L1731.5 415.2L1732.3 413.7L1733.2 412.4L1734.0 411.1L1734.9 409.8L1735.8 408.6L1736.6 407.5L1737.4 406.5L1738.3 405.5L1739.2 404.6L1740.0 403.7L1740.8 403.0L1741.7 402.3L1742.5 401.6L1743.4 401.1L1744.2 400.6L1745.1 400.1L1745.9 399.8L1746.8 399.5L1747.7 399.3L1748.5 399.1L1749.3 399.1L1750.2 399.1L1751.0 399.1L1751.9 399.2L1752.8 399.4L1753.6 399.7L1754.4 400.0L1755.3 400.4L1756.2 400.9L1757.0 401.4L1757.8 402.0L1758.7 402.7L1759.5 403.4L1760.4 404.2L1761.2 405.0L1762.1 405.9L1762.9 406.9L1763.8 407.9L1764.7 408.9L1765.5 410.1L1766.3 411.2L1767.2 412.5L1768.0 413.7L1768.9 415.1L1769.8 416.4L1770.6 417.8L1771.4 419.3L1772.3 420.8" stroke="#ee1c25" stroke-width="4.6" stroke-dasharray="13 7"/>
<path d="M1109.3 392.0L1110.1 390.0L1111.0 388.4L1111.8 387.1L1112.7 386.0L1113.5 385.0L1114.4 384.2L1115.2 383.5L1116.1 383.0L1117.0 382.5L1117.8 382.1L1118.6 381.7L1119.5 381.4L1120.3 381.2L1121.2 381.0L1122.0 380.8L1122.9 380.7L1123.8 380.5L1124.6 380.4L1125.5 380.4L1126.3 380.3L1127.1 380.2L1128.0 380.2L1128.8 380.2L1129.7 380.2L1130.5 380.2L1131.4 380.2L1132.2 380.2L1133.1 380.2L1134.0 380.3L1134.8 380.3L1135.6 380.3L1136.5 380.4L1137.3 380.5L1138.2 380.5L1139.0 380.6L1139.9 380.7L1140.8 380.8L1141.6 380.8L1142.5 380.9L1143.3 381.0L1144.1 381.2L1145.0 381.3L1145.8 381.4L1146.7 381.5L1147.5 381.7L1148.4 381.8L1149.2 382.0L1150.1 382.1L1151.0 382.3L1151.8 382.5L1152.6 382.7L1153.5 382.9L1154.3 383.1L1155.2 383.3L1156.0 383.5L1156.9 383.8L1157.8 384.0L1158.6 384.3L1159.5 384.6L1160.3 384.9L1161.1 385.2L1162.0 385.5L1162.8 385.9L1163.7 386.3L1164.5 386.6L1165.4 387.1L1166.2 387.5L1167.1 387.9L1168.0 388.4L1168.8 388.9L1169.6 389.5L1170.5 390.1L1171.3 390.7L1172.2 391.3L1173.0 392.0L1173.9 392.7L1174.8 393.5L1175.6 394.3L1176.5 395.2L1177.3 396.2L1178.1 397.2L1179.0 398.2L1179.8 399.4L1180.7 400.6L1181.5 401.9L1182.4 403.3L1183.2 404.8L1184.1 406.4L1185.0 408.1L1185.8 409.9L1186.6 411.9L1187.5 414.1L1188.3 416.4L1189.2 418.9L1190.0 421.6L1190.9 424.5L1191.8 427.6L1192.6 431.0L1193.5 434.7L1194.3 438.6L1195.1 443.0L1196.0 447.6L1196.8 452.7L1197.7 458.1L1198.5 464.0L1199.4 470.4L1200.2 477.3L1201.1 484.8L1202.0 492.8L1202.8 501.4L1203.6 510.6L1204.5 520.4L1205.3 530.7L1206.2 541.6L1207.0 552.9L1207.9 564.4L1208.8 575.9L1209.6 586.9L1210.5 596.7L1211.3 604.3L1212.1 607.9L1213.0 605.3L1213.8 592.9L1214.7 567.0L1215.5 524.1L1216.4 464.1L1217.2 393.2L1218.1 324.0L1219.0 269.6L1219.8 236.7L1220.6 224.0L1221.5 225.8L1222.3 236.2L1223.2 250.7L1224.0 266.6L1224.9 282.1L1225.8 296.5L1226.6 309.5L1227.5 321.1L1228.3 331.2L1229.1 340.1L1230.0 347.7L1230.8 354.4L1231.7 360.1L1232.5 365.1L1233.4 369.3L1234.2 373.0L1235.1 376.2L1236.0 379.0L1236.8 381.3L1237.6 383.4L1238.5 385.2L1239.3 386.7L1240.2 388.1L1241.0 389.3L1241.9 390.3L1242.8 391.2L1243.6 391.9L1244.5 392.6L1245.3 393.2L1246.1 393.7L1247.0 394.2L1247.8 394.6L1248.7 395.0L1249.5 395.3L1250.4 395.6L1251.2 395.9L1252.1 396.1L1253.0 396.4L1253.8 396.6L1254.6 396.8L1255.5 397.0L1256.3 397.2L1257.2 397.4L1258.0 397.6L1258.9 397.8L1259.8 398.0L1260.6 398.2L1261.5 398.4L1262.3 398.6L1263.1 398.8L1264.0 399.0L1264.8 399.2L1265.7 399.5L1266.5 399.7L1267.4 400.0L1268.2 400.3L1269.1 400.6L1270.0 400.9L1270.8 401.2L1271.6 401.5L1272.5 401.9L1273.3 402.3L1274.2 402.7L1275.0 403.1L1275.9 403.5L1276.8 404.0L1277.6 404.4L1278.5 405.0L1279.3 405.5L1280.1 406.0L1281.0 406.6L1281.8 407.3L1282.7 407.9L1283.5 408.6L1284.4 409.3L1285.2 410.1L1286.1 410.9L1287.0 411.7L1287.8 412.6L1288.6 413.5L1289.5 414.5L1290.3 415.6L1291.2 416.6L1292.0 417.8L1292.9 419.0L1293.8 420.2L1294.6 421.6L1295.5 423.0L1296.3 424.4L1297.1 426.0L1298.0 427.6L1298.8 429.3L1299.7 431.1L1300.5 433.0L1301.4 435.0L1302.2 437.1L1303.1 439.3L1304.0 441.6L1304.8 444.1L1305.6 446.6L1306.5 449.3L1307.3 452.1L1308.2 455.1L1309.0 458.2L1309.9 461.4L1310.8 464.8L1311.6 468.3L1312.5 472.0L1313.3 475.8L1314.1 479.7L1315.0 483.8L1315.8 487.9L1316.7 492.2L1317.5 496.6L1318.4 500.9L1319.2 505.3L1320.1 509.7L1321.0 514.0L1321.8 518.2L1322.6 522.1L1323.5 525.8L1324.3 529.1L1325.2 531.8L1326.0 533.9L1326.9 535.2L1327.8 535.5L1328.6 534.6L1329.5 532.2L1330.3 528.1L1331.1 521.9L1332.0 513.3L1332.8 501.8L1333.7 486.9L1334.5 468.3L1335.4 445.3L1336.2 417.7L1337.1 385.1L1338.0 347.6L1338.8 306.0L1339.6 261.7L1340.5 216.9L1341.3 174.6L1342.2 138.3L1343.0 111.0L1343.9 94.6L1344.8 89.6L1345.6 94.7L1346.5 107.9L1347.3 126.7L1348.1 148.7L1349.0 172.0L1349.8 195.2L1350.7 217.3L1351.5 238.0L1352.4 256.9L1353.2 273.9L1354.1 289.2L1354.9 302.8L1355.8 314.8L1356.6 325.4L1357.5 334.8L1358.3 343.1L1359.2 350.4L1360.0 356.9L1360.9 362.6L1361.8 367.7L1362.6 372.2L1363.4 376.2L1364.3 379.7L1365.1 382.9L1366.0 385.7L1366.8 388.2L1367.7 390.5L1368.5 392.5L1369.4 394.3L1370.2 396.0L1371.1 397.5L1371.9 398.9L1372.8 400.1L1373.6 401.3L1374.5 402.3L1375.3 403.3L1376.2 404.2L1377.0 405.0L1377.9 405.8L1378.8 406.6L1379.6 407.3L1380.4 407.9L1381.3 408.6L1382.1 409.2L1383.0 409.8L1383.8 410.4L1384.7 411.0L1385.5 411.5L1386.4 412.1L1387.2 412.6L1388.1 413.2L1388.9 413.8L1389.8 414.3L1390.6 414.9L1391.5 415.5L1392.3 416.1L1393.2 416.7L1394.0 417.3L1394.9 418.0L1395.8 418.6L1396.6 419.3L1397.4 420.0L1398.3 420.7L1399.1 421.5L1400.0 422.3L1400.8 423.1L1401.7 423.9L1402.5 424.7L1403.4 425.6L1404.2 426.6L1405.1 427.5L1405.9 428.5L1406.8 429.6L1407.6 430.6L1408.5 431.8L1409.3 432.9L1410.2 434.1L1411.0 435.4L1411.9 436.7L1412.8 438.0L1413.6 439.4L1414.4 440.9L1415.3 442.4L1416.1 444.0L1417.0 445.6L1417.8 447.3L1418.7 449.0L1419.5 450.8L1420.4 452.7L1421.2 454.6L1422.1 456.6L1422.9 458.7L1423.8 460.8L1424.6 462.9L1425.5 465.2L1426.3 467.4L1427.2 469.8L1428.0 472.2L1428.9 474.6L1429.8 477.0L1430.6 479.5L1431.4 482.0L1432.3 484.5L1433.1 487.0L1434.0 489.5L1434.8 491.9L1435.7 494.3L1436.5 496.6L1437.4 498.9L1438.2 500.9L1439.1 502.9L1439.9 504.6L1440.8 506.2L1441.6 507.5L1442.5 508.4L1443.3 509.0L1444.2 509.3L1445.0 509.0L1445.9 508.3L1446.8 507.0L1447.6 505.0L1448.4 502.3L1449.3 498.7L1450.1 494.3L1451.0 488.9L1451.8 482.3L1452.7 474.5L1453.5 465.4L1454.4 454.7L1455.2 442.3L1456.1 428.1L1456.9 411.9L1457.8 393.5L1458.6 372.7L1459.5 349.6L1460.3 324.0L1461.2 296.0L1462.0 266.0L1462.9 234.3L1463.8 201.9L1464.6 169.7L1465.4 139.3L1466.3 112.2L1467.1 90.0L1468.0 74.0L1468.8 65.1L1469.7 63.5L1470.5 68.9L1471.4 80.1L1472.2 96.0L1473.1 115.2L1473.9 136.2L1474.8 158.0L1475.6 179.8L1476.5 200.8L1477.3 220.8L1478.2 239.4L1479.0 256.5L1479.9 272.2L1480.8 286.4L1481.6 299.3L1482.4 310.9L1483.3 321.4L1484.1 330.8L1485.0 339.3L1485.8 347.0L1486.7 353.9L1487.5 360.1L1488.4 365.7L1489.2 370.7L1490.1 375.3L1490.9 379.5L1491.8 383.3L1492.6 386.7L1493.5 389.8L1494.3 392.7L1495.2 395.4L1496.0 397.8L1496.9 400.0L1497.8 402.1L1498.6 404.0L1499.4 405.8L1500.3 407.5L1501.1 409.1L1502.0 410.6L1502.8 411.9L1503.7 413.3L1504.5 414.5L1505.4 415.7L1506.2 416.9L1507.1 418.0L1507.9 419.1L1508.8 420.1L1509.6 421.2L1510.5 422.2L1511.3 423.1L1512.2 424.1L1513.0 425.1L1513.9 426.0L1514.8 427.0L1515.6 427.9L1516.4 428.9L1517.3 429.8L1518.1 430.8L1519.0 431.7L1519.8 432.7L1520.7 433.7L1521.5 434.7L1522.4 435.7L1523.2 436.8L1524.1 437.8L1524.9 438.9L1525.8 440.0L1526.6 441.2L1527.5 442.3L1528.3 443.5L1529.2 444.7L1530.0 445.9L1530.9 447.2L1531.8 448.4L1532.6 449.7L1533.4 451.1L1534.3 452.5L1535.1 453.9L1536.0 455.3L1536.8 456.7L1537.7 458.2L1538.5 459.7L1539.4 461.2L1540.2 462.8L1541.1 464.4L1541.9 466.0L1542.8 467.6L1543.6 469.2L1544.5 470.9L1545.3 472.5L1546.2 474.1L1547.0 475.8L1547.9 477.4L1548.8 479.0L1549.6 480.6L1550.4 482.2L1551.3 483.7L1552.1 485.2L1553.0 486.6L1553.8 488.0L1554.7 489.3L1555.5 490.5L1556.4 491.5L1557.2 492.5L1558.1 493.3L1558.9 494.0L1559.8 494.5L1560.6 494.8L1561.5 494.9L1562.3 494.7L1563.2 494.4L1564.0 493.7L1564.9 492.7L1565.8 491.4L1566.6 489.8L1567.4 487.7L1568.3 485.2L1569.1 482.3L1570.0 478.9L1570.8 475.0L1571.7 470.4L1572.5 465.3L1573.4 459.4L1574.2 452.8L1575.1 445.4L1575.9 437.1L1576.8 427.9L1577.6 417.6L1578.5 406.2L1579.3 393.6L1580.2 379.7L1581.0 364.3L1581.9 347.5L1582.8 329.1L1583.6 309.1L1584.4 287.6L1585.3 264.6L1586.1 240.3L1587.0 215.1L1587.8 189.5L1588.7 164.0L1589.5 139.5L1590.4 116.9L1591.2 97.2L1592.1 81.5L1592.9 70.4L1593.8 64.5L1594.6 63.9L1595.5 68.6L1596.3 77.8L1597.2 90.9L1598.0 107.0L1598.9 125.1L1599.8 144.3L1600.6 164.0L1601.4 183.6L1602.3 202.6L1603.1 220.8L1604.0 237.9L1604.8 253.9L1605.7 268.8L1606.5 282.5L1607.4 295.1L1608.2 306.6L1609.1 317.1L1609.9 326.7L1610.8 335.5L1611.7 343.5L1612.5 350.8L1613.3 357.4L1614.2 363.5L1615.0 369.1L1615.9 374.3L1616.8 379.0L1617.6 383.3L1618.4 387.3L1619.3 391.0L1620.2 394.4L1621.0 397.6L1621.8 400.6L1622.7 403.3L1623.5 405.9L1624.4 408.3L1625.2 410.6L1626.1 412.7L1626.9 414.8L1627.8 416.7L1628.7 418.5L1629.5 420.2L1630.3 421.9L1631.2 423.5L1632.0 425.1L1632.9 426.6L1633.8 428.0L1634.6 429.4L1635.4 430.8L1636.3 432.1L1637.2 433.4L1638.0 434.7L1638.8 436.0L1639.7 437.2L1640.5 438.4L1641.4 439.7L1642.2 440.9L1643.1 442.1L1643.9 443.3L1644.8 444.5L1645.7 445.7L1646.5 446.9L1647.3 448.1L1648.2 449.3L1649.0 450.5L1649.9 451.7L1650.8 452.9L1651.6 454.2L1652.4 455.4L1653.3 456.6L1654.2 457.8L1655.0 459.1L1655.8 460.3L1656.7 461.6L1657.5 462.8L1658.4 464.1L1659.2 465.3L1660.1 466.5L1660.9 467.8L1661.8 469.0L1662.7 470.2L1663.5 471.4L1664.3 472.6L1665.2 473.8L1666.0 474.9L1666.9 476.0L1667.8 477.1L1668.6 478.2L1669.4 479.2L1670.3 480.1L1671.2 481.0L1672.0 481.9L1672.8 482.7L1673.7 483.4L1674.5 484.0L1675.4 484.6L1676.2 485.0L1677.1 485.3L1677.9 485.6L1678.8 485.7L1679.7 485.7L1680.5 485.5L1681.3 485.2L1682.2 484.7L1683.0 484.1L1683.9 483.2L1684.8 482.2L1685.6 480.9L1686.4 479.5L1687.3 477.8L1688.2 475.8L1689.0 473.5L1689.8 471.0L1690.7 468.1L1691.5 465.0L1692.4 461.4L1693.2 457.5L1694.1 453.1L1694.9 448.4L1695.8 443.1L1696.7 437.3L1697.5 431.0L1698.3 424.1L1699.2 416.5L1700.0 408.2L1700.9 399.2L1701.8 389.3L1702.6 378.6L1703.4 367.0L1704.3 354.3L1705.2 340.6L1706.0 325.7L1706.8 309.8L1707.7 292.6L1708.5 274.4L1709.4 255.1L1710.2 235.0L1711.1 214.1L1711.9 192.9L1712.8 171.7L1713.7 151.1L1714.5 131.6L1715.3 114.0L1716.2 98.9L1717.0 87.0L1717.9 78.8L1718.8 74.6L1719.6 74.6L1720.4 78.6L1721.3 86.4L1722.2 97.3L1723.0 110.8L1723.8 126.2L1724.7 143.0L1725.5 160.4L1726.4 178.1L1727.2 195.6L1728.1 212.6L1728.9 229.0L1729.8 244.5L1730.7 259.2L1731.5 272.9L1732.3 285.6L1733.2 297.5L1734.0 308.4L1734.9 318.6L1735.8 327.9L1736.6 336.5L1737.4 344.5L1738.3 351.8L1739.2 358.6L1740.0 364.8L1740.8 370.6L1741.7 376.0L1742.5 380.9L1743.4 385.5L1744.2 389.8L1745.1 393.8L1745.9 397.5L1746.8 401.0L1747.7 404.3L1748.5 407.4L1749.3 410.3L1750.2 413.0L1751.0 415.6L1751.9 418.0L1752.8 420.3L1753.6 422.5L1754.4 424.6L1755.3 426.6L1756.2 428.6L1757.0 430.4L1757.8 432.2L1758.7 433.9L1759.5 435.6L1760.4 437.2L1761.2 438.8L1762.1 440.3L1762.9 441.8L1763.8 443.2L1764.7 444.6L1765.5 446.0L1766.3 447.3L1767.2 448.7L1768.0 450.0L1768.9 451.2L1769.8 452.5L1770.6 453.7L1771.4 455.0L1772.3 456.2" stroke="#1010d8" stroke-width="4.4"/>
</g>
<path d="M1108.7 89.8H1203.7" stroke="#000" stroke-width="4.6" stroke-dasharray="13 7" fill="none"/>
<path d="M1108.7 157.7H1203.7" stroke="#ee1c25" stroke-width="4.6" stroke-dasharray="13 7" fill="none"/>
<path d="M1264.0 89.8H1365.0" stroke="#1010d8" stroke-width="4.4" fill="none"/>
<path d="M1092.3 685.3L1774.3 685.3" stroke="#000" stroke-width="4"/>
<path d="M1092.3 61.5L1774.3 61.5" stroke="#333" stroke-width="4"/>
<path d="M1772.3 61.5L1772.3 687.3" stroke="#333" stroke-width="4"/>
<path d="M1092.3 59.5L1092.3 687.3" stroke="#5a55c4" stroke-width="5"/>
<text x="1072.8" y="73.5" font-size="42.8" font-weight="bold" text-anchor="end" fill="#1616cc">2.0</text>
<path d="M1092.3 139.5L1111.3 139.5" stroke="#2020c8" stroke-width="3"/>
<text x="1072.8" y="151.5" font-size="42.8" font-weight="bold" text-anchor="end" fill="#1616cc">1.5</text>
<path d="M1092.3 217.4L1111.3 217.4" stroke="#2020c8" stroke-width="3"/>
<text x="1072.8" y="229.4" font-size="42.8" font-weight="bold" text-anchor="end" fill="#1616cc">1.0</text>
<path d="M1092.3 295.4L1111.3 295.4" stroke="#2020c8" stroke-width="3"/>
<text x="1072.8" y="307.4" font-size="42.8" font-weight="bold" text-anchor="end" fill="#1616cc">0.5</text>
<path d="M1092.3 373.4L1111.3 373.4" stroke="#2020c8" stroke-width="3"/>
<text x="1072.8" y="385.4" font-size="42.8" font-weight="bold" text-anchor="end" fill="#1616cc">0.0</text>
<path d="M1092.3 451.4L1111.3 451.4" stroke="#2020c8" stroke-width="3"/>
<text x="1072.8" y="463.4" font-size="42.8" font-weight="bold" text-anchor="end" fill="#1616cc">-0.5</text>
<path d="M1092.3 529.3L1111.3 529.3" stroke="#2020c8" stroke-width="3"/>
<text x="1072.8" y="541.3" font-size="42.8" font-weight="bold" text-anchor="end" fill="#1616cc">-1.0</text>
<path d="M1092.3 607.3L1111.3 607.3" stroke="#2020c8" stroke-width="3"/>
<text x="1072.8" y="619.3" font-size="42.8" font-weight="bold" text-anchor="end" fill="#1616cc">-1.5</text>
<text x="1072.8" y="697.3" font-size="42.8" font-weight="bold" text-anchor="end" fill="#1616cc">-2.0</text>
<path d="M1089.8 685.3L1111.3 685.3" stroke="#2020c8" stroke-width="4"/>
<text x="1791.3" y="73.5" font-size="42.8" font-weight="bold" fill="#000">1.0</text>
<path d="M1753.3 186.3L1772.3 186.3" stroke="#000" stroke-width="3"/>
<text x="1791.3" y="198.3" font-size="42.8" font-weight="bold" fill="#000">0.8</text>
<path d="M1753.3 311.0L1772.3 311.0" stroke="#000" stroke-width="3"/>
<text x="1791.3" y="323.0" font-size="42.8" font-weight="bold" fill="#000">0.6</text>
<path d="M1753.3 435.8L1772.3 435.8" stroke="#000" stroke-width="3"/>
<text x="1791.3" y="447.8" font-size="42.8" font-weight="bold" fill="#000">0.4</text>
<path d="M1753.3 560.5L1772.3 560.5" stroke="#000" stroke-width="3"/>
<text x="1791.3" y="572.5" font-size="42.8" font-weight="bold" fill="#000">0.2</text>
<text x="1791.3" y="697.3" font-size="42.8" font-weight="bold" fill="#000">0.0</text>
<text x="1092.3" y="741.5" font-size="42.8" font-weight="bold" text-anchor="middle" fill="#000">0</text>
<path d="M1262.3 666.3L1262.3 685.3" stroke="#000" stroke-width="3"/>
<text x="1262.3" y="741.5" font-size="42.8" font-weight="bold" text-anchor="middle" fill="#000">100</text>
<path d="M1432.3 666.3L1432.3 685.3" stroke="#000" stroke-width="3"/>
<text x="1432.3" y="741.5" font-size="42.8" font-weight="bold" text-anchor="middle" fill="#000">200</text>
<path d="M1602.3 666.3L1602.3 685.3" stroke="#000" stroke-width="3"/>
<text x="1602.3" y="741.5" font-size="42.8" font-weight="bold" text-anchor="middle" fill="#000">300</text>
<text x="1772.3" y="741.5" font-size="42.8" font-weight="bold" text-anchor="middle" fill="#000">400</text>
<text x="1433.5" y="796.8" font-size="48.6" font-weight="bold" text-anchor="middle" fill="#000">Thickness of BP (nm)</text>
<text transform="translate(983.4 418.0) rotate(-90)" font-size="47" font-weight="bold" fill="#1616cc">ΔR/R<tspan dy="16.5" font-size="29">AZ</tspan></text>
<text x="0" y="0" font-size="48.5" font-weight="bold" text-anchor="middle" fill="#000" transform="translate(1906.3 373.7) rotate(-90)">Reflectance (%)</text>
<g clip-path="url(#cd)">
<path d="M1265.2 1376.5L1273.3 1333.4M1360.8 1320.1L1387.3 1255.6M1467.9 1282.1L1603.8 1039.3M1581.9 1256.8L1747.1 1028.2M1692.4 1242.2L1765.6 1165.1M1778.8 1151.1L1897.2 1012.3M1850.1 1192.0L1867.3 1176.2M1498.3 959.1L1539.6 845.9M1636.1 981.9L1707.4 845.9M1768.2 997.8L1875.2 845.9" stroke="#ff0000" stroke-width="20.5" stroke-linecap="round" fill="none"/>
<circle cx="1273.3" cy="1333.4" r="7" fill="#fff3ea"/>
<circle cx="1273.3" cy="1333.4" r="1.6" fill="#c22"/>
<circle cx="1387.3" cy="1255.6" r="7" fill="#fff3ea"/>
<circle cx="1387.3" cy="1255.6" r="1.6" fill="#c22"/>
<circle cx="1603.8" cy="1039.3" r="7" fill="#fff3ea"/>
<circle cx="1603.8" cy="1039.3" r="1.6" fill="#c22"/>
<circle cx="1747.1" cy="1028.2" r="7" fill="#fff3ea"/>
<circle cx="1747.1" cy="1028.2" r="1.6" fill="#c22"/>
<circle cx="1765.6" cy="1165.1" r="7" fill="#fff3ea"/>
<circle cx="1765.6" cy="1165.1" r="1.6" fill="#c22"/>
<circle cx="1897.2" cy="1012.3" r="7" fill="#fff3ea"/>
<circle cx="1897.2" cy="1012.3" r="1.6" fill="#c22"/>
<circle cx="1867.3" cy="1176.2" r="7" fill="#fff3ea"/>
<circle cx="1867.3" cy="1176.2" r="1.6" fill="#c22"/>
<circle cx="1539.6" cy="845.9" r="7" fill="#fff3ea"/>
<circle cx="1539.6" cy="845.9" r="1.6" fill="#c22"/>
<circle cx="1707.4" cy="845.9" r="7" fill="#fff3ea"/>
<circle cx="1707.4" cy="845.9" r="1.6" fill="#c22"/>
<circle cx="1875.2" cy="845.9" r="7" fill="#fff3ea"/>
<circle cx="1875.2" cy="845.9" r="1.6" fill="#c22"/>
</g>
<circle cx="1254.6" cy="879.0" r="7.5" fill="#fff" stroke="#e8323c" stroke-width="2.2"/>
<circle cx="1254.6" cy="879.0" r="1.8" fill="#e8323c"/>
<text x="1314.8" y="893.4" font-size="42.6" font-weight="bold" fill="#000">ER<tspan font-weight="normal" font-family="'Liberation Serif', 'DejaVu Sans', serif">≥</tspan>16dB</text>
<rect x="1191.7" y="844.2" width="705.7" height="628.8" fill="none" stroke="#000" stroke-width="3"/>
<path d="M1332.8 1473.0v-20.0M1191.7 970.0h20.0M1474.0 1473.0v-20.0M1191.7 1095.7h20.0M1615.1 1473.0v-20.0M1191.7 1221.5h20.0M1756.3 1473.0v-20.0M1191.7 1347.2h20.0" stroke="#000" stroke-width="3" fill="none"/>
<text x="1171.0" y="858.2" font-size="42.8" font-weight="bold" text-anchor="end" fill="#000">900</text>
<text x="1191.7" y="1528.0" font-size="42.8" font-weight="bold" text-anchor="middle" fill="#000">0</text>
<text x="1171.0" y="984.0" font-size="42.8" font-weight="bold" text-anchor="end" fill="#000">800</text>
<text x="1332.8" y="1528.0" font-size="42.8" font-weight="bold" text-anchor="middle" fill="#000">100</text>
<text x="1171.0" y="1109.7" font-size="42.8" font-weight="bold" text-anchor="end" fill="#000">700</text>
<text x="1474.0" y="1528.0" font-size="42.8" font-weight="bold" text-anchor="middle" fill="#000">200</text>
<text x="1171.0" y="1235.5" font-size="42.8" font-weight="bold" text-anchor="end" fill="#000">600</text>
<text x="1615.1" y="1528.0" font-size="42.8" font-weight="bold" text-anchor="middle" fill="#000">300</text>
<text x="1171.0" y="1361.2" font-size="42.8" font-weight="bold" text-anchor="end" fill="#000">500</text>
<text x="1756.3" y="1528.0" font-size="42.8" font-weight="bold" text-anchor="middle" fill="#000">400</text>
<text x="1171.0" y="1487.0" font-size="42.8" font-weight="bold" text-anchor="end" fill="#000">400</text>
<text x="1897.4" y="1528.0" font-size="42.8" font-weight="bold" text-anchor="middle" fill="#000">500</text>
<text x="1544.7" y="1588.3" font-size="47.5" font-weight="bold" text-anchor="middle" fill="#000">Thickness of BP (nm)</text>
<text x="0" y="0" font-size="47.9" font-weight="bold" text-anchor="middle" fill="#000" transform="translate(1082.2 1153.6) rotate(-90)">Peak Wavelength (nm)</text>
<g clip-path="url(#cf)">
<path d="M1258.2 2085.1L1264.6 2058.6L1282.6 2058.6L1282.6 2076.6L1276.2 2103.1L1258.2 2103.1zM1312.9 1873.4L1322.6 1838.7L1340.6 1838.7L1340.6 1856.7L1330.9 1891.4L1312.9 1891.4zM1354.3 2053.7L1375.3 2007.8L1393.3 2007.8L1393.3 2025.8L1372.3 2071.7L1354.3 2071.7zM1413.7 1923.4L1446.4 1846.6L1464.4 1846.6L1464.4 1864.6L1431.7 1941.4L1413.7 1941.4zM1457.1 2030.6L1566.3 1857.7L1584.3 1857.7L1584.3 1875.7L1475.1 2048.6L1457.1 2048.6zM1568.4 2008.0L1677.8 1873.5L1695.8 1873.5L1695.8 1891.5L1586.4 2026.0L1568.4 2026.0zM1678.1 1995.1L1752.6 1922.9L1770.6 1922.9L1770.6 1940.9L1696.1 2013.1L1678.1 2013.1zM1838.5 1945.4L1848.3 1937.5L1866.3 1937.5L1866.3 1955.5L1856.5 1963.4L1838.5 1963.4z" fill="#ff0000"/>
<rect x="1268.1" y="2062.1" width="11" height="11" fill="#fff3ea"/>
<circle cx="1273.6" cy="2067.6" r="1.6" fill="#c22"/>
<rect x="1326.1" y="1842.2" width="11" height="11" fill="#fff3ea"/>
<circle cx="1331.6" cy="1847.7" r="1.6" fill="#c22"/>
<rect x="1378.8" y="2011.3" width="11" height="11" fill="#fff3ea"/>
<circle cx="1384.3" cy="2016.8" r="1.6" fill="#c22"/>
<rect x="1449.9" y="1850.1" width="11" height="11" fill="#fff3ea"/>
<circle cx="1455.4" cy="1855.6" r="1.6" fill="#c22"/>
<rect x="1569.8" y="1861.2" width="11" height="11" fill="#fff3ea"/>
<circle cx="1575.3" cy="1866.7" r="1.6" fill="#c22"/>
<rect x="1681.3" y="1877.0" width="11" height="11" fill="#fff3ea"/>
<circle cx="1686.8" cy="1882.5" r="1.6" fill="#c22"/>
<rect x="1756.1" y="1926.4" width="11" height="11" fill="#fff3ea"/>
<circle cx="1761.6" cy="1931.9" r="1.6" fill="#c22"/>
<rect x="1851.8" y="1941.0" width="11" height="11" fill="#fff3ea"/>
<circle cx="1857.3" cy="1946.5" r="1.6" fill="#c22"/>
</g>
<rect x="1260.5" y="1650.1" width="15" height="15" fill="#fff" stroke="#ee4a50" stroke-width="3"/>
<circle cx="1268.0" cy="1657.6" r="1.8" fill="#ee4a50"/>
<text x="1328.2" y="1672.3" font-size="42.6" font-weight="bold" fill="#000">ER<tspan font-weight="normal" font-family="'Liberation Serif', 'DejaVu Sans', serif">≥</tspan>16dB</text>
<rect x="1191.6" y="1613.8" width="704.0" height="613.1" fill="none" stroke="#000" stroke-width="3"/>
<path d="M1332.4 2226.9v-20.0M1191.6 1736.4h20.0M1473.2 2226.9v-20.0M1191.6 1859.0h20.0M1614.0 2226.9v-20.0M1191.6 1981.7h20.0M1754.8 2226.9v-20.0M1191.6 2104.3h20.0" stroke="#000" stroke-width="3" fill="none"/>
<text x="1169.4" y="1627.8" font-size="42.8" font-weight="bold" text-anchor="end" fill="#000">900</text>
<text x="1191.6" y="2282.0" font-size="42.8" font-weight="bold" text-anchor="middle" fill="#000">0</text>
<text x="1169.4" y="1750.4" font-size="42.8" font-weight="bold" text-anchor="end" fill="#000">800</text>
<text x="1332.4" y="2282.0" font-size="42.8" font-weight="bold" text-anchor="middle" fill="#000">100</text>
<text x="1169.4" y="1873.0" font-size="42.8" font-weight="bold" text-anchor="end" fill="#000">700</text>
<text x="1473.2" y="2282.0" font-size="42.8" font-weight="bold" text-anchor="middle" fill="#000">200</text>
<text x="1169.4" y="1995.7" font-size="42.8" font-weight="bold" text-anchor="end" fill="#000">600</text>
<text x="1614.0" y="2282.0" font-size="42.8" font-weight="bold" text-anchor="middle" fill="#000">300</text>
<text x="1169.4" y="2118.3" font-size="42.8" font-weight="bold" text-anchor="end" fill="#000">500</text>
<text x="1754.8" y="2282.0" font-size="42.8" font-weight="bold" text-anchor="middle" fill="#000">400</text>
<text x="1169.4" y="2240.9" font-size="42.8" font-weight="bold" text-anchor="end" fill="#000">400</text>
<text x="1895.6" y="2282.0" font-size="42.8" font-weight="bold" text-anchor="middle" fill="#000">500</text>
<text x="1543.8" y="2330.4" font-size="47.8" font-weight="bold" text-anchor="middle" fill="#000">Thickness of BP (nm)</text>
<text x="0" y="0" font-size="47.9" font-weight="bold" text-anchor="middle" fill="#000" transform="translate(1081.9 1919.7) rotate(-90)">Peak Wavelength (nm)</text>
<text x="68.5" y="132.4" font-size="85">(a)</text>
<text x="908.0" y="125.2" font-size="85">(b)</text>
<text x="50.5" y="803.4" font-size="85">(c)</text>
<text x="953.0" y="809.5" font-size="85">(d)</text>
<text x="47.5" y="1573.0" font-size="85">(e)</text>
<text x="1005.0" y="1568.2" font-size="85">(f)</text>
</g>
</svg></body></html>
